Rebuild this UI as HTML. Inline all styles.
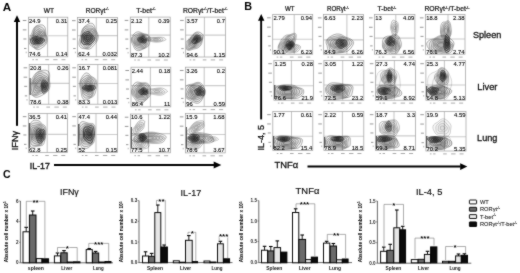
<!DOCTYPE html>
<html><head><meta charset="utf-8"><style>
html,body{margin:0;padding:0;background:#fff;width:520px;height:273px;overflow:hidden}
#w{width:520px;height:273px}
svg{display:block;font-family:"Liberation Sans", sans-serif}
</style></head><body>
<div id="w"><svg width="520" height="273" viewBox="0 0 520 273" font-family='"Liberation Sans", sans-serif'>
<defs><filter id="bl" x="0" y="0" width="520" height="273" filterUnits="userSpaceOnUse" color-interpolation-filters="sRGB"><feConvolveMatrix order="3" kernelMatrix="1 2 1 2 20 2 1 2 1" divisor="32" edgeMode="duplicate" preserveAlpha="true"/></filter></defs>
<g filter="url(#bl)">
<rect width="520" height="273" fill="#fff"/>
<text x="2.70" y="10.80" font-size="10.2" font-weight="bold" text-anchor="start" fill="#000" textLength="8.40" lengthAdjust="spacingAndGlyphs">A</text>
<text x="244.30" y="10.00" font-size="10.2" font-weight="bold" text-anchor="start" fill="#000" textLength="7.80" lengthAdjust="spacingAndGlyphs">B</text>
<text x="3.00" y="178.20" font-size="10.2" font-weight="bold" text-anchor="start" fill="#000" textLength="7.60" lengthAdjust="spacingAndGlyphs">C</text>
<text x="43.70" y="12.60" font-size="7.0" text-anchor="start" fill="#111" textLength="10.30" lengthAdjust="spacingAndGlyphs" stroke="#111" stroke-width="0.22">WT</text>
<text x="85.80" y="12.60" font-size="7.1" fill="#111" textLength="23.00" lengthAdjust="spacingAndGlyphs" stroke="#111" stroke-width="0.22"><tspan>RORγt</tspan><tspan font-size="3.91" dy="-2.70">-/-</tspan></text>
<text x="136.20" y="12.60" font-size="7.1" fill="#111" textLength="19.40" lengthAdjust="spacingAndGlyphs" stroke="#111" stroke-width="0.22"><tspan>T-bet</tspan><tspan font-size="3.91" dy="-2.70">-/-</tspan></text>
<text x="183.00" y="12.60" font-size="7.1" fill="#111" textLength="44.50" lengthAdjust="spacingAndGlyphs" stroke="#111" stroke-width="0.22"><tspan>RORγt</tspan><tspan font-size="3.91" dy="-2.70">-/-</tspan><tspan dy="2.70">/T-bet</tspan><tspan font-size="3.91" dy="-2.70">-/-</tspan></text>
<text x="285.00" y="11.20" font-size="7.0" text-anchor="start" fill="#111" textLength="9.60" lengthAdjust="spacingAndGlyphs" stroke="#111" stroke-width="0.22">WT</text>
<text x="326.90" y="11.20" font-size="7.1" fill="#111" textLength="21.90" lengthAdjust="spacingAndGlyphs" stroke="#111" stroke-width="0.22"><tspan>RORγt</tspan><tspan font-size="3.91" dy="-2.70">-/-</tspan></text>
<text x="377.50" y="11.20" font-size="7.1" fill="#111" textLength="18.80" lengthAdjust="spacingAndGlyphs" stroke="#111" stroke-width="0.22"><tspan>T-bet</tspan><tspan font-size="3.91" dy="-2.70">-/-</tspan></text>
<text x="424.40" y="11.20" font-size="7.1" fill="#111" textLength="45.00" lengthAdjust="spacingAndGlyphs" stroke="#111" stroke-width="0.22"><tspan>RORγt</tspan><tspan font-size="3.91" dy="-2.70">-/-</tspan><tspan dy="2.70">/T-bet</tspan><tspan font-size="3.91" dy="-2.70">-/-</tspan></text>
<text x="472.90" y="37.90" font-size="9.6" text-anchor="start" fill="#111" textLength="28.40" lengthAdjust="spacingAndGlyphs" stroke="#111" stroke-width="0.3">Spleen</text>
<text x="477.30" y="89.60" font-size="9.6" text-anchor="start" fill="#111" textLength="20.10" lengthAdjust="spacingAndGlyphs" stroke="#111" stroke-width="0.3">Liver</text>
<text x="477.10" y="140.70" font-size="9.6" text-anchor="start" fill="#111" textLength="20.30" lengthAdjust="spacingAndGlyphs" stroke="#111" stroke-width="0.3">Lung</text>
<clipPath id="ca11"><rect x="28.40" y="17.20" width="39.40" height="39.60"/></clipPath>
<line x1="47.60" y1="17.20" x2="47.60" y2="56.80" stroke="#b4b4b4" stroke-width="0.8"/>
<line x1="28.40" y1="35.80" x2="67.80" y2="35.80" stroke="#ccc" stroke-width="1.1"/>
<g clip-path="url(#ca11)">
<polygon points="47.1,39.0 47.0,41.4 46.3,43.6 45.1,45.4 43.6,46.7 42.2,47.7 40.8,48.7 39.3,49.4 37.8,49.7 36.4,49.4 35.1,48.7 33.9,47.8 32.7,46.9 31.4,46.1 30.1,44.8 29.2,42.9 29.0,40.6 29.5,38.2 30.4,36.1 31.3,34.2 32.1,32.4 32.7,30.5 33.6,28.6 34.7,27.0 36.1,25.9 37.7,25.3 39.2,25.0 40.7,24.8 42.3,24.9 43.8,25.7 44.9,27.1 45.5,29.1 45.7,31.2 45.9,33.2 46.2,35.0 46.7,36.8" fill="rgba(0,0,0,0.050)" stroke="rgba(25,25,25,0.70)" stroke-width="0.45" stroke-linejoin="round"/>
<polygon points="46.3,38.9 46.1,41.0 45.4,43.0 44.2,44.4 42.8,45.3 41.5,45.9 40.3,46.5 39.2,47.3 37.9,48.0 36.6,48.4 35.3,48.1 34.1,47.3 33.1,46.3 32.2,45.1 31.3,43.7 30.7,42.1 30.5,40.1 30.9,38.1 31.6,36.3 32.4,34.7 33.0,33.2 33.5,31.4 34.1,29.5 35.0,27.7 36.3,26.6 37.7,26.1 39.1,26.3 40.4,26.8 41.6,27.3 42.7,28.0 43.7,28.9 44.5,30.3 45.0,31.9 45.3,33.5 45.6,35.2 46.0,36.9" fill="rgba(0,0,0,0.050)" stroke="rgba(25,25,25,0.70)" stroke-width="0.45" stroke-linejoin="round"/>
<polygon points="45.0,38.7 44.8,40.4 44.2,42.0 43.2,43.2 42.1,44.0 41.0,44.5 40.0,45.0 39.1,45.8 38.0,46.7 36.8,47.3 35.5,47.3 34.5,46.5 33.8,45.3 33.2,43.9 32.8,42.5 32.4,41.1 32.1,39.6 32.2,38.0 32.5,36.4 33.0,35.0 33.5,33.6 34.0,32.1 34.6,30.4 35.4,28.9 36.6,27.9 37.8,27.7 39.0,28.1 40.0,28.8 40.9,29.5 41.9,29.9 42.9,30.4 43.8,31.1 44.5,32.3 44.9,33.8 45.0,35.4 45.1,37.0" fill="rgba(0,0,0,0.050)" stroke="rgba(25,25,25,0.70)" stroke-width="0.45" stroke-linejoin="round"/>
<polygon points="43.6,38.4 43.3,39.7 42.9,41.0 42.3,42.1 41.5,43.0 40.7,43.6 39.8,44.1 39.0,44.7 38.1,45.4 37.0,45.8 36.0,45.8 35.1,45.1 34.6,43.9 34.3,42.6 34.1,41.4 33.8,40.3 33.4,39.2 33.2,37.9 33.2,36.6 33.5,35.2 34.0,34.0 34.6,32.8 35.3,31.7 36.0,30.6 37.0,29.9 38.0,29.6 38.9,29.9 39.7,30.5 40.5,31.0 41.3,31.3 42.2,31.5 43.1,32.0 43.8,32.9 44.2,34.2 44.2,35.6 43.9,37.1" fill="rgba(0,0,0,0.050)" stroke="rgba(25,25,25,0.70)" stroke-width="0.45" stroke-linejoin="round"/>
<polygon points="42.3,38.2 42.1,39.1 41.8,40.1 41.5,41.1 41.0,42.1 40.4,42.8 39.7,43.3 38.9,43.6 38.1,43.9 37.4,44.0 36.6,43.8 35.9,43.3 35.5,42.5 35.2,41.5 35.0,40.5 34.8,39.7 34.4,38.8 34.1,37.8 34.0,36.7 34.2,35.5 34.7,34.5 35.3,33.7 36.0,33.0 36.7,32.4 37.4,31.9 38.1,31.5 38.8,31.5 39.5,31.7 40.2,32.0 40.8,32.3 41.5,32.5 42.3,33.0 42.8,33.7 43.1,34.8 43.0,36.0 42.7,37.2" fill="rgba(0,0,0,0.050)" stroke="rgba(25,25,25,0.70)" stroke-width="0.45" stroke-linejoin="round"/>
<polygon points="41.3,38.0 41.1,38.7 41.0,39.4 40.8,40.3 40.5,41.1 40.0,41.8 39.4,42.1 38.8,42.2 38.2,42.1 37.7,42.0 37.2,41.9 36.7,41.6 36.3,41.1 36.0,40.5 35.8,39.9 35.6,39.2 35.3,38.5 35.1,37.8 35.0,36.9 35.2,36.0 35.6,35.2 36.2,34.7 36.7,34.3 37.2,34.0 37.7,33.6 38.2,33.1 38.8,32.8 39.3,32.8 39.9,33.0 40.4,33.3 40.8,33.7 41.3,34.2 41.6,34.8 41.8,35.6 41.8,36.4 41.6,37.3" fill="rgba(0,0,0,0.050)" stroke="rgba(25,25,25,0.70)" stroke-width="0.45" stroke-linejoin="round"/>
<polygon points="40.5,37.8 40.3,38.3 40.2,38.9 40.1,39.4 39.9,40.0 39.5,40.4 39.1,40.6 38.7,40.6 38.3,40.4 38.0,40.3 37.7,40.2 37.3,40.1 37.0,40.0 36.7,39.7 36.5,39.2 36.4,38.7 36.3,38.2 36.3,37.7 36.3,37.1 36.4,36.5 36.7,36.1 37.0,35.7 37.4,35.4 37.7,35.2 38.0,34.9 38.3,34.5 38.7,34.2 39.1,34.1 39.5,34.3 39.8,34.6 40.0,35.0 40.2,35.4 40.4,35.8 40.6,36.3 40.6,36.8 40.6,37.3" fill="rgba(0,0,0,0.050)" stroke="rgba(25,25,25,0.70)" stroke-width="0.45" stroke-linejoin="round"/>
<polygon points="44.6,40.5 44.2,41.2 43.6,41.8 43.0,42.4 42.3,42.9 41.5,43.4 40.4,43.7 39.3,43.9 38.1,44.0 37.0,44.1 35.8,44.2 34.5,44.2 33.1,44.1 32.0,43.8 31.2,43.1 30.9,42.4 30.8,41.7 30.8,41.1 30.6,40.5 30.4,39.9 30.4,39.2 30.8,38.6 31.6,38.0 32.5,37.6 33.4,37.1 34.5,36.8 35.7,36.5 37.0,36.5 38.2,36.7 39.3,37.1 40.1,37.5 41.0,37.9 41.9,38.2 43.0,38.6 44.0,39.1 44.6,39.8" fill="rgba(0,0,0,0.153)" stroke="rgba(25,25,25,0.95)" stroke-width="0.6" stroke-linejoin="round"/>
<polygon points="42.7,40.5 42.3,41.0 41.7,41.4 41.1,41.8 40.7,42.2 40.2,42.6 39.6,42.9 38.8,43.2 37.9,43.4 37.0,43.4 36.1,43.3 35.1,43.3 34.2,43.1 33.4,42.8 32.8,42.4 32.6,41.9 32.5,41.4 32.4,40.9 32.2,40.5 32.0,40.0 31.8,39.5 32.0,38.9 32.6,38.5 33.4,38.2 34.4,38.0 35.2,37.9 36.1,37.7 37.0,37.7 37.9,37.7 38.7,37.9 39.5,38.2 40.1,38.5 40.9,38.7 41.7,39.0 42.4,39.4 42.8,39.9" fill="rgba(0,0,0,0.153)" stroke="rgba(25,25,25,0.95)" stroke-width="0.6" stroke-linejoin="round"/>
<polygon points="40.7,40.5 40.4,40.8 40.0,41.1 39.7,41.3 39.4,41.6 39.1,41.9 38.8,42.2 38.3,42.4 37.7,42.5 37.0,42.5 36.4,42.4 35.8,42.3 35.3,42.1 34.8,41.9 34.3,41.7 34.1,41.4 33.9,41.1 33.8,40.8 33.7,40.5 33.5,40.2 33.5,39.8 33.6,39.4 34.0,39.1 34.6,39.0 35.3,38.9 35.9,38.9 36.4,38.8 37.0,38.7 37.6,38.7 38.2,38.7 38.8,38.8 39.3,39.0 39.7,39.3 40.1,39.5 40.5,39.8 40.7,40.1" fill="rgba(0,0,0,0.153)" stroke="rgba(25,25,25,0.95)" stroke-width="0.6" stroke-linejoin="round"/>
<polygon points="38.7,40.5 38.7,40.7 38.6,40.8 38.4,40.9 38.3,41.1 38.1,41.2 37.9,41.4 37.7,41.5 37.3,41.5 37.0,41.5 36.7,41.4 36.4,41.3 36.2,41.2 36.0,41.2 35.7,41.1 35.5,41.0 35.3,40.8 35.3,40.7 35.2,40.5 35.2,40.3 35.3,40.2 35.4,40.0 35.6,39.9 35.9,39.8 36.2,39.7 36.5,39.7 36.7,39.7 37.0,39.6 37.3,39.6 37.6,39.5 38.0,39.6 38.2,39.7 38.4,39.9 38.5,40.0 38.6,40.2 38.7,40.3" fill="rgba(0,0,0,0.153)" stroke="rgba(25,25,25,0.95)" stroke-width="0.6" stroke-linejoin="round"/>
</g>
<rect x="28.40" y="17.20" width="39.40" height="39.60" fill="none" stroke="#a4a4a4" stroke-width="0.75"/>
<text x="29.10" y="22.60" font-size="5.85" text-anchor="start" fill="#000" stroke="#000" stroke-width="0.1">24.9</text>
<text x="67.20" y="22.60" font-size="5.85" text-anchor="end" fill="#000" stroke="#000" stroke-width="0.1">0.31</text>
<text x="29.10" y="56.30" font-size="5.85" text-anchor="start" fill="#000" stroke="#000" stroke-width="0.1">74.6</text>
<text x="67.20" y="56.30" font-size="5.85" text-anchor="end" fill="#000" stroke="#000" stroke-width="0.1">0.14</text>
<line x1="22.80" y1="20.49" x2="26.40" y2="20.49" stroke="#8c8c8c" stroke-width="0.9"/>
<line x1="22.80" y1="29.87" x2="26.40" y2="29.87" stroke="#8c8c8c" stroke-width="0.9"/>
<line x1="23.40" y1="38.98" x2="26.40" y2="38.98" stroke="#8c8c8c" stroke-width="0.9"/>
<line x1="24.00" y1="48.48" x2="26.40" y2="48.48" stroke="#8c8c8c" stroke-width="0.9"/>
<line x1="26.20" y1="51.65" x2="26.20" y2="53.24" stroke="#999" stroke-width="0.7"/>
<line x1="32.34" y1="59.70" x2="33.92" y2="59.70" stroke="#a0a0a0" stroke-width="0.9"/>
<line x1="35.49" y1="59.70" x2="37.86" y2="59.70" stroke="#a0a0a0" stroke-width="0.9"/>
<line x1="45.34" y1="59.70" x2="48.89" y2="59.70" stroke="#a0a0a0" stroke-width="0.9"/>
<line x1="53.22" y1="59.70" x2="57.56" y2="59.70" stroke="#a0a0a0" stroke-width="0.9"/>
<line x1="61.50" y1="59.70" x2="65.44" y2="59.70" stroke="#a0a0a0" stroke-width="0.9"/>
<clipPath id="ca12"><rect x="77.60" y="17.40" width="40.00" height="39.40"/></clipPath>
<line x1="96.30" y1="17.40" x2="96.30" y2="56.80" stroke="#b4b4b4" stroke-width="0.8"/>
<line x1="77.60" y1="35.60" x2="117.60" y2="35.60" stroke="#ccc" stroke-width="1.1"/>
<g clip-path="url(#ca12)">
<polygon points="97.8,39.5 96.7,41.7 95.4,43.6 94.1,45.2 92.7,46.8 91.3,48.1 89.8,49.0 88.2,49.3 86.7,49.1 85.3,48.8 83.9,48.6 82.3,48.4 80.7,47.7 79.5,46.3 78.9,44.1 79.1,41.5 79.7,39.1 80.3,37.0 80.8,34.9 81.2,32.8 81.8,30.6 82.8,28.5 84.1,26.9 85.6,25.7 87.2,24.7 88.8,23.8 90.5,23.2 92.2,23.3 93.5,24.3 94.5,26.0 95.1,27.9 95.6,29.7 96.4,31.2 97.3,32.7 98.0,34.7 98.3,37.0" fill="rgba(0,0,0,0.050)" stroke="rgba(25,25,25,0.70)" stroke-width="0.45" stroke-linejoin="round"/>
<polygon points="96.7,39.2 95.7,41.1 94.3,42.6 93.0,43.7 91.9,44.9 90.8,46.2 89.6,47.4 88.2,48.3 86.8,48.6 85.5,48.3 84.2,47.8 83.0,47.1 81.8,46.1 80.9,44.8 80.5,43.0 80.6,40.9 81.0,38.8 81.5,37.0 81.9,35.2 82.1,33.3 82.4,31.2 83.2,29.1 84.4,27.5 85.8,26.5 87.3,26.1 88.8,25.9 90.1,25.9 91.5,26.0 92.7,26.5 93.7,27.5 94.5,28.8 95.1,30.3 95.7,31.7 96.4,33.1 97.1,34.9 97.2,37.0" fill="rgba(0,0,0,0.050)" stroke="rgba(25,25,25,0.70)" stroke-width="0.45" stroke-linejoin="round"/>
<polygon points="95.3,38.8 94.4,40.4 93.4,41.6 92.3,42.6 91.4,43.6 90.5,44.8 89.5,46.1 88.3,47.2 86.9,47.6 85.7,47.3 84.7,46.5 83.9,45.4 83.2,44.3 82.5,43.1 82.0,41.8 81.8,40.2 82.0,38.6 82.2,37.0 82.5,35.4 82.8,33.7 83.1,31.9 83.8,30.1 84.9,28.7 86.2,28.0 87.5,27.9 88.7,28.1 89.8,28.2 90.9,28.2 92.0,28.2 93.1,28.6 94.0,29.4 94.7,30.7 95.1,32.1 95.4,33.6 95.7,35.3 95.7,37.0" fill="rgba(0,0,0,0.050)" stroke="rgba(25,25,25,0.70)" stroke-width="0.45" stroke-linejoin="round"/>
<polygon points="93.8,38.4 93.3,39.7 92.6,40.9 91.8,41.9 91.0,42.8 90.2,43.8 89.3,44.8 88.3,45.7 87.2,46.1 86.2,45.7 85.4,44.8 84.9,43.6 84.4,42.6 83.9,41.7 83.3,40.8 82.9,39.7 82.7,38.4 82.8,37.0 83.1,35.6 83.6,34.2 84.1,32.8 84.7,31.4 85.6,30.4 86.7,29.7 87.7,29.6 88.7,29.8 89.5,29.9 90.4,29.8 91.5,29.6 92.5,29.6 93.4,30.2 94.0,31.4 94.2,32.8 94.2,34.2 94.1,35.6 94.0,37.0" fill="rgba(0,0,0,0.050)" stroke="rgba(25,25,25,0.70)" stroke-width="0.45" stroke-linejoin="round"/>
<polygon points="92.5,38.1 92.3,39.2 92.0,40.3 91.4,41.3 90.7,42.0 89.9,42.7 89.2,43.3 88.3,43.8 87.5,43.9 86.7,43.7 86.1,43.0 85.7,42.2 85.3,41.4 84.9,40.7 84.3,40.1 83.8,39.3 83.5,38.2 83.6,37.0 84.0,35.8 84.5,34.7 85.1,33.8 85.7,32.9 86.4,32.1 87.1,31.5 87.9,31.1 88.6,31.0 89.4,31.0 90.1,30.9 90.9,30.9 91.8,31.0 92.5,31.5 93.0,32.4 93.0,33.6 92.9,34.9 92.7,36.0 92.6,37.0" fill="rgba(0,0,0,0.050)" stroke="rgba(25,25,25,0.70)" stroke-width="0.45" stroke-linejoin="round"/>
<polygon points="91.5,37.8 91.5,38.7 91.2,39.6 90.8,40.4 90.2,41.0 89.6,41.3 89.0,41.5 88.4,41.7 87.8,41.8 87.2,41.7 86.7,41.5 86.3,41.0 86.0,40.5 85.6,39.9 85.3,39.4 84.9,38.7 84.7,37.9 84.8,37.0 85.1,36.1 85.6,35.3 86.1,34.7 86.6,34.2 87.0,33.5 87.5,32.9 88.0,32.4 88.6,32.1 89.2,32.1 89.8,32.2 90.4,32.3 90.9,32.6 91.4,33.0 91.7,33.7 91.8,34.6 91.7,35.4 91.6,36.3 91.5,37.0" fill="rgba(0,0,0,0.050)" stroke="rgba(25,25,25,0.70)" stroke-width="0.45" stroke-linejoin="round"/>
<polygon points="90.6,37.6 90.5,38.2 90.4,38.8 90.1,39.3 89.7,39.7 89.2,39.8 88.8,39.9 88.4,39.9 88.1,40.0 87.7,40.1 87.3,40.0 86.9,39.9 86.7,39.5 86.5,39.1 86.3,38.6 86.1,38.1 86.1,37.6 86.1,37.0 86.3,36.4 86.6,35.9 87.0,35.5 87.3,35.2 87.5,34.7 87.8,34.2 88.2,33.8 88.6,33.5 89.0,33.5 89.4,33.7 89.7,34.0 90.0,34.3 90.3,34.6 90.5,34.9 90.6,35.4 90.7,35.9 90.6,36.5 90.6,37.0" fill="rgba(0,0,0,0.050)" stroke="rgba(25,25,25,0.70)" stroke-width="0.45" stroke-linejoin="round"/>
<polygon points="93.1,41.7 92.4,42.6 91.6,43.4 90.7,44.1 89.7,44.5 88.6,44.6 87.5,44.5 86.4,44.5 85.3,44.5 84.1,44.4 82.9,44.0 81.9,43.2 81.5,42.0 81.4,40.7 81.6,39.5 81.6,38.5 81.6,37.5 81.6,36.3 81.8,35.2 82.4,34.2 83.3,33.5 84.2,32.8 85.2,32.3 86.3,31.8 87.5,31.5 88.7,31.7 89.8,32.3 90.6,33.2 91.2,34.1 91.9,34.8 92.7,35.5 93.6,36.3 94.4,37.3 94.6,38.5 94.4,39.7 93.8,40.8" fill="rgba(0,0,0,0.128)" stroke="rgba(25,25,25,0.95)" stroke-width="0.6" stroke-linejoin="round"/>
<polygon points="91.5,40.8 90.9,41.3 90.4,41.9 89.8,42.5 89.2,43.1 88.4,43.4 87.5,43.4 86.6,43.3 85.8,43.2 85.0,42.9 84.2,42.5 83.5,41.9 83.1,41.0 83.1,40.1 83.2,39.3 83.2,38.5 83.1,37.7 83.0,36.9 83.0,35.9 83.4,35.1 84.1,34.4 85.0,34.1 85.8,33.9 86.7,33.8 87.5,33.7 88.3,33.7 89.1,34.0 89.8,34.5 90.4,35.0 91.0,35.6 91.6,36.1 92.2,36.8 92.8,37.6 93.0,38.5 92.7,39.4 92.2,40.2" fill="rgba(0,0,0,0.128)" stroke="rgba(25,25,25,0.95)" stroke-width="0.6" stroke-linejoin="round"/>
<polygon points="90.1,40.0 89.7,40.3 89.4,40.7 89.1,41.2 88.7,41.7 88.1,42.0 87.5,42.0 86.9,41.9 86.4,41.6 85.9,41.3 85.4,40.9 85.0,40.6 84.7,40.1 84.5,39.6 84.5,39.0 84.5,38.5 84.4,38.0 84.4,37.4 84.5,36.7 84.7,36.2 85.2,35.8 85.8,35.6 86.4,35.6 87.0,35.6 87.5,35.5 88.0,35.5 88.6,35.5 89.1,35.6 89.6,36.0 90.0,36.4 90.3,36.9 90.7,37.4 90.9,37.9 91.0,38.5 90.8,39.1 90.5,39.6" fill="rgba(0,0,0,0.128)" stroke="rgba(25,25,25,0.95)" stroke-width="0.6" stroke-linejoin="round"/>
<polygon points="88.8,39.3 88.7,39.5 88.5,39.7 88.3,39.9 88.1,40.1 87.8,40.3 87.5,40.3 87.2,40.2 87.0,40.0 86.8,39.8 86.6,39.6 86.3,39.5 86.1,39.3 86.0,39.1 85.9,38.8 85.9,38.5 85.9,38.2 85.9,37.9 86.0,37.6 86.2,37.4 86.4,37.2 86.7,37.1 87.0,37.1 87.2,37.1 87.5,37.1 87.8,37.0 88.1,36.9 88.4,37.0 88.6,37.1 88.8,37.4 88.9,37.7 89.0,37.9 89.1,38.2 89.1,38.5 89.1,38.8 89.0,39.0" fill="rgba(0,0,0,0.128)" stroke="rgba(25,25,25,0.95)" stroke-width="0.6" stroke-linejoin="round"/>
</g>
<rect x="77.60" y="17.40" width="40.00" height="39.40" fill="none" stroke="#a4a4a4" stroke-width="0.75"/>
<text x="78.30" y="22.80" font-size="5.85" text-anchor="start" fill="#000" stroke="#000" stroke-width="0.1">37.4</text>
<text x="117.00" y="22.80" font-size="5.85" text-anchor="end" fill="#000" stroke="#000" stroke-width="0.1">0.25</text>
<text x="78.30" y="56.30" font-size="5.85" text-anchor="start" fill="#000" stroke="#000" stroke-width="0.1">62.4</text>
<text x="117.00" y="56.30" font-size="5.85" text-anchor="end" fill="#000" stroke="#000" stroke-width="0.1">0.032</text>
<line x1="72.00" y1="20.67" x2="75.60" y2="20.67" stroke="#8c8c8c" stroke-width="0.9"/>
<line x1="72.00" y1="30.01" x2="75.60" y2="30.01" stroke="#8c8c8c" stroke-width="0.9"/>
<line x1="72.60" y1="39.07" x2="75.60" y2="39.07" stroke="#8c8c8c" stroke-width="0.9"/>
<line x1="73.20" y1="48.53" x2="75.60" y2="48.53" stroke="#8c8c8c" stroke-width="0.9"/>
<line x1="75.40" y1="51.68" x2="75.40" y2="53.25" stroke="#999" stroke-width="0.7"/>
<line x1="81.60" y1="59.70" x2="83.20" y2="59.70" stroke="#a0a0a0" stroke-width="0.9"/>
<line x1="84.80" y1="59.70" x2="87.20" y2="59.70" stroke="#a0a0a0" stroke-width="0.9"/>
<line x1="94.80" y1="59.70" x2="98.40" y2="59.70" stroke="#a0a0a0" stroke-width="0.9"/>
<line x1="102.80" y1="59.70" x2="107.20" y2="59.70" stroke="#a0a0a0" stroke-width="0.9"/>
<line x1="111.20" y1="59.70" x2="115.20" y2="59.70" stroke="#a0a0a0" stroke-width="0.9"/>
<clipPath id="ca13"><rect x="130.30" y="17.10" width="39.90" height="40.00"/></clipPath>
<line x1="148.80" y1="17.10" x2="148.80" y2="57.10" stroke="#b4b4b4" stroke-width="0.8"/>
<line x1="130.30" y1="35.10" x2="170.20" y2="35.10" stroke="#ccc" stroke-width="1.1"/>
<g clip-path="url(#ca13)">
<polygon points="150.1,41.0 149.7,42.5 149.3,44.0 148.7,45.5 147.7,46.7 146.4,47.6 144.9,48.3 143.5,48.9 142.1,49.5 140.5,50.3 138.7,50.7 136.9,50.5 135.3,49.5 134.3,48.0 133.6,46.5 133.0,45.1 132.3,43.8 131.6,42.5 131.1,41.0 131.0,39.4 131.4,37.9 132.2,36.5 133.1,35.1 134.1,33.8 135.4,32.7 137.0,31.9 138.8,31.8 140.5,32.3 142.0,33.0 143.4,33.5 144.8,33.9 146.5,34.3 148.1,34.9 149.5,36.1 150.2,37.7 150.3,39.4" fill="rgba(0,0,0,0.050)" stroke="rgba(25,25,25,0.70)" stroke-width="0.45" stroke-linejoin="round"/>
<polygon points="148.5,41.0 148.0,42.3 147.6,43.4 147.3,44.7 146.8,46.0 145.9,47.1 144.7,47.9 143.4,48.5 142.0,48.8 140.5,49.1 139.0,49.2 137.4,48.9 136.1,48.2 135.2,47.0 134.6,45.7 134.1,44.5 133.5,43.4 132.7,42.3 131.9,41.0 131.6,39.5 132.0,38.1 132.9,36.8 134.0,35.8 135.2,35.0 136.4,34.3 137.7,33.7 139.1,33.3 140.5,33.4 141.9,33.7 143.1,34.1 144.5,34.5 145.9,34.9 147.4,35.5 148.5,36.6 149.1,38.0 149.0,39.6" fill="rgba(0,0,0,0.050)" stroke="rgba(25,25,25,0.70)" stroke-width="0.45" stroke-linejoin="round"/>
<polygon points="147.2,41.0 146.7,42.0 146.4,43.0 146.3,44.2 146.0,45.4 145.4,46.6 144.4,47.4 143.1,47.8 141.8,47.8 140.5,47.7 139.3,47.5 138.1,47.3 137.0,46.8 136.0,46.0 135.3,45.1 134.8,44.1 134.2,43.2 133.5,42.2 133.0,41.0 132.7,39.7 133.0,38.4 133.9,37.4 135.1,36.7 136.3,36.2 137.3,35.7 138.2,35.1 139.3,34.5 140.5,34.2 141.8,34.2 143.0,34.6 144.1,35.1 145.2,35.7 146.2,36.4 147.1,37.4 147.6,38.6 147.6,39.8" fill="rgba(0,0,0,0.050)" stroke="rgba(25,25,25,0.70)" stroke-width="0.45" stroke-linejoin="round"/>
<polygon points="146.2,41.0 145.9,41.9 145.7,42.8 145.5,43.7 145.2,44.8 144.7,45.7 143.8,46.4 142.7,46.7 141.5,46.6 140.5,46.3 139.6,46.0 138.6,45.8 137.7,45.7 136.7,45.3 135.9,44.7 135.3,43.9 134.9,42.9 134.5,42.0 134.3,41.0 134.2,40.0 134.5,38.9 135.2,38.1 136.1,37.5 137.1,37.1 137.9,36.7 138.6,36.2 139.5,35.5 140.5,35.0 141.6,34.9 142.7,35.3 143.6,35.9 144.3,36.7 145.0,37.4 145.6,38.2 146.0,39.1 146.2,40.0" fill="rgba(0,0,0,0.050)" stroke="rgba(25,25,25,0.70)" stroke-width="0.45" stroke-linejoin="round"/>
<polygon points="145.3,41.0 145.3,41.8 145.0,42.6 144.7,43.3 144.3,44.0 143.7,44.7 143.0,45.2 142.2,45.4 141.3,45.3 140.5,45.1 139.8,44.9 139.0,44.8 138.2,44.8 137.3,44.6 136.5,44.2 136.0,43.5 135.8,42.6 135.8,41.8 135.8,41.0 135.9,40.2 136.1,39.5 136.4,38.8 137.0,38.2 137.6,37.8 138.3,37.4 138.9,36.9 139.7,36.5 140.5,36.1 141.4,36.0 142.3,36.4 143.0,37.0 143.4,37.7 143.8,38.4 144.2,39.0 144.7,39.5 145.1,40.2" fill="rgba(0,0,0,0.050)" stroke="rgba(25,25,25,0.70)" stroke-width="0.45" stroke-linejoin="round"/>
<polygon points="144.3,41.0 144.3,41.6 144.1,42.2 143.7,42.7 143.2,43.1 142.7,43.5 142.3,43.9 141.7,44.1 141.1,44.2 140.5,44.2 139.9,44.1 139.3,44.0 138.7,43.9 138.1,43.8 137.5,43.4 137.1,42.9 137.0,42.2 137.1,41.6 137.2,41.0 137.3,40.5 137.4,39.9 137.5,39.4 137.7,38.8 138.2,38.4 138.7,38.0 139.3,37.8 139.9,37.6 140.5,37.4 141.2,37.4 141.8,37.7 142.3,38.1 142.6,38.6 142.9,39.1 143.2,39.5 143.7,39.9 144.1,40.4" fill="rgba(0,0,0,0.050)" stroke="rgba(25,25,25,0.70)" stroke-width="0.45" stroke-linejoin="round"/>
<polygon points="143.1,41.0 143.1,41.4 142.9,41.8 142.6,42.1 142.2,42.3 141.9,42.6 141.6,42.8 141.3,43.0 140.9,43.2 140.5,43.3 140.1,43.2 139.7,43.1 139.3,43.0 138.9,42.8 138.6,42.5 138.3,42.2 138.2,41.8 138.3,41.4 138.4,41.0 138.4,40.7 138.4,40.3 138.4,39.9 138.6,39.5 138.8,39.1 139.2,38.9 139.7,38.8 140.1,38.8 140.5,38.8 140.9,38.8 141.3,38.9 141.7,39.1 142.0,39.4 142.2,39.7 142.4,39.9 142.7,40.2 143.0,40.6" fill="rgba(0,0,0,0.050)" stroke="rgba(25,25,25,0.70)" stroke-width="0.45" stroke-linejoin="round"/>
<polygon points="165.9,39.5 165.8,39.9 165.1,40.3 164.2,40.7 163.1,41.0 162.1,41.3 161.0,41.7 159.6,42.0 157.9,42.2 156.0,42.3 154.2,42.1 152.6,41.8 151.4,41.5 150.2,41.2 148.9,41.0 147.6,40.7 146.5,40.4 146.0,39.9 145.9,39.5 146.1,39.1 146.4,38.6 146.8,38.2 147.8,37.8 149.2,37.5 151.0,37.3 152.8,37.3 154.5,37.3 156.0,37.3 157.6,37.2 159.5,37.1 161.4,37.2 163.0,37.4 164.2,37.8 164.9,38.2 165.3,38.7 165.7,39.1" fill="rgba(0,0,0,0.035)" stroke="rgba(25,25,25,0.49)" stroke-width="0.45" stroke-linejoin="round"/>
<polygon points="162.9,39.5 163.1,39.8 163.0,40.1 162.6,40.5 161.8,40.7 160.9,40.9 159.8,41.2 158.7,41.3 157.4,41.5 156.0,41.5 154.7,41.4 153.6,41.2 152.6,41.0 151.7,40.8 150.7,40.6 149.5,40.4 148.5,40.2 147.9,39.9 147.9,39.5 148.3,39.2 149.0,38.9 149.6,38.6 150.3,38.3 151.2,38.1 152.3,37.9 153.6,37.8 154.8,37.8 156.0,37.8 157.3,37.7 158.7,37.7 160.1,37.7 161.4,37.9 162.2,38.2 162.5,38.6 162.6,38.9 162.7,39.2" fill="rgba(0,0,0,0.035)" stroke="rgba(25,25,25,0.49)" stroke-width="0.45" stroke-linejoin="round"/>
<polygon points="160.5,39.5 160.8,39.7 160.9,39.9 160.7,40.2 160.2,40.4 159.4,40.5 158.5,40.6 157.7,40.7 156.9,40.7 156.0,40.7 155.1,40.7 154.4,40.6 153.7,40.5 153.0,40.4 152.3,40.3 151.6,40.1 150.9,40.0 150.5,39.7 150.5,39.5 150.9,39.3 151.5,39.1 152.1,38.9 152.5,38.8 152.9,38.6 153.5,38.4 154.3,38.3 155.1,38.3 156.0,38.2 156.9,38.3 157.8,38.3 158.7,38.3 159.4,38.5 160.0,38.7 160.2,38.9 160.3,39.1 160.3,39.3" fill="rgba(0,0,0,0.035)" stroke="rgba(25,25,25,0.49)" stroke-width="0.45" stroke-linejoin="round"/>
<polygon points="158.4,39.5 158.5,39.6 158.5,39.7 158.4,39.8 158.1,39.9 157.7,40.0 157.2,40.0 156.8,40.0 156.4,40.1 156.0,40.1 155.6,40.1 155.1,40.1 154.7,40.0 154.4,40.0 154.1,39.9 153.8,39.8 153.5,39.7 153.4,39.6 153.4,39.5 153.6,39.4 153.8,39.3 154.1,39.2 154.3,39.1 154.5,39.0 154.7,38.9 155.1,38.9 155.5,38.8 156.0,38.8 156.4,38.9 156.8,38.9 157.2,39.0 157.6,39.0 157.9,39.1 158.1,39.2 158.2,39.3 158.3,39.4" fill="rgba(0,0,0,0.035)" stroke="rgba(25,25,25,0.49)" stroke-width="0.45" stroke-linejoin="round"/>
<polygon points="146.8,39.5 146.6,40.1 146.4,40.6 146.3,41.2 146.1,41.8 145.7,42.4 145.0,42.9 144.2,43.1 143.3,43.0 142.5,42.8 141.8,42.6 141.1,42.5 140.4,42.4 139.6,42.2 139.0,41.8 138.6,41.3 138.2,40.7 138.0,40.1 137.8,39.5 137.8,38.8 138.0,38.2 138.5,37.7 139.2,37.3 139.9,37.1 140.5,36.8 141.1,36.5 141.7,36.1 142.5,35.8 143.4,35.7 144.2,35.9 144.9,36.3 145.4,36.8 145.9,37.3 146.4,37.8 146.7,38.3 146.9,38.9" fill="rgba(0,0,0,0.153)" stroke="rgba(25,25,25,0.95)" stroke-width="0.6" stroke-linejoin="round"/>
<polygon points="145.9,39.5 145.9,40.0 145.7,40.4 145.5,40.8 145.2,41.2 144.8,41.6 144.3,41.9 143.7,42.1 143.1,42.1 142.5,41.9 142.0,41.8 141.5,41.7 140.9,41.7 140.3,41.6 139.7,41.3 139.3,40.9 139.1,40.5 139.1,40.0 139.2,39.5 139.2,39.1 139.3,38.6 139.6,38.2 140.0,37.9 140.5,37.6 140.9,37.4 141.4,37.2 141.9,36.9 142.5,36.7 143.2,36.6 143.8,36.8 144.3,37.1 144.6,37.6 144.9,38.0 145.2,38.3 145.5,38.7 145.8,39.1" fill="rgba(0,0,0,0.153)" stroke="rgba(25,25,25,0.95)" stroke-width="0.6" stroke-linejoin="round"/>
<polygon points="144.9,39.5 144.9,39.8 144.8,40.1 144.5,40.4 144.2,40.6 143.9,40.8 143.6,41.0 143.3,41.1 142.9,41.2 142.5,41.2 142.1,41.1 141.8,41.0 141.4,41.0 141.0,40.9 140.6,40.8 140.3,40.5 140.3,40.1 140.3,39.8 140.4,39.5 140.5,39.2 140.5,38.9 140.6,38.6 140.8,38.4 141.0,38.1 141.4,38.0 141.7,37.8 142.1,37.7 142.5,37.7 142.9,37.6 143.3,37.8 143.6,38.0 143.9,38.2 144.0,38.5 144.2,38.7 144.5,38.9 144.7,39.2" fill="rgba(0,0,0,0.153)" stroke="rgba(25,25,25,0.95)" stroke-width="0.6" stroke-linejoin="round"/>
<polygon points="143.7,39.5 143.7,39.7 143.6,39.8 143.5,39.9 143.3,40.0 143.2,40.1 143.0,40.2 142.9,40.3 142.7,40.4 142.5,40.4 142.3,40.4 142.1,40.3 141.9,40.3 141.7,40.2 141.6,40.1 141.5,40.0 141.4,39.8 141.4,39.6 141.5,39.5 141.5,39.4 141.5,39.2 141.5,39.1 141.6,38.9 141.7,38.8 141.9,38.7 142.1,38.6 142.3,38.6 142.5,38.6 142.7,38.6 142.9,38.7 143.1,38.8 143.2,38.9 143.3,39.0 143.4,39.1 143.5,39.2 143.7,39.3" fill="rgba(0,0,0,0.153)" stroke="rgba(25,25,25,0.95)" stroke-width="0.6" stroke-linejoin="round"/>
</g>
<rect x="130.30" y="17.10" width="39.90" height="40.00" fill="none" stroke="#a4a4a4" stroke-width="0.75"/>
<text x="131.00" y="22.50" font-size="5.85" text-anchor="start" fill="#000" stroke="#000" stroke-width="0.1">2.12</text>
<text x="169.60" y="22.50" font-size="5.85" text-anchor="end" fill="#000" stroke="#000" stroke-width="0.1">0.39</text>
<text x="131.00" y="56.60" font-size="5.85" text-anchor="start" fill="#000" stroke="#000" stroke-width="0.1">87.3</text>
<text x="169.60" y="56.60" font-size="5.85" text-anchor="end" fill="#000" stroke="#000" stroke-width="0.1">10.2</text>
<line x1="124.70" y1="20.42" x2="128.30" y2="20.42" stroke="#8c8c8c" stroke-width="0.9"/>
<line x1="124.70" y1="29.90" x2="128.30" y2="29.90" stroke="#8c8c8c" stroke-width="0.9"/>
<line x1="125.30" y1="39.10" x2="128.30" y2="39.10" stroke="#8c8c8c" stroke-width="0.9"/>
<line x1="125.90" y1="48.70" x2="128.30" y2="48.70" stroke="#8c8c8c" stroke-width="0.9"/>
<line x1="128.10" y1="51.90" x2="128.10" y2="53.50" stroke="#999" stroke-width="0.7"/>
<line x1="134.29" y1="60.00" x2="135.89" y2="60.00" stroke="#a0a0a0" stroke-width="0.9"/>
<line x1="137.48" y1="60.00" x2="139.88" y2="60.00" stroke="#a0a0a0" stroke-width="0.9"/>
<line x1="147.46" y1="60.00" x2="151.05" y2="60.00" stroke="#a0a0a0" stroke-width="0.9"/>
<line x1="155.44" y1="60.00" x2="159.83" y2="60.00" stroke="#a0a0a0" stroke-width="0.9"/>
<line x1="163.82" y1="60.00" x2="167.81" y2="60.00" stroke="#a0a0a0" stroke-width="0.9"/>
<clipPath id="ca14"><rect x="185.70" y="17.10" width="39.80" height="39.90"/></clipPath>
<line x1="204.40" y1="17.10" x2="204.40" y2="57.00" stroke="#b4b4b4" stroke-width="0.8"/>
<line x1="185.70" y1="35.10" x2="225.50" y2="35.10" stroke="#ccc" stroke-width="1.1"/>
<g clip-path="url(#ca14)">
<polygon points="202.2,33.8 202.9,34.7 203.2,35.9 203.1,37.3 202.8,38.7 202.4,40.1 202.2,41.6 201.8,43.2 201.0,45.0 199.6,46.6 197.9,47.9 196.2,48.6 194.6,48.9 193.2,49.2 191.7,49.7 190.2,50.2 188.8,50.4 187.5,50.1 186.6,49.4 186.0,48.4 185.5,47.3 185.1,46.1 185.0,44.7 185.4,43.1 186.4,41.4 187.8,39.9 189.2,38.6 190.4,37.4 191.6,36.1 192.9,34.6 194.4,33.2 196.1,32.2 197.7,31.9 199.1,32.1 200.3,32.6 201.3,33.2" fill="rgba(0,0,0,0.050)" stroke="rgba(25,25,25,0.70)" stroke-width="0.45" stroke-linejoin="round"/>
<polygon points="200.7,35.3 201.5,35.8 202.2,36.5 202.5,37.6 202.4,38.8 202.0,40.2 201.5,41.6 200.8,43.0 200.0,44.5 198.8,45.8 197.4,46.9 195.9,47.5 194.6,47.8 193.4,48.1 192.1,48.5 190.7,49.1 189.3,49.6 188.0,49.6 187.1,48.9 186.7,47.8 186.6,46.6 186.7,45.3 186.8,44.1 187.1,42.8 187.7,41.4 188.6,40.1 189.7,38.9 190.8,37.8 191.8,36.6 193.0,35.3 194.4,34.0 195.9,33.2 197.4,32.9 198.5,33.3 199.3,34.1 200.0,34.8" fill="rgba(0,0,0,0.050)" stroke="rgba(25,25,25,0.70)" stroke-width="0.45" stroke-linejoin="round"/>
<polygon points="199.7,36.3 200.5,36.6 201.3,37.1 201.8,37.9 201.8,39.0 201.3,40.3 200.5,41.6 199.7,42.7 198.8,43.8 197.9,44.9 196.9,45.9 195.7,46.6 194.6,47.1 193.5,47.4 192.4,47.8 191.2,48.3 189.9,48.6 188.8,48.6 188.0,48.0 187.8,46.9 188.0,45.7 188.3,44.6 188.4,43.5 188.5,42.5 188.7,41.4 189.2,40.2 190.0,39.1 191.0,38.0 192.1,37.1 193.2,36.1 194.4,35.3 195.7,34.6 196.9,34.4 197.8,34.7 198.5,35.3 199.1,35.9" fill="rgba(0,0,0,0.050)" stroke="rgba(25,25,25,0.70)" stroke-width="0.45" stroke-linejoin="round"/>
<polygon points="199.0,37.0 199.7,37.3 200.3,37.7 200.7,38.4 200.7,39.4 200.2,40.5 199.4,41.6 198.6,42.5 197.8,43.3 197.2,44.2 196.4,45.0 195.5,45.9 194.6,46.5 193.6,46.9 192.6,47.1 191.7,47.3 190.7,47.3 189.9,47.2 189.3,46.7 189.1,45.9 189.2,44.9 189.5,44.0 189.6,43.2 189.6,42.4 189.6,41.4 189.8,40.4 190.5,39.3 191.4,38.4 192.4,37.7 193.5,37.1 194.4,36.7 195.4,36.2 196.4,36.0 197.2,36.0 197.9,36.2 198.5,36.6" fill="rgba(0,0,0,0.050)" stroke="rgba(25,25,25,0.70)" stroke-width="0.45" stroke-linejoin="round"/>
<polygon points="198.4,37.6 198.8,38.0 199.1,38.5 199.3,39.1 199.3,39.9 198.9,40.7 198.3,41.5 197.7,42.3 197.1,42.9 196.6,43.6 196.1,44.4 195.4,45.2 194.5,45.8 193.7,46.1 192.9,46.2 192.3,46.0 191.7,45.9 191.1,45.7 190.6,45.4 190.3,44.9 190.2,44.3 190.3,43.6 190.4,42.9 190.4,42.2 190.4,41.5 190.7,40.6 191.2,39.7 192.0,39.0 192.9,38.5 193.7,38.2 194.5,37.9 195.2,37.6 195.9,37.3 196.7,37.0 197.4,37.0 198.0,37.2" fill="rgba(0,0,0,0.050)" stroke="rgba(25,25,25,0.70)" stroke-width="0.45" stroke-linejoin="round"/>
<polygon points="197.6,38.4 197.7,38.9 197.8,39.4 197.8,39.9 197.8,40.4 197.7,41.0 197.4,41.5 197.0,42.1 196.5,42.6 196.1,43.1 195.7,43.7 195.2,44.3 194.5,44.8 193.9,45.0 193.3,45.0 192.9,44.8 192.5,44.5 192.2,44.4 191.8,44.2 191.4,44.0 191.1,43.7 191.1,43.2 191.1,42.6 191.3,42.1 191.5,41.5 191.7,40.8 192.1,40.2 192.7,39.7 193.3,39.3 193.9,39.1 194.5,38.9 195.0,38.6 195.6,38.3 196.2,38.0 196.8,37.9 197.3,38.0" fill="rgba(0,0,0,0.050)" stroke="rgba(25,25,25,0.70)" stroke-width="0.45" stroke-linejoin="round"/>
<polygon points="196.6,39.4 196.6,39.8 196.6,40.2 196.5,40.5 196.6,40.8 196.6,41.1 196.5,41.5 196.3,41.9 196.0,42.3 195.7,42.7 195.3,43.0 194.9,43.3 194.5,43.6 194.1,43.8 193.7,43.7 193.5,43.6 193.2,43.5 193.0,43.4 192.7,43.3 192.4,43.2 192.1,43.0 192.0,42.7 192.1,42.3 192.3,41.9 192.5,41.5 192.8,41.1 193.0,40.7 193.4,40.4 193.7,40.1 194.1,39.8 194.5,39.7 194.8,39.5 195.2,39.3 195.7,39.1 196.1,39.0 196.4,39.1" fill="rgba(0,0,0,0.050)" stroke="rgba(25,25,25,0.70)" stroke-width="0.45" stroke-linejoin="round"/>
<polygon points="200.2,36.4 200.4,37.0 200.5,37.6 200.7,38.1 200.9,38.8 201.0,39.5 200.8,40.3 200.3,41.1 199.5,41.7 198.7,42.1 197.9,42.4 197.2,42.8 196.5,43.2 195.8,43.5 195.0,43.7 194.3,43.7 193.7,43.5 193.1,43.2 192.6,42.8 192.1,42.4 191.8,41.8 191.8,41.0 192.1,40.2 192.6,39.5 193.1,38.9 193.4,38.2 193.8,37.5 194.2,36.7 194.8,36.0 195.6,35.6 196.5,35.3 197.3,35.3 198.0,35.4 198.7,35.4 199.3,35.6 199.9,35.9" fill="rgba(0,0,0,0.153)" stroke="rgba(25,25,25,0.95)" stroke-width="0.6" stroke-linejoin="round"/>
<polygon points="199.4,37.1 199.7,37.4 199.8,37.9 199.9,38.4 199.9,38.9 199.8,39.5 199.6,40.1 199.2,40.6 198.7,41.1 198.1,41.4 197.5,41.6 197.0,41.9 196.5,42.2 195.9,42.6 195.3,42.9 194.7,42.9 194.2,42.7 193.9,42.3 193.6,41.9 193.4,41.5 193.3,41.1 193.2,40.6 193.3,40.0 193.5,39.5 193.8,39.0 194.1,38.5 194.4,38.0 194.7,37.4 195.2,36.8 195.8,36.5 196.5,36.4 197.1,36.4 197.5,36.6 198.0,36.7 198.5,36.8 199.0,36.9" fill="rgba(0,0,0,0.153)" stroke="rgba(25,25,25,0.95)" stroke-width="0.6" stroke-linejoin="round"/>
<polygon points="198.5,37.8 198.8,38.0 198.9,38.4 198.8,38.7 198.7,39.1 198.6,39.5 198.4,39.9 198.2,40.2 197.9,40.5 197.6,40.8 197.2,41.0 196.9,41.2 196.5,41.4 196.1,41.6 195.7,41.8 195.3,41.8 195.0,41.6 194.8,41.3 194.7,41.0 194.6,40.7 194.5,40.5 194.4,40.2 194.3,39.9 194.4,39.5 194.5,39.1 194.8,38.8 195.0,38.4 195.3,38.1 195.7,37.8 196.1,37.6 196.5,37.5 196.9,37.5 197.2,37.6 197.5,37.7 197.8,37.7 198.2,37.7" fill="rgba(0,0,0,0.153)" stroke="rgba(25,25,25,0.95)" stroke-width="0.6" stroke-linejoin="round"/>
<polygon points="197.5,38.6 197.7,38.7 197.7,38.9 197.7,39.1 197.6,39.3 197.5,39.5 197.4,39.7 197.3,39.8 197.2,40.0 197.1,40.2 196.9,40.3 196.7,40.4 196.5,40.5 196.3,40.6 196.1,40.6 195.9,40.6 195.8,40.5 195.7,40.4 195.6,40.2 195.6,40.1 195.5,40.0 195.4,39.8 195.4,39.7 195.4,39.5 195.4,39.3 195.6,39.1 195.8,39.0 195.9,38.8 196.1,38.7 196.3,38.6 196.5,38.5 196.7,38.5 196.8,38.5 197.0,38.5 197.2,38.6 197.4,38.6" fill="rgba(0,0,0,0.153)" stroke="rgba(25,25,25,0.95)" stroke-width="0.6" stroke-linejoin="round"/>
</g>
<rect x="185.70" y="17.10" width="39.80" height="39.90" fill="none" stroke="#a4a4a4" stroke-width="0.75"/>
<text x="186.40" y="22.50" font-size="5.85" text-anchor="start" fill="#000" stroke="#000" stroke-width="0.1">3.57</text>
<text x="224.90" y="22.50" font-size="5.85" text-anchor="end" fill="#000" stroke="#000" stroke-width="0.1">0.7</text>
<text x="186.40" y="56.50" font-size="5.85" text-anchor="start" fill="#000" stroke="#000" stroke-width="0.1">94.6</text>
<text x="224.90" y="56.50" font-size="5.85" text-anchor="end" fill="#000" stroke="#000" stroke-width="0.1">1.15</text>
<line x1="180.10" y1="20.41" x2="183.70" y2="20.41" stroke="#8c8c8c" stroke-width="0.9"/>
<line x1="180.10" y1="29.87" x2="183.70" y2="29.87" stroke="#8c8c8c" stroke-width="0.9"/>
<line x1="180.70" y1="39.05" x2="183.70" y2="39.05" stroke="#8c8c8c" stroke-width="0.9"/>
<line x1="181.30" y1="48.62" x2="183.70" y2="48.62" stroke="#8c8c8c" stroke-width="0.9"/>
<line x1="183.50" y1="51.81" x2="183.50" y2="53.41" stroke="#999" stroke-width="0.7"/>
<line x1="189.68" y1="59.90" x2="191.27" y2="59.90" stroke="#a0a0a0" stroke-width="0.9"/>
<line x1="192.86" y1="59.90" x2="195.25" y2="59.90" stroke="#a0a0a0" stroke-width="0.9"/>
<line x1="202.81" y1="59.90" x2="206.40" y2="59.90" stroke="#a0a0a0" stroke-width="0.9"/>
<line x1="210.77" y1="59.90" x2="215.15" y2="59.90" stroke="#a0a0a0" stroke-width="0.9"/>
<line x1="219.13" y1="59.90" x2="223.11" y2="59.90" stroke="#a0a0a0" stroke-width="0.9"/>
<clipPath id="ca21"><rect x="29.20" y="64.50" width="40.00" height="39.70"/></clipPath>
<line x1="48.70" y1="64.50" x2="48.70" y2="104.20" stroke="#b4b4b4" stroke-width="0.8"/>
<line x1="29.20" y1="83.40" x2="69.20" y2="83.40" stroke="#ccc" stroke-width="1.1"/>
<g clip-path="url(#ca21)">
<polygon points="49.0,89.5 47.4,91.7 45.4,93.4 43.4,94.6 41.4,95.7 39.5,96.6 37.6,97.2 35.7,97.3 34.1,96.7 32.7,95.7 31.4,94.7 30.0,93.8 28.5,92.7 27.3,91.0 26.9,88.7 27.5,86.1 28.8,83.6 30.3,81.4 31.7,79.5 32.8,77.5 34.1,75.4 35.6,73.4 37.5,71.9 39.5,71.0 41.5,70.5 43.4,70.2 45.4,70.2 47.2,70.6 48.7,71.7 49.5,73.6 49.7,76.0 49.5,78.2 49.5,80.3 49.7,82.2 50.0,84.4 49.9,86.9" fill="rgba(0,0,0,0.050)" stroke="rgba(25,25,25,0.70)" stroke-width="0.45" stroke-linejoin="round"/>
<polygon points="48.0,88.9 46.5,90.8 44.6,92.1 42.7,92.9 41.1,93.5 39.5,94.2 37.9,95.0 36.2,95.7 34.5,95.8 33.0,95.2 31.9,94.2 30.8,92.9 29.9,91.6 29.2,90.0 28.9,88.0 29.4,85.8 30.4,83.7 31.7,81.8 32.8,80.1 33.8,78.4 34.7,76.4 36.0,74.3 37.6,72.6 39.5,71.7 41.3,71.6 42.9,72.0 44.4,72.6 45.7,73.2 47.0,74.1 47.9,75.3 48.5,76.9 48.6,78.7 48.7,80.6 48.8,82.4 49.0,84.4 48.8,86.6" fill="rgba(0,0,0,0.050)" stroke="rgba(25,25,25,0.70)" stroke-width="0.45" stroke-linejoin="round"/>
<polygon points="46.5,88.0 45.2,89.6 43.7,90.7 42.2,91.4 40.8,91.9 39.5,92.6 38.1,93.5 36.5,94.4 34.9,94.7 33.5,94.3 32.6,93.2 32.0,91.7 31.6,90.2 31.3,88.7 31.1,87.1 31.2,85.4 31.8,83.7 32.6,82.1 33.5,80.5 34.3,79.0 35.3,77.3 36.4,75.5 37.9,74.1 39.5,73.3 41.0,73.4 42.3,74.1 43.4,74.9 44.4,75.5 45.5,76.0 46.7,76.6 47.5,77.7 48.0,79.1 48.1,80.8 47.9,82.5 47.7,84.3 47.2,86.2" fill="rgba(0,0,0,0.050)" stroke="rgba(25,25,25,0.70)" stroke-width="0.45" stroke-linejoin="round"/>
<polygon points="44.8,87.1 44.0,88.4 43.0,89.5 41.8,90.3 40.6,90.9 39.5,91.5 38.3,92.2 37.0,92.9 35.6,93.1 34.4,92.8 33.7,91.7 33.4,90.3 33.3,88.9 33.2,87.6 33.0,86.4 32.8,85.2 32.8,83.7 33.3,82.3 34.0,80.8 34.9,79.5 35.9,78.3 37.0,77.1 38.2,76.0 39.5,75.5 40.7,75.5 41.8,76.0 42.7,76.6 43.5,77.1 44.5,77.3 45.6,77.7 46.6,78.4 47.1,79.6 47.1,81.1 46.7,82.7 46.1,84.3 45.5,85.7" fill="rgba(0,0,0,0.050)" stroke="rgba(25,25,25,0.70)" stroke-width="0.45" stroke-linejoin="round"/>
<polygon points="43.4,86.3 43.0,87.4 42.3,88.5 41.5,89.4 40.5,90.1 39.5,90.5 38.5,90.8 37.5,91.0 36.5,91.0 35.6,90.7 35.0,89.9 34.8,88.9 34.7,87.8 34.6,86.8 34.4,85.9 34.1,85.0 33.9,83.8 34.1,82.5 34.8,81.3 35.7,80.3 36.7,79.5 37.6,78.8 38.5,78.2 39.5,77.7 40.5,77.4 41.4,77.5 42.1,77.8 42.9,78.2 43.7,78.4 44.5,78.8 45.3,79.4 45.7,80.4 45.7,81.7 45.2,83.0 44.5,84.2 43.9,85.2" fill="rgba(0,0,0,0.050)" stroke="rgba(25,25,25,0.70)" stroke-width="0.45" stroke-linejoin="round"/>
<polygon points="42.4,85.7 42.1,86.5 41.7,87.5 41.1,88.3 40.3,88.9 39.5,89.1 38.8,89.1 38.1,89.0 37.4,88.9 36.8,88.6 36.3,88.3 35.9,87.7 35.8,87.0 35.6,86.2 35.5,85.5 35.3,84.7 35.2,83.8 35.4,82.9 35.9,81.9 36.7,81.2 37.4,80.7 38.2,80.4 38.8,80.0 39.5,79.5 40.2,79.1 41.0,78.9 41.7,78.9 42.3,79.2 42.8,79.6 43.3,80.1 43.7,80.7 44.0,81.4 43.9,82.3 43.6,83.3 43.2,84.1 42.7,84.9" fill="rgba(0,0,0,0.050)" stroke="rgba(25,25,25,0.70)" stroke-width="0.45" stroke-linejoin="round"/>
<polygon points="41.5,85.2 41.3,85.8 41.0,86.4 40.6,86.9 40.0,87.3 39.5,87.4 39.0,87.3 38.6,87.1 38.2,87.0 37.8,86.9 37.4,86.8 37.0,86.5 36.8,86.1 36.7,85.6 36.6,85.1 36.7,84.5 36.7,83.9 36.9,83.3 37.2,82.7 37.7,82.2 38.2,81.9 38.6,81.6 39.1,81.4 39.5,81.0 40.0,80.6 40.5,80.4 41.0,80.4 41.4,80.6 41.7,81.0 41.9,81.5 42.1,82.0 42.2,82.4 42.3,83.0 42.2,83.5 42.0,84.1 41.8,84.6" fill="rgba(0,0,0,0.050)" stroke="rgba(25,25,25,0.70)" stroke-width="0.45" stroke-linejoin="round"/>
<polygon points="48.1,86.5 47.9,87.6 47.7,88.7 47.5,89.7 47.2,90.6 46.7,91.3 46.1,91.8 45.6,92.2 45.1,92.6 44.5,93.0 43.8,93.4 43.2,93.3 42.6,92.7 42.1,91.7 41.9,90.6 41.7,89.5 41.5,88.5 41.3,87.6 41.1,86.5 41.0,85.4 41.2,84.2 41.4,83.2 41.8,82.3 42.2,81.4 42.6,80.5 43.2,79.9 43.9,79.8 44.5,80.0 45.1,80.6 45.6,81.1 46.1,81.5 46.6,81.8 47.3,82.2 47.8,83.0 48.1,84.1 48.2,85.3" fill="rgba(0,0,0,0.145)" stroke="rgba(25,25,25,0.95)" stroke-width="0.6" stroke-linejoin="round"/>
<polygon points="47.1,86.5 46.9,87.3 46.7,88.0 46.6,88.8 46.4,89.5 46.2,90.3 45.8,90.8 45.4,91.1 45.0,91.3 44.5,91.5 44.0,91.5 43.5,91.4 43.1,91.0 42.8,90.3 42.6,89.5 42.5,88.7 42.3,88.0 42.1,87.3 41.9,86.5 41.7,85.6 41.8,84.7 42.1,83.9 42.4,83.3 42.8,82.8 43.2,82.4 43.6,82.0 44.0,81.7 44.5,81.7 44.9,81.9 45.3,82.2 45.7,82.5 46.2,82.8 46.6,83.2 47.0,83.8 47.2,84.6 47.3,85.6" fill="rgba(0,0,0,0.145)" stroke="rgba(25,25,25,0.95)" stroke-width="0.6" stroke-linejoin="round"/>
<polygon points="46.2,86.5 46.1,87.0 45.9,87.5 45.9,88.0 45.8,88.6 45.7,89.1 45.5,89.6 45.1,89.8 44.8,89.8 44.5,89.8 44.2,89.6 43.9,89.5 43.6,89.3 43.4,88.9 43.2,88.5 43.1,88.0 43.0,87.5 42.8,87.0 42.7,86.5 42.6,85.9 42.7,85.3 42.9,84.7 43.1,84.4 43.4,84.1 43.7,83.9 44.0,83.7 44.2,83.4 44.5,83.3 44.8,83.2 45.1,83.4 45.4,83.7 45.6,84.0 45.9,84.3 46.1,84.8 46.3,85.3 46.3,85.9" fill="rgba(0,0,0,0.145)" stroke="rgba(25,25,25,0.95)" stroke-width="0.6" stroke-linejoin="round"/>
<polygon points="45.3,86.5 45.3,86.8 45.3,87.0 45.2,87.3 45.2,87.6 45.1,87.8 45.0,88.1 44.8,88.2 44.7,88.2 44.5,88.1 44.4,88.0 44.2,87.9 44.1,87.8 43.9,87.7 43.8,87.6 43.7,87.3 43.7,87.1 43.6,86.8 43.6,86.5 43.6,86.2 43.6,85.9 43.7,85.7 43.8,85.5 44.0,85.4 44.1,85.3 44.2,85.1 44.4,85.0 44.5,84.8 44.7,84.8 44.8,84.8 45.0,85.0 45.1,85.2 45.2,85.5 45.2,85.7 45.3,85.9 45.4,86.2" fill="rgba(0,0,0,0.145)" stroke="rgba(25,25,25,0.95)" stroke-width="0.6" stroke-linejoin="round"/>
<rect x="29.20" y="78.00" width="1.4" height="17.00" fill="#3a3a3a"/>
</g>
<rect x="29.20" y="64.50" width="40.00" height="39.70" fill="none" stroke="#a4a4a4" stroke-width="0.75"/>
<text x="29.90" y="69.90" font-size="5.85" text-anchor="start" fill="#000" stroke="#000" stroke-width="0.1">20.8</text>
<text x="68.60" y="69.90" font-size="5.85" text-anchor="end" fill="#000" stroke="#000" stroke-width="0.1">0.26</text>
<text x="29.90" y="103.70" font-size="5.85" text-anchor="start" fill="#000" stroke="#000" stroke-width="0.1">78.6</text>
<text x="68.60" y="103.70" font-size="5.85" text-anchor="end" fill="#000" stroke="#000" stroke-width="0.1">0.38</text>
<line x1="23.60" y1="67.80" x2="27.20" y2="67.80" stroke="#8c8c8c" stroke-width="0.9"/>
<line x1="23.60" y1="77.20" x2="27.20" y2="77.20" stroke="#8c8c8c" stroke-width="0.9"/>
<line x1="24.20" y1="86.34" x2="27.20" y2="86.34" stroke="#8c8c8c" stroke-width="0.9"/>
<line x1="24.80" y1="95.86" x2="27.20" y2="95.86" stroke="#8c8c8c" stroke-width="0.9"/>
<line x1="27.00" y1="99.04" x2="27.00" y2="100.63" stroke="#999" stroke-width="0.7"/>
<line x1="33.20" y1="107.10" x2="34.80" y2="107.10" stroke="#a0a0a0" stroke-width="0.9"/>
<line x1="36.40" y1="107.10" x2="38.80" y2="107.10" stroke="#a0a0a0" stroke-width="0.9"/>
<line x1="46.40" y1="107.10" x2="50.00" y2="107.10" stroke="#a0a0a0" stroke-width="0.9"/>
<line x1="54.40" y1="107.10" x2="58.80" y2="107.10" stroke="#a0a0a0" stroke-width="0.9"/>
<line x1="62.80" y1="107.10" x2="66.80" y2="107.10" stroke="#a0a0a0" stroke-width="0.9"/>
<clipPath id="ca22"><rect x="77.90" y="64.50" width="40.00" height="39.70"/></clipPath>
<line x1="97.80" y1="64.50" x2="97.80" y2="104.20" stroke="#b4b4b4" stroke-width="0.8"/>
<line x1="77.90" y1="83.50" x2="117.90" y2="83.50" stroke="#ccc" stroke-width="1.1"/>
<g clip-path="url(#ca22)">
<polygon points="96.8,86.5 96.4,88.8 95.8,90.9 95.3,92.9 94.5,94.8 93.4,96.3 92.0,97.2 90.7,97.8 89.4,98.5 88.0,99.3 86.5,99.9 84.8,100.0 83.3,99.1 82.1,97.2 81.5,94.9 81.1,92.6 80.8,90.5 80.3,88.6 79.8,86.5 79.6,84.2 79.9,82.0 80.5,79.9 81.4,78.1 82.4,76.3 83.5,74.7 84.9,73.4 86.4,72.9 88.0,73.3 89.4,74.3 90.6,75.6 91.8,76.6 93.1,77.3 94.5,78.1 95.9,79.6 96.7,81.6 97.0,84.1" fill="rgba(0,0,0,0.050)" stroke="rgba(25,25,25,0.70)" stroke-width="0.45" stroke-linejoin="round"/>
<polygon points="95.6,86.5 95.0,88.4 94.3,90.0 93.9,91.7 93.4,93.5 92.7,95.2 91.8,96.5 90.6,97.4 89.3,97.8 88.0,98.0 86.7,98.1 85.3,97.9 84.0,97.0 83.1,95.5 82.5,93.6 82.2,91.7 81.8,89.9 81.3,88.3 80.7,86.5 80.3,84.4 80.4,82.3 81.0,80.3 82.0,78.8 83.2,77.7 84.3,76.8 85.5,76.0 86.7,75.4 88.0,75.3 89.2,75.7 90.4,76.5 91.5,77.3 92.6,78.1 93.9,79.0 95.0,80.3 95.8,82.1 96.0,84.3" fill="rgba(0,0,0,0.050)" stroke="rgba(25,25,25,0.70)" stroke-width="0.45" stroke-linejoin="round"/>
<polygon points="94.3,86.5 93.8,88.1 93.3,89.4 92.9,90.9 92.7,92.5 92.2,94.2 91.5,95.7 90.4,96.5 89.2,96.7 88.0,96.4 86.9,96.0 85.9,95.5 84.8,94.9 83.9,93.9 83.3,92.6 82.8,91.1 82.4,89.6 82.0,88.1 81.6,86.5 81.2,84.7 81.3,82.8 81.9,81.1 82.9,80.0 84.0,79.3 85.1,78.8 86.0,78.2 87.0,77.5 88.0,76.9 89.1,76.8 90.2,77.2 91.2,78.0 92.1,78.9 93.0,80.0 93.9,81.3 94.4,82.9 94.6,84.7" fill="rgba(0,0,0,0.050)" stroke="rgba(25,25,25,0.70)" stroke-width="0.45" stroke-linejoin="round"/>
<polygon points="93.2,86.5 93.0,87.8 92.6,89.1 92.3,90.3 92.0,91.7 91.6,93.1 90.9,94.3 90.0,95.0 89.0,95.0 88.0,94.5 87.1,93.9 86.4,93.4 85.5,93.0 84.7,92.5 83.9,91.8 83.3,90.6 82.9,89.3 82.7,87.9 82.6,86.5 82.5,85.0 82.6,83.5 83.1,82.2 83.9,81.2 84.8,80.6 85.6,80.2 86.4,79.7 87.1,79.0 88.0,78.3 89.0,77.9 90.0,78.1 90.9,78.9 91.5,80.1 92.0,81.3 92.5,82.5 92.9,83.8 93.2,85.1" fill="rgba(0,0,0,0.050)" stroke="rgba(25,25,25,0.70)" stroke-width="0.45" stroke-linejoin="round"/>
<polygon points="92.2,86.5 92.3,87.6 92.1,88.8 91.7,89.8 91.3,90.8 90.9,91.7 90.3,92.5 89.6,93.0 88.8,93.1 88.0,92.7 87.3,92.3 86.7,91.9 86.1,91.7 85.3,91.4 84.5,90.9 84.0,90.1 83.7,88.9 83.6,87.7 83.7,86.5 83.9,85.4 84.1,84.3 84.4,83.3 84.8,82.4 85.4,81.7 86.0,81.3 86.6,80.8 87.3,80.3 88.0,79.7 88.8,79.5 89.6,79.7 90.3,80.4 90.8,81.5 91.1,82.6 91.3,83.6 91.7,84.5 92.0,85.4" fill="rgba(0,0,0,0.050)" stroke="rgba(25,25,25,0.70)" stroke-width="0.45" stroke-linejoin="round"/>
<polygon points="91.3,86.5 91.4,87.4 91.3,88.3 90.9,89.1 90.5,89.7 90.0,90.2 89.6,90.6 89.1,91.0 88.5,91.2 88.0,91.2 87.5,91.0 87.0,90.8 86.5,90.5 85.9,90.3 85.3,89.9 84.9,89.2 84.7,88.3 84.8,87.4 84.9,86.5 85.1,85.7 85.3,85.0 85.4,84.2 85.6,83.4 85.9,82.7 86.4,82.2 86.9,81.9 87.4,81.6 88.0,81.5 88.6,81.4 89.2,81.6 89.7,82.1 90.0,82.8 90.2,83.6 90.4,84.4 90.7,85.0 91.0,85.7" fill="rgba(0,0,0,0.050)" stroke="rgba(25,25,25,0.70)" stroke-width="0.45" stroke-linejoin="round"/>
<polygon points="90.3,86.5 90.3,87.1 90.2,87.7 89.9,88.2 89.6,88.5 89.3,88.8 89.0,89.0 88.7,89.3 88.4,89.6 88.0,89.8 87.6,89.8 87.3,89.6 86.9,89.3 86.6,89.1 86.3,88.7 86.0,88.2 85.9,87.7 85.9,87.1 86.0,86.5 86.1,86.0 86.2,85.5 86.3,85.0 86.3,84.4 86.5,83.8 86.8,83.4 87.2,83.2 87.6,83.2 88.0,83.3 88.4,83.4 88.7,83.5 89.1,83.7 89.3,84.1 89.5,84.5 89.7,85.0 89.9,85.4 90.1,85.9" fill="rgba(0,0,0,0.050)" stroke="rgba(25,25,25,0.70)" stroke-width="0.45" stroke-linejoin="round"/>
<polygon points="95.4,88.0 95.3,88.5 95.0,89.0 94.4,89.4 93.7,89.8 92.9,90.1 92.1,90.5 91.3,90.9 90.2,91.2 89.0,91.4 87.8,91.3 86.7,90.9 85.9,90.5 85.2,90.1 84.5,89.8 83.7,89.4 83.0,89.0 82.5,88.5 82.4,88.0 82.5,87.5 82.8,87.0 83.2,86.4 83.7,85.9 84.5,85.5 85.6,85.3 86.8,85.2 88.0,85.3 89.0,85.4 90.0,85.3 91.1,85.3 92.4,85.3 93.5,85.5 94.4,85.9 95.0,86.4 95.2,87.0 95.3,87.5" fill="rgba(0,0,0,0.145)" stroke="rgba(25,25,25,0.95)" stroke-width="0.6" stroke-linejoin="round"/>
<polygon points="93.4,88.0 93.5,88.4 93.5,88.7 93.3,89.1 92.8,89.5 92.2,89.7 91.5,90.0 90.7,90.2 89.9,90.3 89.0,90.4 88.1,90.3 87.3,90.1 86.7,89.8 86.2,89.5 85.7,89.3 85.0,89.1 84.3,88.8 83.8,88.4 83.7,88.0 83.9,87.6 84.3,87.2 84.8,86.9 85.3,86.6 85.9,86.3 86.6,86.1 87.4,85.9 88.2,85.9 89.0,85.9 89.8,85.9 90.7,85.9 91.6,85.9 92.5,86.1 93.1,86.4 93.5,86.8 93.5,87.2 93.4,87.6" fill="rgba(0,0,0,0.145)" stroke="rgba(25,25,25,0.95)" stroke-width="0.6" stroke-linejoin="round"/>
<polygon points="91.9,88.0 92.0,88.2 92.0,88.5 92.0,88.8 91.7,89.1 91.3,89.2 90.7,89.3 90.1,89.4 89.6,89.5 89.0,89.5 88.4,89.5 87.9,89.4 87.5,89.2 87.1,89.1 86.7,88.9 86.2,88.7 85.8,88.5 85.5,88.3 85.4,88.0 85.6,87.7 85.9,87.5 86.4,87.3 86.7,87.1 87.1,86.9 87.4,86.8 87.9,86.6 88.4,86.5 89.0,86.5 89.6,86.5 90.1,86.6 90.7,86.6 91.2,86.8 91.7,87.0 91.9,87.2 91.9,87.5 91.9,87.8" fill="rgba(0,0,0,0.145)" stroke="rgba(25,25,25,0.95)" stroke-width="0.6" stroke-linejoin="round"/>
<polygon points="90.5,88.0 90.5,88.1 90.6,88.3 90.5,88.4 90.4,88.5 90.1,88.6 89.8,88.7 89.5,88.7 89.3,88.7 89.0,88.7 88.7,88.7 88.4,88.7 88.2,88.7 87.9,88.6 87.7,88.5 87.6,88.4 87.4,88.3 87.3,88.1 87.3,88.0 87.3,87.9 87.5,87.8 87.7,87.7 87.9,87.6 88.1,87.5 88.2,87.4 88.4,87.3 88.7,87.2 89.0,87.2 89.3,87.2 89.6,87.3 89.8,87.4 90.0,87.4 90.2,87.5 90.4,87.6 90.5,87.8 90.5,87.9" fill="rgba(0,0,0,0.145)" stroke="rgba(25,25,25,0.95)" stroke-width="0.6" stroke-linejoin="round"/>
</g>
<rect x="77.90" y="64.50" width="40.00" height="39.70" fill="none" stroke="#a4a4a4" stroke-width="0.75"/>
<text x="78.60" y="69.90" font-size="5.85" text-anchor="start" fill="#000" stroke="#000" stroke-width="0.1">16.7</text>
<text x="117.30" y="69.90" font-size="5.85" text-anchor="end" fill="#000" stroke="#000" stroke-width="0.1">0.081</text>
<text x="78.60" y="103.70" font-size="5.85" text-anchor="start" fill="#000" stroke="#000" stroke-width="0.1">83.3</text>
<text x="117.30" y="103.70" font-size="5.85" text-anchor="end" fill="#000" stroke="#000" stroke-width="0.1">0.013</text>
<line x1="72.30" y1="67.80" x2="75.90" y2="67.80" stroke="#8c8c8c" stroke-width="0.9"/>
<line x1="72.30" y1="77.20" x2="75.90" y2="77.20" stroke="#8c8c8c" stroke-width="0.9"/>
<line x1="72.90" y1="86.34" x2="75.90" y2="86.34" stroke="#8c8c8c" stroke-width="0.9"/>
<line x1="73.50" y1="95.86" x2="75.90" y2="95.86" stroke="#8c8c8c" stroke-width="0.9"/>
<line x1="75.70" y1="99.04" x2="75.70" y2="100.63" stroke="#999" stroke-width="0.7"/>
<line x1="81.90" y1="107.10" x2="83.50" y2="107.10" stroke="#a0a0a0" stroke-width="0.9"/>
<line x1="85.10" y1="107.10" x2="87.50" y2="107.10" stroke="#a0a0a0" stroke-width="0.9"/>
<line x1="95.10" y1="107.10" x2="98.70" y2="107.10" stroke="#a0a0a0" stroke-width="0.9"/>
<line x1="103.10" y1="107.10" x2="107.50" y2="107.10" stroke="#a0a0a0" stroke-width="0.9"/>
<line x1="111.50" y1="107.10" x2="115.50" y2="107.10" stroke="#a0a0a0" stroke-width="0.9"/>
<clipPath id="ca23"><rect x="131.00" y="67.20" width="39.80" height="39.70"/></clipPath>
<line x1="150.40" y1="67.20" x2="150.40" y2="106.90" stroke="#b4b4b4" stroke-width="0.8"/>
<line x1="131.00" y1="85.60" x2="170.80" y2="85.60" stroke="#ccc" stroke-width="1.1"/>
<g clip-path="url(#ca23)">
<polygon points="150.3,92.0 150.3,93.8 149.9,95.6 149.0,97.1 147.9,98.4 146.7,99.4 145.5,100.5 144.2,101.8 142.7,103.0 141.0,103.7 139.2,103.5 137.5,102.5 136.3,101.0 135.3,99.5 134.4,98.1 133.4,96.9 132.3,95.5 131.6,93.8 131.3,92.0 131.5,90.2 132.0,88.4 132.6,86.6 133.3,84.9 134.4,83.4 136.0,82.4 137.7,82.0 139.4,82.3 141.0,82.7 142.5,82.8 144.0,82.8 145.8,82.8 147.6,83.4 149.0,84.6 149.8,86.4 150.2,88.3 150.3,90.2" fill="rgba(0,0,0,0.050)" stroke="rgba(25,25,25,0.70)" stroke-width="0.45" stroke-linejoin="round"/>
<polygon points="148.5,92.0 148.5,93.5 148.5,95.0 148.2,96.6 147.5,98.0 146.4,99.1 145.2,100.0 143.9,100.8 142.5,101.5 141.0,101.8 139.5,101.7 138.1,100.9 137.0,99.6 136.2,98.3 135.4,97.2 134.4,96.2 133.3,95.1 132.3,93.7 131.9,92.0 132.1,90.3 132.9,88.7 133.8,87.4 134.7,86.2 135.7,85.1 136.9,84.1 138.2,83.5 139.6,83.4 141.0,83.5 142.3,83.6 143.8,83.6 145.3,83.7 146.9,84.3 148.1,85.4 148.8,87.0 148.9,88.8 148.7,90.5" fill="rgba(0,0,0,0.050)" stroke="rgba(25,25,25,0.70)" stroke-width="0.45" stroke-linejoin="round"/>
<polygon points="147.3,92.0 147.3,93.2 147.5,94.6 147.4,96.1 146.9,97.5 146.0,98.6 144.8,99.2 143.5,99.5 142.2,99.7 141.0,99.8 139.8,99.7 138.6,99.3 137.6,98.6 136.7,97.6 135.9,96.7 135.1,95.8 134.2,94.7 133.4,93.5 133.0,92.0 133.3,90.5 134.1,89.2 135.1,88.2 136.0,87.4 136.8,86.5 137.6,85.6 138.6,84.7 139.7,84.1 141.0,84.0 142.2,84.2 143.5,84.5 144.7,84.9 145.9,85.6 146.9,86.6 147.4,87.9 147.6,89.4 147.4,90.8" fill="rgba(0,0,0,0.050)" stroke="rgba(25,25,25,0.70)" stroke-width="0.45" stroke-linejoin="round"/>
<polygon points="146.5,92.0 146.5,93.1 146.6,94.2 146.5,95.5 146.1,96.7 145.2,97.6 144.1,98.0 143.0,98.0 141.9,97.9 141.0,97.9 140.0,98.0 139.0,98.0 138.0,97.7 137.1,97.1 136.4,96.3 135.8,95.3 135.3,94.3 134.8,93.2 134.6,92.0 134.8,90.8 135.4,89.8 136.2,88.9 137.0,88.3 137.6,87.5 138.2,86.6 138.9,85.7 139.9,85.0 141.0,84.8 142.1,85.1 143.1,85.7 143.9,86.4 144.8,87.1 145.5,87.8 146.1,88.8 146.4,89.8 146.5,90.9" fill="rgba(0,0,0,0.050)" stroke="rgba(25,25,25,0.70)" stroke-width="0.45" stroke-linejoin="round"/>
<polygon points="145.8,92.0 145.7,92.9 145.6,93.8 145.3,94.8 144.9,95.6 144.3,96.3 143.4,96.6 142.5,96.7 141.7,96.6 141.0,96.6 140.2,96.8 139.4,96.9 138.5,96.9 137.7,96.4 137.1,95.6 136.7,94.7 136.5,93.8 136.4,92.9 136.3,92.0 136.4,91.1 136.6,90.2 137.1,89.5 137.6,88.9 138.1,88.2 138.7,87.5 139.3,86.8 140.1,86.3 141.0,86.1 141.9,86.4 142.6,87.1 143.2,87.8 143.8,88.4 144.4,88.9 145.0,89.5 145.5,90.2 145.8,91.1" fill="rgba(0,0,0,0.050)" stroke="rgba(25,25,25,0.70)" stroke-width="0.45" stroke-linejoin="round"/>
<polygon points="144.9,92.0 144.7,92.7 144.4,93.4 144.0,93.9 143.7,94.5 143.3,95.0 142.8,95.4 142.2,95.6 141.6,95.6 141.0,95.7 140.4,95.7 139.7,95.8 139.1,95.7 138.4,95.4 138.0,94.8 137.8,94.0 137.8,93.3 137.8,92.6 137.7,92.0 137.7,91.3 137.7,90.7 137.9,90.0 138.2,89.4 138.7,89.0 139.2,88.5 139.7,88.2 140.3,87.9 141.0,87.8 141.6,88.0 142.2,88.4 142.6,88.9 143.0,89.3 143.5,89.7 144.0,90.1 144.5,90.6 144.8,91.3" fill="rgba(0,0,0,0.050)" stroke="rgba(25,25,25,0.70)" stroke-width="0.45" stroke-linejoin="round"/>
<polygon points="143.6,92.0 143.4,92.5 143.2,92.9 142.9,93.2 142.7,93.5 142.4,93.9 142.2,94.2 141.8,94.5 141.4,94.6 141.0,94.7 140.6,94.6 140.2,94.5 139.7,94.4 139.4,94.2 139.1,93.8 139.0,93.3 138.9,92.8 138.9,92.4 138.9,92.0 138.8,91.6 138.7,91.1 138.8,90.6 139.0,90.2 139.4,89.9 139.8,89.7 140.2,89.6 140.6,89.5 141.0,89.4 141.4,89.4 141.8,89.6 142.1,89.9 142.4,90.1 142.7,90.4 143.1,90.7 143.4,91.0 143.6,91.5" fill="rgba(0,0,0,0.050)" stroke="rgba(25,25,25,0.70)" stroke-width="0.45" stroke-linejoin="round"/>
<polygon points="167.4,91.5 166.9,92.1 166.2,92.6 165.4,93.1 164.7,93.7 163.9,94.3 162.7,94.8 161.0,95.2 159.0,95.3 157.0,95.1 155.3,94.8 153.7,94.5 152.2,94.3 150.6,94.0 149.0,93.7 147.8,93.3 147.0,92.7 146.6,92.1 146.4,91.5 146.3,90.9 146.5,90.2 147.2,89.6 148.6,89.2 150.4,88.9 152.2,88.7 153.8,88.6 155.3,88.4 157.0,88.1 158.9,87.9 160.9,87.9 162.7,88.2 164.1,88.7 165.1,89.2 166.0,89.8 166.7,90.3 167.3,90.9" fill="rgba(0,0,0,0.035)" stroke="rgba(25,25,25,0.49)" stroke-width="0.45" stroke-linejoin="round"/>
<polygon points="164.7,91.5 164.8,92.0 164.5,92.4 163.9,92.8 163.1,93.2 162.2,93.6 161.2,93.9 159.9,94.2 158.4,94.2 157.0,94.1 155.7,93.9 154.6,93.7 153.5,93.5 152.2,93.4 150.8,93.2 149.6,92.9 148.9,92.5 148.8,92.0 149.0,91.5 149.3,91.0 149.7,90.6 150.2,90.2 151.0,89.8 152.1,89.6 153.3,89.4 154.5,89.2 155.7,89.1 157.0,88.9 158.5,88.7 160.0,88.7 161.4,89.0 162.3,89.4 162.9,89.9 163.3,90.3 163.7,90.7 164.3,91.1" fill="rgba(0,0,0,0.035)" stroke="rgba(25,25,25,0.49)" stroke-width="0.45" stroke-linejoin="round"/>
<polygon points="162.3,91.5 162.5,91.8 162.4,92.2 161.9,92.4 161.1,92.7 160.4,92.8 159.6,93.0 158.8,93.1 157.9,93.2 157.0,93.2 156.1,93.1 155.3,93.0 154.5,92.9 153.7,92.8 152.8,92.7 152.0,92.5 151.5,92.2 151.5,91.8 151.8,91.5 152.2,91.2 152.5,91.0 152.8,90.7 153.1,90.4 153.6,90.2 154.3,90.0 155.2,89.8 156.1,89.8 157.0,89.7 158.0,89.7 158.9,89.7 159.8,89.9 160.4,90.1 160.8,90.4 161.1,90.7 161.4,91.0 161.8,91.2" fill="rgba(0,0,0,0.035)" stroke="rgba(25,25,25,0.49)" stroke-width="0.45" stroke-linejoin="round"/>
<polygon points="159.7,91.5 159.8,91.7 159.8,91.8 159.5,92.0 159.0,92.1 158.6,92.1 158.2,92.2 157.8,92.3 157.4,92.3 157.0,92.4 156.5,92.4 156.1,92.3 155.7,92.3 155.3,92.2 154.9,92.1 154.6,92.0 154.4,91.8 154.3,91.7 154.5,91.5 154.7,91.4 154.8,91.2 154.9,91.1 155.0,90.9 155.2,90.8 155.6,90.7 156.0,90.6 156.5,90.6 157.0,90.6 157.4,90.7 157.9,90.7 158.3,90.7 158.7,90.8 158.9,91.0 159.1,91.1 159.3,91.2 159.5,91.4" fill="rgba(0,0,0,0.035)" stroke="rgba(25,25,25,0.49)" stroke-width="0.45" stroke-linejoin="round"/>
<polygon points="147.7,91.5 147.7,92.1 147.7,92.7 147.6,93.4 147.3,94.0 146.7,94.5 145.9,94.7 145.0,94.7 144.2,94.7 143.5,94.7 142.8,94.7 142.0,94.7 141.2,94.5 140.6,94.2 140.0,93.8 139.6,93.3 139.2,92.7 138.8,92.1 138.7,91.5 138.8,90.9 139.2,90.3 139.8,89.9 140.4,89.5 140.9,89.1 141.4,88.7 141.9,88.2 142.7,87.8 143.5,87.7 144.3,87.8 145.1,88.1 145.7,88.5 146.4,88.9 146.9,89.3 147.4,89.8 147.6,90.3 147.7,90.9" fill="rgba(0,0,0,0.153)" stroke="rgba(25,25,25,0.95)" stroke-width="0.6" stroke-linejoin="round"/>
<polygon points="146.9,91.5 146.8,92.0 146.7,92.4 146.6,92.9 146.3,93.3 145.8,93.7 145.2,93.8 144.6,93.9 144.0,93.8 143.5,93.8 143.0,93.9 142.4,93.9 141.7,93.9 141.1,93.7 140.7,93.3 140.5,92.9 140.3,92.4 140.2,91.9 140.2,91.5 140.2,91.0 140.4,90.6 140.7,90.3 141.1,89.9 141.5,89.6 141.9,89.3 142.3,88.9 142.9,88.7 143.5,88.6 144.1,88.7 144.7,89.0 145.1,89.4 145.5,89.7 145.9,89.9 146.3,90.2 146.7,90.6 146.9,91.0" fill="rgba(0,0,0,0.153)" stroke="rgba(25,25,25,0.95)" stroke-width="0.6" stroke-linejoin="round"/>
<polygon points="145.9,91.5 145.8,91.8 145.6,92.1 145.4,92.4 145.2,92.6 144.9,92.8 144.6,93.0 144.2,93.1 143.9,93.1 143.5,93.1 143.1,93.1 142.7,93.2 142.3,93.1 141.9,93.0 141.6,92.7 141.5,92.4 141.5,92.1 141.5,91.8 141.4,91.5 141.4,91.2 141.4,90.9 141.5,90.6 141.8,90.4 142.0,90.2 142.4,90.0 142.7,89.8 143.1,89.7 143.5,89.6 143.9,89.7 144.3,89.9 144.5,90.1 144.8,90.3 145.1,90.5 145.4,90.7 145.7,90.9 145.9,91.2" fill="rgba(0,0,0,0.153)" stroke="rgba(25,25,25,0.95)" stroke-width="0.6" stroke-linejoin="round"/>
<polygon points="144.7,91.5 144.7,91.7 144.5,91.8 144.4,91.9 144.3,92.0 144.2,92.1 144.1,92.2 143.9,92.3 143.7,92.4 143.5,92.4 143.3,92.4 143.1,92.3 142.9,92.3 142.7,92.2 142.6,92.1 142.5,91.9 142.5,91.8 142.5,91.6 142.5,91.5 142.5,91.4 142.4,91.2 142.4,91.0 142.6,90.9 142.7,90.8 142.9,90.7 143.1,90.7 143.3,90.6 143.5,90.6 143.7,90.6 143.9,90.7 144.0,90.8 144.2,90.9 144.3,91.0 144.5,91.1 144.6,91.2 144.7,91.3" fill="rgba(0,0,0,0.153)" stroke="rgba(25,25,25,0.95)" stroke-width="0.6" stroke-linejoin="round"/>
</g>
<rect x="131.00" y="67.20" width="39.80" height="39.70" fill="none" stroke="#a4a4a4" stroke-width="0.75"/>
<text x="131.70" y="72.60" font-size="5.85" text-anchor="start" fill="#000" stroke="#000" stroke-width="0.1">2.44</text>
<text x="170.20" y="72.60" font-size="5.85" text-anchor="end" fill="#000" stroke="#000" stroke-width="0.1">0.18</text>
<text x="131.70" y="106.40" font-size="5.85" text-anchor="start" fill="#000" stroke="#000" stroke-width="0.1">86.4</text>
<text x="170.20" y="106.40" font-size="5.85" text-anchor="end" fill="#000" stroke="#000" stroke-width="0.1">11</text>
<line x1="125.40" y1="70.50" x2="129.00" y2="70.50" stroke="#8c8c8c" stroke-width="0.9"/>
<line x1="125.40" y1="79.90" x2="129.00" y2="79.90" stroke="#8c8c8c" stroke-width="0.9"/>
<line x1="126.00" y1="89.04" x2="129.00" y2="89.04" stroke="#8c8c8c" stroke-width="0.9"/>
<line x1="126.60" y1="98.56" x2="129.00" y2="98.56" stroke="#8c8c8c" stroke-width="0.9"/>
<line x1="128.80" y1="101.74" x2="128.80" y2="103.33" stroke="#999" stroke-width="0.7"/>
<line x1="134.98" y1="109.80" x2="136.57" y2="109.80" stroke="#a0a0a0" stroke-width="0.9"/>
<line x1="138.16" y1="109.80" x2="140.55" y2="109.80" stroke="#a0a0a0" stroke-width="0.9"/>
<line x1="148.11" y1="109.80" x2="151.70" y2="109.80" stroke="#a0a0a0" stroke-width="0.9"/>
<line x1="156.07" y1="109.80" x2="160.45" y2="109.80" stroke="#a0a0a0" stroke-width="0.9"/>
<line x1="164.43" y1="109.80" x2="168.41" y2="109.80" stroke="#a0a0a0" stroke-width="0.9"/>
<clipPath id="ca24"><rect x="185.50" y="67.20" width="40.00" height="39.50"/></clipPath>
<line x1="204.20" y1="67.20" x2="204.20" y2="106.70" stroke="#b4b4b4" stroke-width="0.8"/>
<line x1="185.50" y1="85.60" x2="225.50" y2="85.60" stroke="#ccc" stroke-width="1.1"/>
<g clip-path="url(#ca24)">
<polygon points="205.4,92.5 205.0,94.2 204.3,95.7 203.4,97.1 202.6,98.6 201.7,100.2 200.6,101.8 199.0,103.0 197.0,103.4 195.0,103.0 193.2,102.1 191.7,101.2 190.2,100.4 188.7,99.7 187.1,98.8 185.8,97.5 185.0,96.0 184.6,94.3 184.4,92.5 184.4,90.7 184.6,88.9 185.2,87.1 186.5,85.7 188.2,84.8 190.1,84.4 191.8,84.2 193.4,83.7 195.0,83.0 196.9,82.4 198.9,82.4 200.7,83.0 202.2,84.3 203.2,85.9 204.0,87.5 204.7,89.1 205.3,90.8" fill="rgba(0,0,0,0.050)" stroke="rgba(25,25,25,0.70)" stroke-width="0.45" stroke-linejoin="round"/>
<polygon points="203.9,92.5 204.1,94.0 203.8,95.5 203.0,96.9 202.1,98.2 201.0,99.3 199.8,100.5 198.4,101.3 196.7,101.7 195.0,101.4 193.5,100.7 192.2,99.8 190.9,99.2 189.5,98.7 188.0,98.1 186.5,97.2 185.6,95.8 185.3,94.1 185.5,92.5 186.0,91.0 186.5,89.6 187.1,88.2 188.0,86.9 189.2,85.9 190.6,85.3 192.1,84.9 193.5,84.5 195.0,83.9 196.7,83.4 198.5,83.4 200.1,84.0 201.3,85.3 202.0,86.9 202.4,88.4 202.8,89.8 203.4,91.1" fill="rgba(0,0,0,0.050)" stroke="rgba(25,25,25,0.70)" stroke-width="0.45" stroke-linejoin="round"/>
<polygon points="202.7,92.5 203.1,93.9 203.1,95.3 202.4,96.6 201.3,97.6 200.1,98.3 198.9,98.9 197.7,99.5 196.4,99.8 195.0,99.9 193.7,99.6 192.5,99.1 191.3,98.5 190.1,98.0 188.8,97.5 187.5,96.6 186.7,95.4 186.5,93.9 187.0,92.5 187.6,91.3 188.3,90.2 188.8,89.1 189.3,87.9 190.0,86.8 191.0,85.9 192.3,85.4 193.6,85.1 195.0,84.9 196.4,84.8 197.9,85.0 199.2,85.5 200.2,86.5 200.9,87.8 201.2,89.1 201.5,90.2 202.1,91.3" fill="rgba(0,0,0,0.050)" stroke="rgba(25,25,25,0.70)" stroke-width="0.45" stroke-linejoin="round"/>
<polygon points="201.6,92.5 202.0,93.7 201.9,94.9 201.3,95.9 200.2,96.7 199.1,97.1 198.0,97.5 197.0,97.8 196.1,98.3 195.0,98.6 193.8,98.7 192.7,98.5 191.7,98.0 190.7,97.3 189.8,96.6 189.0,95.8 188.4,94.8 188.2,93.6 188.5,92.5 189.0,91.5 189.6,90.6 189.9,89.7 190.2,88.7 190.6,87.6 191.4,86.6 192.6,86.1 193.8,86.0 195.0,86.1 196.1,86.4 197.2,86.7 198.3,87.1 199.2,87.8 199.9,88.6 200.3,89.6 200.7,90.5 201.1,91.5" fill="rgba(0,0,0,0.050)" stroke="rgba(25,25,25,0.70)" stroke-width="0.45" stroke-linejoin="round"/>
<polygon points="200.4,92.5 200.5,93.4 200.3,94.3 199.8,95.2 199.1,95.7 198.2,96.1 197.3,96.3 196.6,96.7 195.9,97.1 195.0,97.6 194.0,97.8 193.0,97.6 192.2,97.1 191.5,96.4 191.0,95.7 190.5,95.0 190.1,94.2 189.9,93.4 189.9,92.5 190.1,91.7 190.4,90.9 190.7,90.2 191.0,89.3 191.4,88.4 192.1,87.7 193.0,87.3 194.0,87.3 195.0,87.6 195.8,87.9 196.6,88.2 197.4,88.5 198.3,88.8 199.0,89.3 199.6,90.0 200.0,90.8 200.2,91.6" fill="rgba(0,0,0,0.050)" stroke="rgba(25,25,25,0.70)" stroke-width="0.45" stroke-linejoin="round"/>
<polygon points="198.9,92.5 198.8,93.1 198.7,93.8 198.4,94.4 198.0,94.9 197.4,95.2 196.8,95.5 196.3,95.8 195.7,96.1 195.0,96.4 194.2,96.6 193.5,96.4 192.9,96.0 192.4,95.4 192.2,94.8 191.9,94.2 191.6,93.7 191.3,93.1 191.1,92.5 191.1,91.8 191.3,91.2 191.6,90.6 191.9,90.0 192.4,89.5 192.9,89.0 193.6,88.7 194.3,88.7 195.0,88.9 195.6,89.2 196.2,89.4 196.8,89.5 197.5,89.7 198.2,89.9 198.7,90.5 199.0,91.1 199.0,91.8" fill="rgba(0,0,0,0.050)" stroke="rgba(25,25,25,0.70)" stroke-width="0.45" stroke-linejoin="round"/>
<polygon points="197.5,92.5 197.4,92.9 197.2,93.3 197.1,93.7 197.0,94.1 196.7,94.4 196.3,94.7 195.9,94.9 195.5,95.0 195.0,95.1 194.5,95.1 194.0,95.0 193.6,94.8 193.3,94.4 193.2,94.0 193.0,93.6 192.8,93.3 192.5,92.9 192.3,92.5 192.2,92.0 192.3,91.6 192.6,91.2 193.0,90.9 193.3,90.6 193.7,90.4 194.1,90.2 194.6,90.1 195.0,90.1 195.4,90.2 195.8,90.3 196.3,90.4 196.7,90.5 197.2,90.8 197.5,91.1 197.7,91.6 197.7,92.1" fill="rgba(0,0,0,0.050)" stroke="rgba(25,25,25,0.70)" stroke-width="0.45" stroke-linejoin="round"/>
<polygon points="204.6,91.5 204.6,92.2 204.5,93.0 204.5,93.8 204.2,94.7 203.6,95.4 202.7,95.7 201.7,95.8 200.8,95.7 200.0,95.6 199.2,95.6 198.4,95.5 197.5,95.4 196.7,95.0 196.1,94.4 195.6,93.8 195.2,93.1 194.9,92.3 194.6,91.5 194.7,90.7 195.2,89.9 195.8,89.3 196.5,88.9 197.2,88.5 197.7,87.9 198.3,87.3 199.1,86.8 200.0,86.6 200.9,86.7 201.8,87.1 202.5,87.6 203.2,88.1 203.8,88.6 204.3,89.3 204.6,90.0 204.7,90.8" fill="rgba(0,0,0,0.145)" stroke="rgba(25,25,25,0.95)" stroke-width="0.6" stroke-linejoin="round"/>
<polygon points="203.8,91.5 203.7,92.1 203.6,92.7 203.4,93.2 203.1,93.8 202.6,94.3 202.0,94.6 201.3,94.6 200.6,94.5 200.0,94.5 199.4,94.5 198.8,94.6 198.1,94.5 197.4,94.3 196.9,93.9 196.6,93.3 196.4,92.7 196.3,92.1 196.3,91.5 196.3,90.9 196.5,90.4 196.9,89.9 197.3,89.5 197.8,89.1 198.2,88.7 198.7,88.3 199.3,87.9 200.0,87.7 200.7,87.8 201.3,88.2 201.8,88.7 202.2,89.1 202.6,89.5 203.1,89.9 203.5,90.4 203.7,90.9" fill="rgba(0,0,0,0.145)" stroke="rgba(25,25,25,0.95)" stroke-width="0.6" stroke-linejoin="round"/>
<polygon points="202.7,91.5 202.6,91.9 202.4,92.3 202.2,92.6 201.9,92.9 201.6,93.2 201.2,93.4 200.8,93.6 200.4,93.6 200.0,93.6 199.6,93.6 199.1,93.6 198.7,93.6 198.2,93.4 197.9,93.1 197.7,92.7 197.7,92.3 197.7,91.9 197.7,91.5 197.7,91.1 197.7,90.7 197.8,90.4 198.1,90.0 198.4,89.8 198.7,89.5 199.1,89.3 199.5,89.2 200.0,89.1 200.5,89.2 200.9,89.4 201.2,89.7 201.4,90.0 201.7,90.2 202.0,90.4 202.4,90.7 202.6,91.1" fill="rgba(0,0,0,0.145)" stroke="rgba(25,25,25,0.95)" stroke-width="0.6" stroke-linejoin="round"/>
<polygon points="201.4,91.5 201.3,91.7 201.2,91.9 201.0,92.0 200.9,92.2 200.7,92.3 200.6,92.4 200.4,92.6 200.2,92.6 200.0,92.6 199.8,92.6 199.6,92.6 199.3,92.5 199.1,92.4 199.0,92.3 198.9,92.1 198.9,91.9 198.9,91.7 198.9,91.5 198.9,91.3 198.8,91.1 198.8,90.9 199.0,90.7 199.1,90.6 199.4,90.5 199.6,90.4 199.8,90.4 200.0,90.4 200.2,90.4 200.4,90.5 200.6,90.6 200.7,90.7 200.9,90.8 201.1,91.0 201.2,91.1 201.4,91.3" fill="rgba(0,0,0,0.145)" stroke="rgba(25,25,25,0.95)" stroke-width="0.6" stroke-linejoin="round"/>
</g>
<rect x="185.50" y="67.20" width="40.00" height="39.50" fill="none" stroke="#a4a4a4" stroke-width="0.75"/>
<text x="186.20" y="72.60" font-size="5.85" text-anchor="start" fill="#000" stroke="#000" stroke-width="0.1">3.26</text>
<text x="224.90" y="72.60" font-size="5.85" text-anchor="end" fill="#000" stroke="#000" stroke-width="0.1">0.2</text>
<text x="186.20" y="106.20" font-size="5.85" text-anchor="start" fill="#000" stroke="#000" stroke-width="0.1">96</text>
<text x="224.90" y="106.20" font-size="5.85" text-anchor="end" fill="#000" stroke="#000" stroke-width="0.1">0.59</text>
<line x1="179.90" y1="70.48" x2="183.50" y2="70.48" stroke="#8c8c8c" stroke-width="0.9"/>
<line x1="179.90" y1="79.84" x2="183.50" y2="79.84" stroke="#8c8c8c" stroke-width="0.9"/>
<line x1="180.50" y1="88.93" x2="183.50" y2="88.93" stroke="#8c8c8c" stroke-width="0.9"/>
<line x1="181.10" y1="98.41" x2="183.50" y2="98.41" stroke="#8c8c8c" stroke-width="0.9"/>
<line x1="183.30" y1="101.56" x2="183.30" y2="103.15" stroke="#999" stroke-width="0.7"/>
<line x1="189.50" y1="109.60" x2="191.10" y2="109.60" stroke="#a0a0a0" stroke-width="0.9"/>
<line x1="192.70" y1="109.60" x2="195.10" y2="109.60" stroke="#a0a0a0" stroke-width="0.9"/>
<line x1="202.70" y1="109.60" x2="206.30" y2="109.60" stroke="#a0a0a0" stroke-width="0.9"/>
<line x1="210.70" y1="109.60" x2="215.10" y2="109.60" stroke="#a0a0a0" stroke-width="0.9"/>
<line x1="219.10" y1="109.60" x2="223.10" y2="109.60" stroke="#a0a0a0" stroke-width="0.9"/>
<clipPath id="ca31"><rect x="28.40" y="113.40" width="39.20" height="39.20"/></clipPath>
<line x1="47.20" y1="113.40" x2="47.20" y2="152.60" stroke="#b4b4b4" stroke-width="0.8"/>
<line x1="28.40" y1="134.40" x2="67.60" y2="134.40" stroke="#ccc" stroke-width="1.1"/>
<g clip-path="url(#ca31)">
<polygon points="45.9,134.0 45.4,138.1 44.9,140.3 44.4,142.0 43.9,143.6 43.1,144.8 42.1,145.5 40.8,145.8 39.4,145.9 37.0,146.3 34.4,146.9 32.7,147.3 31.2,147.2 30.1,146.1 29.7,144.2 29.6,142.0 29.7,139.8 29.6,137.7 29.3,134.0 29.0,130.0 29.0,127.6 29.3,125.7 30.0,124.2 30.8,123.0 31.6,121.9 32.7,120.8 34.2,120.2 37.0,120.3 39.6,121.1 40.8,122.4 41.6,123.5 42.5,124.3 43.6,124.8 44.7,125.6 45.6,127.1 46.0,129.6" fill="rgba(0,0,0,0.050)" stroke="rgba(25,25,25,0.70)" stroke-width="0.45" stroke-linejoin="round"/>
<polygon points="44.8,134.0 44.2,137.5 43.5,139.2 43.0,140.5 42.6,141.8 42.2,143.2 41.6,144.4 40.6,145.1 39.3,145.4 37.0,145.5 34.7,145.5 33.3,145.4 32.1,145.1 31.2,144.1 30.8,142.6 30.7,140.8 30.8,139.0 30.6,137.1 30.3,134.0 29.8,130.5 29.6,128.1 29.8,126.1 30.4,124.9 31.4,124.1 32.4,123.7 33.5,123.3 34.8,122.9 37.0,122.7 39.2,123.0 40.4,123.6 41.3,124.4 42.1,125.1 43.0,125.7 43.9,126.5 44.7,127.9 45.0,130.0" fill="rgba(0,0,0,0.050)" stroke="rgba(25,25,25,0.70)" stroke-width="0.45" stroke-linejoin="round"/>
<polygon points="43.4,134.0 43.0,136.9 42.4,138.3 42.0,139.4 41.7,140.6 41.5,142.0 41.1,143.3 40.3,144.2 39.1,144.5 37.0,144.2 35.1,143.7 34.0,143.2 33.1,142.7 32.4,142.1 31.9,141.1 31.6,139.9 31.4,138.5 31.3,136.8 31.0,134.0 30.7,130.9 30.5,128.8 30.7,127.1 31.3,126.1 32.3,125.7 33.3,125.6 34.2,125.5 35.2,125.2 37.0,124.7 38.9,124.4 40.1,124.5 41.0,125.0 41.7,125.8 42.3,126.6 42.9,127.6 43.4,128.9 43.6,130.8" fill="rgba(0,0,0,0.050)" stroke="rgba(25,25,25,0.70)" stroke-width="0.45" stroke-linejoin="round"/>
<polygon points="42.1,134.0 42.0,136.5 41.7,137.7 41.4,138.7 41.1,139.8 40.9,140.9 40.5,142.0 39.8,142.7 38.8,142.9 37.0,142.5 35.4,141.8 34.7,141.1 34.0,140.7 33.4,140.4 32.7,139.9 32.2,139.2 31.9,138.0 31.8,136.6 31.8,134.0 31.7,131.4 31.7,129.8 31.9,128.5 32.4,127.7 33.2,127.3 34.0,127.2 34.8,127.1 35.6,126.8 37.0,126.2 38.7,125.7 39.8,125.5 40.6,125.9 41.1,126.8 41.4,127.8 41.7,128.9 41.9,130.1 42.1,131.5" fill="rgba(0,0,0,0.050)" stroke="rgba(25,25,25,0.70)" stroke-width="0.45" stroke-linejoin="round"/>
<polygon points="41.0,134.0 41.1,136.0 41.1,137.2 40.8,138.2 40.5,138.9 40.2,139.6 39.7,140.2 39.2,140.7 38.4,140.8 37.0,140.6 35.8,140.1 35.2,139.5 34.7,139.2 34.1,139.1 33.5,138.9 32.9,138.4 32.6,137.5 32.6,136.2 32.7,134.0 32.9,132.0 33.1,130.9 33.3,130.0 33.6,129.2 34.0,128.7 34.5,128.4 35.1,128.2 35.8,127.9 37.0,127.6 38.4,127.2 39.3,127.1 39.9,127.4 40.3,128.2 40.4,129.2 40.5,130.2 40.6,131.1 40.8,132.1" fill="rgba(0,0,0,0.050)" stroke="rgba(25,25,25,0.70)" stroke-width="0.45" stroke-linejoin="round"/>
<polygon points="40.1,134.0 40.3,135.6 40.3,136.6 40.1,137.3 39.7,137.8 39.3,138.1 38.9,138.3 38.5,138.6 38.0,138.8 37.0,138.8 36.1,138.6 35.6,138.4 35.2,138.1 34.7,138.0 34.3,137.8 33.9,137.4 33.7,136.7 33.7,135.6 33.9,134.0 34.1,132.6 34.3,131.8 34.4,131.2 34.5,130.5 34.7,129.9 35.0,129.5 35.5,129.2 36.0,129.1 37.0,129.0 38.0,129.0 38.6,129.0 39.1,129.3 39.4,129.8 39.5,130.5 39.5,131.2 39.6,131.9 39.8,132.6" fill="rgba(0,0,0,0.050)" stroke="rgba(25,25,25,0.70)" stroke-width="0.45" stroke-linejoin="round"/>
<polygon points="39.1,134.0 39.2,135.1 39.2,135.8 39.1,136.2 38.8,136.5 38.5,136.6 38.2,136.7 37.9,136.8 37.6,137.0 37.0,137.2 36.3,137.3 36.0,137.2 35.7,137.0 35.4,136.8 35.2,136.5 35.0,136.2 34.9,135.7 34.9,135.1 35.0,134.0 35.1,133.1 35.2,132.6 35.3,132.2 35.3,131.7 35.4,131.2 35.6,130.8 35.9,130.6 36.3,130.6 37.0,130.7 37.6,130.8 38.0,130.9 38.3,131.1 38.5,131.3 38.7,131.7 38.8,132.1 38.9,132.5 39.0,133.0" fill="rgba(0,0,0,0.050)" stroke="rgba(25,25,25,0.70)" stroke-width="0.45" stroke-linejoin="round"/>
<polygon points="44.9,135.5 44.9,137.2 44.7,138.4 44.4,139.5 44.0,140.2 43.4,140.8 42.9,141.3 42.3,142.0 41.6,142.7 40.5,143.2 39.3,143.2 38.4,142.7 37.9,141.8 37.5,140.8 37.2,140.0 36.8,139.2 36.4,138.3 36.1,137.2 35.9,135.5 36.0,133.8 36.2,132.5 36.4,131.4 36.7,130.4 37.1,129.5 37.7,128.8 38.5,128.6 39.4,128.8 40.5,129.2 41.5,129.4 42.2,129.4 43.0,129.4 43.8,129.5 44.5,130.1 44.8,131.1 45.0,132.4 45.0,133.8" fill="rgba(0,0,0,0.136)" stroke="rgba(25,25,25,0.95)" stroke-width="0.6" stroke-linejoin="round"/>
<polygon points="43.6,135.5 43.5,136.7 43.5,137.6 43.5,138.5 43.3,139.2 42.9,139.8 42.5,140.2 41.9,140.6 41.4,140.9 40.5,141.1 39.6,141.1 39.0,140.7 38.6,140.1 38.3,139.4 38.1,138.8 37.8,138.2 37.4,137.6 37.0,136.8 36.8,135.5 36.9,134.1 37.1,133.1 37.4,132.4 37.8,131.9 38.2,131.3 38.6,130.9 39.1,130.6 39.7,130.5 40.5,130.6 41.3,130.7 41.9,130.7 42.5,130.7 43.1,130.9 43.5,131.4 43.8,132.2 43.8,133.2 43.7,134.3" fill="rgba(0,0,0,0.136)" stroke="rgba(25,25,25,0.95)" stroke-width="0.6" stroke-linejoin="round"/>
<polygon points="42.5,135.5 42.5,136.3 42.5,136.9 42.5,137.5 42.5,138.1 42.2,138.6 41.9,138.8 41.5,138.9 41.1,138.9 40.5,138.9 40.0,138.9 39.6,138.8 39.2,138.5 39.0,138.2 38.8,137.8 38.6,137.4 38.4,137.0 38.1,136.4 38.0,135.5 38.0,134.5 38.2,133.9 38.5,133.5 38.8,133.2 39.1,132.9 39.3,132.6 39.6,132.3 39.9,132.0 40.5,131.9 41.1,132.0 41.5,132.1 41.8,132.3 42.2,132.5 42.5,132.9 42.6,133.4 42.6,134.0 42.6,134.7" fill="rgba(0,0,0,0.136)" stroke="rgba(25,25,25,0.95)" stroke-width="0.6" stroke-linejoin="round"/>
<polygon points="41.5,135.5 41.5,135.9 41.5,136.2 41.5,136.6 41.5,136.9 41.4,137.1 41.2,137.2 41.0,137.2 40.8,137.1 40.5,137.1 40.2,137.1 40.0,137.1 39.9,137.1 39.7,136.9 39.6,136.7 39.5,136.5 39.4,136.3 39.3,136.0 39.3,135.5 39.3,135.0 39.4,134.7 39.5,134.5 39.7,134.4 39.8,134.3 39.9,134.1 40.0,133.8 40.2,133.7 40.5,133.6 40.8,133.6 41.0,133.8 41.1,133.9 41.3,134.1 41.4,134.3 41.5,134.5 41.5,134.8 41.6,135.1" fill="rgba(0,0,0,0.136)" stroke="rgba(25,25,25,0.95)" stroke-width="0.6" stroke-linejoin="round"/>
<rect x="28.40" y="123.00" width="1.4" height="25.00" fill="#3a3a3a"/>
</g>
<rect x="28.40" y="113.40" width="39.20" height="39.20" fill="none" stroke="#a4a4a4" stroke-width="0.75"/>
<text x="29.10" y="118.80" font-size="5.85" text-anchor="start" fill="#000" stroke="#000" stroke-width="0.1">36.5</text>
<text x="67.00" y="118.80" font-size="5.85" text-anchor="end" fill="#000" stroke="#000" stroke-width="0.1">0.41</text>
<text x="29.10" y="152.10" font-size="5.85" text-anchor="start" fill="#000" stroke="#000" stroke-width="0.1">62.8</text>
<text x="67.00" y="152.10" font-size="5.85" text-anchor="end" fill="#000" stroke="#000" stroke-width="0.1">0.25</text>
<line x1="22.80" y1="116.65" x2="26.40" y2="116.65" stroke="#8c8c8c" stroke-width="0.9"/>
<line x1="22.80" y1="125.94" x2="26.40" y2="125.94" stroke="#8c8c8c" stroke-width="0.9"/>
<line x1="23.40" y1="134.96" x2="26.40" y2="134.96" stroke="#8c8c8c" stroke-width="0.9"/>
<line x1="24.00" y1="144.37" x2="26.40" y2="144.37" stroke="#8c8c8c" stroke-width="0.9"/>
<line x1="26.20" y1="147.50" x2="26.20" y2="149.07" stroke="#999" stroke-width="0.7"/>
<line x1="32.32" y1="155.50" x2="33.89" y2="155.50" stroke="#a0a0a0" stroke-width="0.9"/>
<line x1="35.46" y1="155.50" x2="37.81" y2="155.50" stroke="#a0a0a0" stroke-width="0.9"/>
<line x1="45.26" y1="155.50" x2="48.78" y2="155.50" stroke="#a0a0a0" stroke-width="0.9"/>
<line x1="53.10" y1="155.50" x2="57.41" y2="155.50" stroke="#a0a0a0" stroke-width="0.9"/>
<line x1="61.33" y1="155.50" x2="65.25" y2="155.50" stroke="#a0a0a0" stroke-width="0.9"/>
<clipPath id="ca32"><rect x="77.90" y="113.40" width="39.70" height="39.20"/></clipPath>
<line x1="96.00" y1="113.40" x2="96.00" y2="152.60" stroke="#b4b4b4" stroke-width="0.8"/>
<line x1="77.90" y1="134.50" x2="117.60" y2="134.50" stroke="#ccc" stroke-width="1.1"/>
<g clip-path="url(#ca32)">
<polygon points="94.9,134.5 94.8,137.8 94.5,140.1 94.0,142.0 93.2,143.5 92.2,144.4 91.1,145.3 90.0,146.3 88.7,147.5 86.5,148.5 84.0,148.9 82.4,148.2 81.3,146.6 80.6,144.8 80.2,143.0 79.6,141.4 78.9,139.8 78.2,137.8 77.9,134.5 78.0,131.1 78.3,128.8 78.8,126.8 79.4,125.0 80.1,123.3 81.1,122.0 82.6,121.5 84.3,121.8 86.5,122.5 88.5,123.2 89.8,123.4 91.3,123.4 92.7,123.6 94.0,124.5 94.8,126.2 95.1,128.5 95.0,131.1" fill="rgba(0,0,0,0.050)" stroke="rgba(25,25,25,0.70)" stroke-width="0.45" stroke-linejoin="round"/>
<polygon points="93.4,134.5 93.2,137.2 93.1,139.1 93.0,141.0 92.6,142.6 91.9,143.9 90.9,144.8 89.8,145.4 88.5,146.0 86.5,146.5 84.4,146.6 83.0,146.0 82.1,144.8 81.5,143.2 81.1,141.7 80.6,140.4 79.9,139.2 79.1,137.5 78.5,134.5 78.5,131.3 78.9,129.2 79.6,127.6 80.5,126.5 81.3,125.4 82.2,124.4 83.3,123.8 84.6,123.5 86.5,123.7 88.3,124.1 89.6,124.3 90.8,124.4 92.1,124.7 93.2,125.5 93.9,127.1 94.0,129.2 93.8,131.6" fill="rgba(0,0,0,0.050)" stroke="rgba(25,25,25,0.70)" stroke-width="0.45" stroke-linejoin="round"/>
<polygon points="92.2,134.5 92.1,136.7 92.1,138.4 92.1,140.2 92.0,141.9 91.5,143.2 90.5,144.0 89.4,144.2 88.2,144.2 86.5,144.1 84.9,144.0 83.7,143.7 82.8,143.1 82.2,142.1 81.7,141.0 81.2,139.8 80.6,138.7 79.9,137.1 79.5,134.5 79.5,131.7 79.9,129.9 80.7,128.7 81.6,128.0 82.4,127.3 83.1,126.5 83.8,125.6 84.8,124.9 86.5,124.6 88.2,124.7 89.3,125.1 90.3,125.6 91.2,126.2 92.1,127.1 92.6,128.4 92.7,130.1 92.5,132.1" fill="rgba(0,0,0,0.050)" stroke="rgba(25,25,25,0.70)" stroke-width="0.45" stroke-linejoin="round"/>
<polygon points="91.5,134.5 91.4,136.5 91.3,137.9 91.4,139.4 91.2,140.8 90.7,141.9 89.9,142.5 88.9,142.5 87.8,142.2 86.5,141.9 85.2,141.8 84.3,141.8 83.4,141.7 82.7,141.2 82.1,140.4 81.7,139.3 81.4,138.1 81.1,136.7 80.8,134.5 80.9,132.2 81.2,130.8 81.8,129.8 82.5,129.2 83.2,128.7 83.7,127.9 84.2,127.0 85.1,126.1 86.5,125.7 88.0,125.7 89.0,126.3 89.7,127.1 90.2,128.0 90.8,128.8 91.2,129.8 91.5,131.0 91.6,132.5" fill="rgba(0,0,0,0.050)" stroke="rgba(25,25,25,0.70)" stroke-width="0.45" stroke-linejoin="round"/>
<polygon points="90.8,134.5 90.7,136.2 90.6,137.4 90.4,138.4 90.2,139.4 89.7,140.2 89.1,140.6 88.4,140.7 87.5,140.5 86.5,140.3 85.5,140.2 84.7,140.4 84.0,140.4 83.2,140.2 82.7,139.6 82.4,138.6 82.4,137.4 82.3,136.2 82.3,134.5 82.3,132.8 82.5,131.7 82.8,130.8 83.2,130.1 83.7,129.6 84.1,129.0 84.6,128.3 85.3,127.6 86.5,127.3 87.7,127.4 88.5,128.0 88.9,128.8 89.3,129.6 89.6,130.3 90.0,130.9 90.5,131.7 90.7,132.8" fill="rgba(0,0,0,0.050)" stroke="rgba(25,25,25,0.70)" stroke-width="0.45" stroke-linejoin="round"/>
<polygon points="90.0,134.5 89.9,135.9 89.6,136.7 89.3,137.4 89.1,137.9 88.7,138.4 88.4,138.8 87.9,139.1 87.3,139.1 86.5,139.0 85.7,139.0 85.1,139.1 84.5,139.1 84.0,138.9 83.6,138.4 83.4,137.6 83.5,136.6 83.6,135.7 83.6,134.5 83.6,133.3 83.6,132.4 83.6,131.6 83.9,131.0 84.2,130.5 84.6,130.1 85.1,129.8 85.6,129.4 86.5,129.3 87.4,129.4 87.9,129.8 88.3,130.4 88.5,130.9 88.8,131.4 89.1,131.9 89.5,132.4 89.9,133.1" fill="rgba(0,0,0,0.050)" stroke="rgba(25,25,25,0.70)" stroke-width="0.45" stroke-linejoin="round"/>
<polygon points="88.9,134.5 88.8,135.4 88.6,136.0 88.3,136.3 88.1,136.6 87.9,136.9 87.7,137.3 87.4,137.6 87.1,137.8 86.5,137.8 85.9,137.7 85.6,137.6 85.2,137.5 84.9,137.3 84.6,137.0 84.5,136.5 84.5,135.9 84.6,135.3 84.6,134.5 84.6,133.7 84.5,133.1 84.5,132.5 84.6,132.0 84.9,131.6 85.2,131.4 85.6,131.4 86.0,131.3 86.5,131.3 87.0,131.3 87.4,131.4 87.7,131.7 87.9,132.0 88.1,132.3 88.3,132.7 88.6,133.0 88.8,133.6" fill="rgba(0,0,0,0.050)" stroke="rgba(25,25,25,0.70)" stroke-width="0.45" stroke-linejoin="round"/>
<polygon points="94.5,134.0 94.3,135.9 94.0,137.3 93.5,138.4 93.1,139.5 92.7,140.7 92.2,141.9 91.5,142.9 90.4,143.4 89.0,143.2 87.7,142.4 86.9,141.6 86.2,140.8 85.5,140.3 84.8,139.7 84.1,138.8 83.7,137.5 83.5,136.0 83.5,134.0 83.5,132.0 83.5,130.4 83.8,128.9 84.3,127.7 85.1,127.0 86.1,126.8 87.0,126.8 87.9,126.6 89.0,126.2 90.3,125.6 91.4,125.4 92.4,125.8 93.1,126.7 93.6,127.9 93.9,129.2 94.1,130.6 94.4,132.0" fill="rgba(0,0,0,0.128)" stroke="rgba(25,25,25,0.95)" stroke-width="0.6" stroke-linejoin="round"/>
<polygon points="92.9,134.0 93.0,135.5 93.0,136.6 92.7,137.6 92.3,138.4 91.9,139.2 91.4,139.9 90.8,140.5 90.0,140.8 89.0,140.6 88.1,140.1 87.5,139.5 87.0,139.0 86.4,138.6 85.8,138.3 85.2,137.7 84.7,136.8 84.6,135.6 84.7,134.0 84.9,132.5 85.1,131.4 85.4,130.5 85.7,129.6 86.2,129.0 86.8,128.6 87.4,128.4 88.1,128.2 89.0,127.9 90.0,127.5 90.8,127.4 91.6,127.7 92.1,128.4 92.4,129.5 92.5,130.6 92.6,131.6 92.7,132.6" fill="rgba(0,0,0,0.128)" stroke="rgba(25,25,25,0.95)" stroke-width="0.6" stroke-linejoin="round"/>
<polygon points="91.6,134.0 91.8,135.0 91.8,135.9 91.7,136.6 91.3,137.1 90.9,137.5 90.5,137.7 90.1,138.0 89.6,138.2 89.0,138.2 88.4,138.1 87.9,137.8 87.6,137.5 87.2,137.2 86.8,137.0 86.4,136.6 86.1,135.9 86.0,135.1 86.1,134.0 86.4,133.0 86.6,132.4 86.8,131.8 86.9,131.2 87.1,130.7 87.4,130.2 87.9,129.9 88.4,129.8 89.0,129.7 89.7,129.7 90.2,129.7 90.7,129.9 91.0,130.4 91.2,131.1 91.3,131.8 91.3,132.5 91.4,133.1" fill="rgba(0,0,0,0.128)" stroke="rgba(25,25,25,0.95)" stroke-width="0.6" stroke-linejoin="round"/>
<polygon points="90.4,134.0 90.4,134.5 90.4,135.0 90.4,135.3 90.2,135.6 89.9,135.7 89.7,135.8 89.5,135.8 89.3,135.9 89.0,136.1 88.7,136.1 88.4,136.0 88.2,135.9 88.0,135.7 87.9,135.5 87.7,135.3 87.6,134.9 87.6,134.5 87.6,134.0 87.7,133.5 87.8,133.2 87.9,132.9 88.0,132.6 88.0,132.3 88.2,132.0 88.4,131.8 88.7,131.7 89.0,131.8 89.3,131.9 89.6,132.0 89.8,132.1 89.9,132.3 90.1,132.6 90.2,132.9 90.2,133.2 90.3,133.5" fill="rgba(0,0,0,0.128)" stroke="rgba(25,25,25,0.95)" stroke-width="0.6" stroke-linejoin="round"/>
<rect x="77.90" y="124.00" width="1.4" height="22.00" fill="#3a3a3a"/>
</g>
<rect x="77.90" y="113.40" width="39.70" height="39.20" fill="none" stroke="#a4a4a4" stroke-width="0.75"/>
<text x="78.60" y="118.80" font-size="5.85" text-anchor="start" fill="#000" stroke="#000" stroke-width="0.1">47.4</text>
<text x="117.00" y="118.80" font-size="5.85" text-anchor="end" fill="#000" stroke="#000" stroke-width="0.1">0.44</text>
<text x="78.60" y="152.10" font-size="5.85" text-anchor="start" fill="#000" stroke="#000" stroke-width="0.1">52</text>
<text x="117.00" y="152.10" font-size="5.85" text-anchor="end" fill="#000" stroke="#000" stroke-width="0.1">0.15</text>
<line x1="72.30" y1="116.65" x2="75.90" y2="116.65" stroke="#8c8c8c" stroke-width="0.9"/>
<line x1="72.30" y1="125.94" x2="75.90" y2="125.94" stroke="#8c8c8c" stroke-width="0.9"/>
<line x1="72.90" y1="134.96" x2="75.90" y2="134.96" stroke="#8c8c8c" stroke-width="0.9"/>
<line x1="73.50" y1="144.37" x2="75.90" y2="144.37" stroke="#8c8c8c" stroke-width="0.9"/>
<line x1="75.70" y1="147.50" x2="75.70" y2="149.07" stroke="#999" stroke-width="0.7"/>
<line x1="81.87" y1="155.50" x2="83.46" y2="155.50" stroke="#a0a0a0" stroke-width="0.9"/>
<line x1="85.05" y1="155.50" x2="87.43" y2="155.50" stroke="#a0a0a0" stroke-width="0.9"/>
<line x1="94.97" y1="155.50" x2="98.54" y2="155.50" stroke="#a0a0a0" stroke-width="0.9"/>
<line x1="102.91" y1="155.50" x2="107.28" y2="155.50" stroke="#a0a0a0" stroke-width="0.9"/>
<line x1="111.25" y1="155.50" x2="115.22" y2="155.50" stroke="#a0a0a0" stroke-width="0.9"/>
<clipPath id="ca33"><rect x="130.40" y="114.00" width="40.10" height="38.80"/></clipPath>
<line x1="148.50" y1="114.00" x2="148.50" y2="152.80" stroke="#b4b4b4" stroke-width="0.8"/>
<line x1="130.40" y1="133.60" x2="170.50" y2="133.60" stroke="#ccc" stroke-width="1.1"/>
<g clip-path="url(#ca33)">
<polygon points="144.2,120.7 144.7,121.2 144.7,122.1 144.6,123.1 144.4,124.1 144.3,125.1 144.2,126.3 143.8,127.6 143.0,129.0 141.9,130.3 140.6,131.4 139.4,132.1 138.3,132.7 137.3,133.3 136.2,134.1 135.1,134.7 134.1,134.9 133.3,134.8 132.7,134.4 132.2,133.9 131.8,133.3 131.5,132.5 131.6,131.4 132.2,130.1 133.1,128.7 134.1,127.4 135.0,126.3 135.7,125.2 136.6,123.9 137.6,122.5 138.8,121.3 140.0,120.5 141.1,120.2 142.0,120.2 142.8,120.2 143.6,120.4" fill="rgba(0,0,0,0.040)" stroke="rgba(25,25,25,0.56)" stroke-width="0.45" stroke-linejoin="round"/>
<polygon points="142.6,122.7 143.1,122.9 143.4,123.3 143.5,123.9 143.3,124.8 143.1,125.6 142.8,126.6 142.4,127.5 141.7,128.6 140.9,129.5 140.0,130.3 139.1,130.8 138.3,131.3 137.6,131.8 136.8,132.4 135.8,133.1 134.9,133.5 134.3,133.4 133.9,133.0 133.7,132.4 133.7,131.7 133.7,131.0 133.7,130.2 134.0,129.3 134.5,128.4 135.1,127.5 135.7,126.6 136.3,125.7 137.0,124.7 137.8,123.7 138.7,122.8 139.6,122.2 140.4,122.0 141.1,122.2 141.5,122.4 142.0,122.6" fill="rgba(0,0,0,0.040)" stroke="rgba(25,25,25,0.56)" stroke-width="0.45" stroke-linejoin="round"/>
<polygon points="141.2,124.3 141.6,124.3 142.0,124.5 142.1,124.9 141.9,125.5 141.6,126.2 141.3,126.9 140.9,127.5 140.5,128.2 140.0,128.8 139.5,129.3 138.9,129.8 138.4,130.1 137.9,130.5 137.3,130.9 136.7,131.3 136.1,131.6 135.6,131.5 135.4,131.2 135.4,130.7 135.5,130.1 135.5,129.6 135.5,129.2 135.6,128.7 135.7,128.1 136.0,127.5 136.5,126.8 137.0,126.2 137.5,125.6 138.0,125.0 138.6,124.5 139.2,124.1 139.8,124.0 140.2,124.1 140.5,124.2 140.8,124.3" fill="rgba(0,0,0,0.040)" stroke="rgba(25,25,25,0.56)" stroke-width="0.45" stroke-linejoin="round"/>
<polygon points="139.9,125.8 140.1,125.9 140.3,126.0 140.3,126.2 140.2,126.5 140.0,126.9 139.8,127.2 139.6,127.5 139.4,127.8 139.2,128.1 139.0,128.4 138.7,128.7 138.4,128.9 138.2,129.1 137.9,129.3 137.6,129.4 137.3,129.5 137.1,129.4 137.0,129.3 137.0,129.0 137.0,128.8 137.1,128.5 137.0,128.3 137.0,128.1 137.0,127.8 137.2,127.5 137.4,127.1 137.7,126.8 138.0,126.6 138.3,126.3 138.6,126.1 138.8,125.9 139.1,125.8 139.3,125.8 139.5,125.8 139.7,125.8" fill="rgba(0,0,0,0.040)" stroke="rgba(25,25,25,0.56)" stroke-width="0.45" stroke-linejoin="round"/>
<polygon points="166.0,138.0 165.4,138.9 164.8,139.8 164.4,140.7 163.6,141.7 161.8,142.7 159.0,143.3 155.6,143.5 152.1,143.4 149.0,143.1 146.2,142.9 143.3,142.8 140.3,142.6 137.4,142.2 135.0,141.6 133.3,140.8 132.0,139.9 130.9,139.0 130.0,138.0 129.9,137.0 131.0,136.0 133.2,135.2 136.0,134.7 138.7,134.2 141.0,133.8 143.3,133.2 145.9,132.6 149.0,132.1 152.4,132.1 155.6,132.5 158.3,133.1 160.5,133.8 162.6,134.5 164.5,135.3 165.8,136.1 166.3,137.1" fill="rgba(0,0,0,0.045)" stroke="rgba(25,25,25,0.63)" stroke-width="0.45" stroke-linejoin="round"/>
<polygon points="164.5,138.0 164.2,138.8 163.5,139.6 162.5,140.4 161.2,141.1 159.5,141.8 157.2,142.3 154.4,142.5 151.6,142.4 149.0,142.2 146.7,142.1 144.2,142.0 141.5,142.0 138.6,141.8 136.2,141.3 134.7,140.5 134.0,139.7 133.9,138.8 133.9,138.0 134.1,137.2 134.7,136.4 136.0,135.7 137.8,135.1 139.9,134.7 141.9,134.2 143.9,133.7 146.2,133.2 149.0,132.9 152.0,132.8 154.7,133.2 156.8,133.9 158.3,134.6 159.7,135.3 161.2,135.9 162.8,136.5 164.0,137.2" fill="rgba(0,0,0,0.045)" stroke="rgba(25,25,25,0.63)" stroke-width="0.45" stroke-linejoin="round"/>
<polygon points="162.7,138.0 162.5,138.7 161.5,139.4 160.1,140.0 158.5,140.4 157.0,140.9 155.3,141.3 153.3,141.6 151.1,141.7 149.0,141.6 147.0,141.5 144.9,141.4 142.6,141.4 140.2,141.2 138.2,140.8 137.0,140.1 136.7,139.4 137.1,138.6 137.5,138.0 137.7,137.4 137.8,136.8 138.2,136.1 139.2,135.5 140.8,135.0 142.7,134.6 144.6,134.3 146.7,134.1 149.0,133.9 151.4,133.9 153.5,134.2 155.2,134.7 156.4,135.3 157.5,135.8 158.8,136.3 160.4,136.7 161.9,137.3" fill="rgba(0,0,0,0.045)" stroke="rgba(25,25,25,0.63)" stroke-width="0.45" stroke-linejoin="round"/>
<polygon points="160.0,138.0 159.8,138.6 158.8,139.1 157.4,139.5 156.0,139.8 154.8,140.1 153.6,140.4 152.3,140.8 150.7,141.0 149.0,141.1 147.3,141.0 145.6,140.9 143.9,140.7 142.3,140.5 140.8,140.1 139.9,139.6 139.7,139.0 139.9,138.5 140.2,138.0 140.3,137.5 140.2,137.0 140.3,136.5 140.8,135.9 142.0,135.5 143.7,135.2 145.5,135.1 147.3,135.0 149.0,135.0 150.7,135.0 152.4,135.2 153.8,135.5 155.0,135.8 156.0,136.2 157.1,136.6 158.3,137.0 159.4,137.4" fill="rgba(0,0,0,0.045)" stroke="rgba(25,25,25,0.63)" stroke-width="0.45" stroke-linejoin="round"/>
<polygon points="156.7,138.0 156.6,138.4 155.9,138.8 154.9,139.0 153.9,139.3 153.1,139.5 152.3,139.8 151.5,140.1 150.3,140.3 149.0,140.4 147.7,140.3 146.4,140.1 145.4,139.9 144.4,139.7 143.5,139.4 142.8,139.1 142.4,138.7 142.3,138.4 142.3,138.0 142.4,137.6 142.4,137.3 142.5,136.8 142.9,136.4 143.8,136.1 145.1,135.9 146.5,135.9 147.8,136.0 149.0,136.0 150.2,136.0 151.4,136.0 152.6,136.1 153.7,136.3 154.6,136.6 155.3,136.9 155.9,137.2 156.4,137.6" fill="rgba(0,0,0,0.045)" stroke="rgba(25,25,25,0.63)" stroke-width="0.45" stroke-linejoin="round"/>
<polygon points="153.4,138.0 153.4,138.2 153.2,138.5 152.7,138.7 152.2,138.8 151.7,139.0 151.2,139.1 150.6,139.3 149.9,139.5 149.0,139.5 148.1,139.5 147.4,139.3 146.9,139.1 146.4,139.0 145.9,138.8 145.3,138.7 144.8,138.5 144.5,138.2 144.4,138.0 144.5,137.8 144.7,137.5 144.9,137.3 145.3,137.1 145.9,136.9 146.7,136.8 147.5,136.7 148.3,136.8 149.0,136.8 149.7,136.8 150.5,136.7 151.4,136.8 152.2,136.9 152.7,137.0 153.1,137.3 153.3,137.5 153.4,137.8" fill="rgba(0,0,0,0.045)" stroke="rgba(25,25,25,0.63)" stroke-width="0.45" stroke-linejoin="round"/>
<polygon points="148.6,143.0 149.1,144.2 149.2,145.6 148.7,146.9 147.6,147.9 146.0,148.5 144.3,148.8 142.8,149.0 141.4,149.3 140.0,149.6 138.5,149.8 136.9,149.6 135.5,149.1 134.2,148.4 133.0,147.6 131.9,146.6 131.0,145.6 130.5,144.3 130.6,143.0 131.3,141.8 132.3,140.8 133.1,139.9 133.8,138.9 134.4,137.8 135.3,136.7 136.7,135.9 138.3,135.5 140.0,135.6 141.6,136.0 143.0,136.5 144.5,137.0 145.8,137.7 146.8,138.6 147.5,139.6 147.9,140.8 148.2,141.9" fill="rgba(0,0,0,0.040)" stroke="rgba(25,25,25,0.56)" stroke-width="0.45" stroke-linejoin="round"/>
<polygon points="147.4,143.0 147.4,144.0 147.3,145.1 146.8,146.1 145.9,146.9 144.7,147.4 143.4,147.6 142.2,147.7 141.1,148.0 140.0,148.4 138.7,148.7 137.3,148.8 136.0,148.4 135.0,147.6 134.3,146.7 133.7,145.8 133.2,144.9 132.8,144.0 132.7,143.0 133.0,142.0 133.6,141.2 134.2,140.4 134.7,139.6 135.3,138.6 136.1,137.7 137.2,137.0 138.6,136.8 140.0,137.0 141.2,137.5 142.3,138.1 143.3,138.5 144.4,138.9 145.5,139.4 146.4,140.1 147.0,141.0 147.2,142.0" fill="rgba(0,0,0,0.040)" stroke="rgba(25,25,25,0.56)" stroke-width="0.45" stroke-linejoin="round"/>
<polygon points="145.8,143.0 145.5,143.8 145.2,144.5 144.8,145.2 144.3,145.8 143.5,146.3 142.7,146.6 141.8,146.8 140.9,147.0 140.0,147.3 139.0,147.5 137.9,147.6 136.9,147.2 136.1,146.6 135.7,145.8 135.5,145.0 135.2,144.4 134.9,143.7 134.6,143.0 134.5,142.2 134.6,141.5 135.1,140.8 135.7,140.2 136.3,139.6 137.0,139.0 137.9,138.6 139.0,138.4 140.0,138.5 140.9,138.9 141.7,139.3 142.5,139.7 143.4,139.9 144.3,140.2 145.2,140.7 145.8,141.4 145.9,142.2" fill="rgba(0,0,0,0.040)" stroke="rgba(25,25,25,0.56)" stroke-width="0.45" stroke-linejoin="round"/>
<polygon points="144.0,143.0 143.7,143.5 143.4,144.0 143.1,144.4 142.9,144.9 142.5,145.3 142.0,145.7 141.4,145.9 140.7,146.0 140.0,146.1 139.3,146.1 138.6,146.1 137.9,145.8 137.4,145.4 137.1,144.9 136.9,144.4 136.7,143.9 136.5,143.5 136.1,143.0 135.9,142.4 136.0,141.9 136.3,141.3 136.8,140.9 137.5,140.6 138.1,140.4 138.7,140.1 139.3,140.0 140.0,140.0 140.7,140.1 141.2,140.3 141.8,140.5 142.4,140.7 143.1,141.0 143.7,141.3 144.1,141.8 144.2,142.4" fill="rgba(0,0,0,0.040)" stroke="rgba(25,25,25,0.56)" stroke-width="0.45" stroke-linejoin="round"/>
<polygon points="142.2,143.0 142.0,143.3 141.9,143.5 141.7,143.8 141.7,144.1 141.5,144.4 141.2,144.6 140.8,144.8 140.4,144.8 140.0,144.8 139.6,144.7 139.2,144.6 138.9,144.5 138.6,144.3 138.3,144.1 138.2,143.8 138.0,143.6 137.9,143.3 137.7,143.0 137.6,142.7 137.6,142.3 137.9,142.0 138.2,141.8 138.6,141.7 139.0,141.6 139.3,141.5 139.6,141.4 140.0,141.3 140.4,141.3 140.8,141.3 141.1,141.5 141.5,141.6 141.8,141.8 142.1,142.1 142.3,142.4 142.3,142.7" fill="rgba(0,0,0,0.040)" stroke="rgba(25,25,25,0.56)" stroke-width="0.45" stroke-linejoin="round"/>
<polygon points="146.9,137.5 146.9,138.2 146.5,138.9 145.9,139.4 145.4,139.8 144.8,140.1 144.4,140.6 143.8,141.0 143.2,141.2 142.5,141.3 141.8,141.3 141.1,141.1 140.5,140.9 139.8,140.6 139.2,140.1 138.8,139.5 138.7,138.8 138.8,138.1 138.9,137.5 139.0,136.9 139.0,136.3 139.0,135.6 139.2,134.9 139.7,134.3 140.4,134.0 141.1,133.8 141.8,133.8 142.5,133.7 143.2,133.8 143.9,133.9 144.5,134.3 144.9,134.8 145.3,135.3 145.7,135.7 146.2,136.2 146.7,136.8" fill="rgba(0,0,0,0.170)" stroke="rgba(25,25,25,0.95)" stroke-width="0.6" stroke-linejoin="round"/>
<polygon points="145.7,137.5 145.7,138.0 145.4,138.5 145.0,138.9 144.6,139.1 144.2,139.4 143.9,139.8 143.5,140.1 143.0,140.5 142.5,140.6 141.9,140.5 141.4,140.3 141.0,140.0 140.6,139.7 140.2,139.3 139.9,138.9 139.7,138.5 139.7,138.0 139.7,137.5 139.8,137.0 139.8,136.6 139.8,136.0 140.0,135.5 140.3,135.1 140.9,134.8 141.5,134.8 142.0,134.8 142.5,134.9 143.0,134.9 143.5,134.9 144.0,135.0 144.4,135.3 144.8,135.7 145.1,136.1 145.4,136.5 145.6,137.0" fill="rgba(0,0,0,0.170)" stroke="rgba(25,25,25,0.95)" stroke-width="0.6" stroke-linejoin="round"/>
<polygon points="144.5,137.5 144.5,137.8 144.4,138.1 144.2,138.4 143.9,138.6 143.7,138.8 143.5,139.1 143.2,139.3 142.9,139.5 142.5,139.6 142.1,139.6 141.8,139.3 141.5,139.1 141.3,138.8 141.1,138.6 140.9,138.4 140.6,138.1 140.5,137.8 140.5,137.5 140.5,137.2 140.6,136.8 140.7,136.5 140.9,136.2 141.1,135.9 141.5,135.8 141.8,135.7 142.2,135.8 142.5,135.8 142.8,135.8 143.2,135.8 143.5,135.8 143.9,135.9 144.2,136.2 144.3,136.5 144.4,136.8 144.5,137.2" fill="rgba(0,0,0,0.170)" stroke="rgba(25,25,25,0.95)" stroke-width="0.6" stroke-linejoin="round"/>
<polygon points="143.4,137.5 143.4,137.7 143.4,137.8 143.4,138.0 143.3,138.1 143.1,138.2 143.0,138.3 142.9,138.4 142.7,138.5 142.5,138.5 142.3,138.5 142.2,138.4 142.0,138.3 141.9,138.1 141.8,138.0 141.7,137.9 141.5,137.8 141.4,137.7 141.4,137.5 141.5,137.3 141.5,137.2 141.6,137.0 141.7,136.9 141.9,136.8 142.0,136.7 142.2,136.6 142.3,136.6 142.5,136.6 142.7,136.6 142.8,136.6 143.0,136.6 143.2,136.7 143.4,136.8 143.4,137.0 143.4,137.2 143.4,137.3" fill="rgba(0,0,0,0.170)" stroke="rgba(25,25,25,0.95)" stroke-width="0.6" stroke-linejoin="round"/>
<rect x="130.40" y="127.00" width="1.4" height="21.00" fill="#3a3a3a"/>
</g>
<rect x="130.40" y="114.00" width="40.10" height="38.80" fill="none" stroke="#a4a4a4" stroke-width="0.75"/>
<text x="131.10" y="119.40" font-size="5.85" text-anchor="start" fill="#000" stroke="#000" stroke-width="0.1">10.6</text>
<text x="169.90" y="119.40" font-size="5.85" text-anchor="end" fill="#000" stroke="#000" stroke-width="0.1">1.22</text>
<text x="131.10" y="152.30" font-size="5.85" text-anchor="start" fill="#000" stroke="#000" stroke-width="0.1">77.5</text>
<text x="169.90" y="152.30" font-size="5.85" text-anchor="end" fill="#000" stroke="#000" stroke-width="0.1">10.7</text>
<line x1="124.80" y1="117.22" x2="128.40" y2="117.22" stroke="#8c8c8c" stroke-width="0.9"/>
<line x1="124.80" y1="126.42" x2="128.40" y2="126.42" stroke="#8c8c8c" stroke-width="0.9"/>
<line x1="125.40" y1="135.34" x2="128.40" y2="135.34" stroke="#8c8c8c" stroke-width="0.9"/>
<line x1="126.00" y1="144.65" x2="128.40" y2="144.65" stroke="#8c8c8c" stroke-width="0.9"/>
<line x1="128.20" y1="147.76" x2="128.20" y2="149.31" stroke="#999" stroke-width="0.7"/>
<line x1="134.41" y1="155.70" x2="136.01" y2="155.70" stroke="#a0a0a0" stroke-width="0.9"/>
<line x1="137.62" y1="155.70" x2="140.02" y2="155.70" stroke="#a0a0a0" stroke-width="0.9"/>
<line x1="147.64" y1="155.70" x2="151.25" y2="155.70" stroke="#a0a0a0" stroke-width="0.9"/>
<line x1="155.66" y1="155.70" x2="160.07" y2="155.70" stroke="#a0a0a0" stroke-width="0.9"/>
<line x1="164.08" y1="155.70" x2="168.09" y2="155.70" stroke="#a0a0a0" stroke-width="0.9"/>
<clipPath id="ca34"><rect x="185.40" y="113.60" width="39.80" height="39.30"/></clipPath>
<line x1="204.00" y1="113.60" x2="204.00" y2="152.90" stroke="#b4b4b4" stroke-width="0.8"/>
<line x1="185.40" y1="134.50" x2="225.20" y2="134.50" stroke="#ccc" stroke-width="1.1"/>
<g clip-path="url(#ca34)">
<polygon points="203.8,122.0 203.9,122.8 203.9,123.7 204.1,124.5 204.2,125.4 203.9,126.6 203.1,127.9 201.7,129.1 200.1,130.2 198.5,131.0 197.0,131.7 195.7,132.5 194.2,133.3 192.7,134.0 191.3,134.3 190.1,134.4 189.1,134.2 188.3,133.9 187.5,133.5 186.9,132.9 186.8,131.9 187.3,130.7 188.3,129.5 189.4,128.3 190.4,127.2 191.2,126.1 192.1,124.9 193.3,123.6 194.8,122.5 196.4,121.6 197.9,121.2 199.3,120.9 200.6,120.8 201.7,120.8 202.8,120.9 203.5,121.3" fill="rgba(0,0,0,0.040)" stroke="rgba(25,25,25,0.56)" stroke-width="0.45" stroke-linejoin="round"/>
<polygon points="202.7,122.8 203.0,123.4 203.0,124.1 202.9,124.9 202.7,125.8 202.3,126.8 201.5,127.8 200.5,128.8 199.2,129.6 197.9,130.3 196.8,130.8 195.7,131.5 194.6,132.2 193.2,133.0 191.9,133.5 190.9,133.5 190.1,133.2 189.7,132.7 189.4,132.1 189.2,131.5 189.1,130.8 189.3,130.0 189.8,129.1 190.5,128.2 191.2,127.3 192.0,126.3 192.7,125.3 193.7,124.3 195.0,123.3 196.3,122.6 197.6,122.4 198.6,122.4 199.4,122.5 200.3,122.5 201.2,122.4 202.1,122.5" fill="rgba(0,0,0,0.040)" stroke="rgba(25,25,25,0.56)" stroke-width="0.45" stroke-linejoin="round"/>
<polygon points="201.5,123.7 201.8,124.1 201.7,124.7 201.4,125.5 200.9,126.2 200.5,127.0 199.9,127.7 199.2,128.4 198.4,129.1 197.5,129.7 196.6,130.2 195.8,130.7 194.8,131.3 193.8,131.8 192.8,132.2 192.0,132.2 191.5,131.9 191.3,131.4 191.3,130.8 191.2,130.3 191.0,129.9 190.9,129.4 191.0,128.8 191.4,128.0 192.0,127.3 192.7,126.6 193.5,125.8 194.3,125.1 195.2,124.4 196.2,123.9 197.2,123.7 197.9,123.7 198.6,123.7 199.2,123.7 200.0,123.6 200.8,123.5" fill="rgba(0,0,0,0.040)" stroke="rgba(25,25,25,0.56)" stroke-width="0.45" stroke-linejoin="round"/>
<polygon points="199.9,124.7 200.2,125.0 200.1,125.5 199.7,126.1 199.3,126.7 198.9,127.2 198.5,127.6 198.2,128.1 197.7,128.6 197.1,129.1 196.5,129.5 195.8,129.9 195.2,130.2 194.5,130.5 193.8,130.7 193.3,130.7 192.9,130.5 192.8,130.1 192.8,129.8 192.7,129.4 192.6,129.2 192.4,128.9 192.3,128.4 192.5,127.9 193.0,127.3 193.6,126.8 194.3,126.3 194.9,125.9 195.5,125.5 196.2,125.1 196.8,124.9 197.4,124.8 197.9,124.8 198.4,124.7 198.9,124.7 199.5,124.6" fill="rgba(0,0,0,0.040)" stroke="rgba(25,25,25,0.56)" stroke-width="0.45" stroke-linejoin="round"/>
<polygon points="198.2,126.0 198.3,126.2 198.2,126.4 198.1,126.7 197.8,127.0 197.6,127.3 197.4,127.6 197.3,127.9 197.0,128.2 196.7,128.5 196.3,128.8 195.9,128.9 195.5,129.0 195.2,129.1 194.9,129.2 194.6,129.2 194.3,129.1 194.2,129.0 194.1,128.8 194.0,128.7 193.9,128.5 193.9,128.3 193.8,128.0 194.0,127.7 194.3,127.4 194.7,127.1 195.0,126.9 195.4,126.7 195.7,126.4 196.1,126.2 196.5,126.0 196.8,125.9 197.2,125.8 197.5,125.8 197.7,125.8 198.0,125.9" fill="rgba(0,0,0,0.040)" stroke="rgba(25,25,25,0.56)" stroke-width="0.45" stroke-linejoin="round"/>
<polygon points="213.2,138.5 213.7,139.5 214.0,140.5 213.5,141.6 211.9,142.4 209.5,143.0 206.9,143.2 204.4,143.3 202.2,143.4 200.0,143.6 197.6,143.8 195.2,143.7 192.9,143.3 190.9,142.7 189.2,142.1 187.5,141.3 186.1,140.5 185.1,139.5 185.2,138.5 186.1,137.5 187.7,136.7 189.3,136.1 190.5,135.4 191.5,134.5 192.9,133.7 194.9,132.9 197.3,132.6 200.0,132.6 202.5,132.9 204.8,133.4 206.9,133.8 208.9,134.3 210.7,135.0 211.8,135.8 212.4,136.7 212.7,137.6" fill="rgba(0,0,0,0.045)" stroke="rgba(25,25,25,0.63)" stroke-width="0.45" stroke-linejoin="round"/>
<polygon points="212.0,138.5 211.9,139.3 211.7,140.2 211.1,141.0 209.8,141.7 207.8,142.2 205.7,142.4 203.6,142.4 201.8,142.6 200.0,142.8 197.9,143.1 195.7,143.2 193.5,142.9 191.8,142.4 190.5,141.6 189.7,140.8 189.0,140.1 188.4,139.3 188.2,138.5 188.5,137.7 189.4,137.0 190.5,136.3 191.5,135.7 192.5,135.0 193.8,134.3 195.5,133.6 197.7,133.4 200.0,133.5 202.1,133.9 203.8,134.4 205.4,134.8 207.1,135.2 208.8,135.6 210.3,136.2 211.3,136.9 211.8,137.7" fill="rgba(0,0,0,0.045)" stroke="rgba(25,25,25,0.63)" stroke-width="0.45" stroke-linejoin="round"/>
<polygon points="210.3,138.5 209.7,139.2 209.1,139.8 208.4,140.4 207.5,141.0 206.2,141.4 204.7,141.7 203.1,141.9 201.6,142.0 200.0,142.2 198.3,142.4 196.3,142.4 194.5,142.2 193.1,141.7 192.3,141.0 191.9,140.3 191.6,139.7 191.2,139.1 190.7,138.5 190.4,137.8 190.7,137.2 191.4,136.6 192.5,136.0 193.6,135.5 194.9,135.0 196.4,134.6 198.2,134.4 200.0,134.5 201.7,134.8 203.0,135.2 204.3,135.6 205.7,135.8 207.3,136.1 208.9,136.5 210.0,137.1 210.5,137.8" fill="rgba(0,0,0,0.045)" stroke="rgba(25,25,25,0.63)" stroke-width="0.45" stroke-linejoin="round"/>
<polygon points="208.1,138.5 207.4,139.0 206.7,139.5 206.1,139.9 205.5,140.3 204.9,140.8 203.9,141.1 202.7,141.4 201.3,141.5 200.0,141.6 198.6,141.6 197.2,141.5 195.9,141.3 194.8,140.9 194.1,140.4 193.8,139.9 193.6,139.4 193.2,139.0 192.7,138.5 192.2,138.0 192.2,137.4 192.7,136.9 193.7,136.4 195.0,136.1 196.2,135.9 197.4,135.7 198.7,135.5 200.0,135.5 201.3,135.6 202.5,135.8 203.6,136.1 204.7,136.3 205.9,136.5 207.2,136.9 208.1,137.3 208.4,137.9" fill="rgba(0,0,0,0.045)" stroke="rgba(25,25,25,0.63)" stroke-width="0.45" stroke-linejoin="round"/>
<polygon points="205.7,138.5 205.2,138.9 204.7,139.2 204.3,139.5 204.0,139.8 203.6,140.2 203.0,140.5 202.1,140.8 201.0,140.8 200.0,140.8 199.0,140.7 198.1,140.5 197.2,140.4 196.4,140.2 195.8,139.9 195.4,139.5 195.1,139.2 194.8,138.9 194.5,138.5 194.2,138.1 194.2,137.7 194.6,137.3 195.4,137.0 196.4,136.8 197.4,136.7 198.3,136.6 199.1,136.5 200.0,136.4 201.0,136.3 201.9,136.4 202.8,136.6 203.6,136.8 204.4,137.1 205.1,137.3 205.7,137.7 205.9,138.1" fill="rgba(0,0,0,0.045)" stroke="rgba(25,25,25,0.63)" stroke-width="0.45" stroke-linejoin="round"/>
<polygon points="203.4,138.5 203.3,138.7 203.1,138.9 202.8,139.1 202.6,139.4 202.3,139.6 201.9,139.8 201.3,139.9 200.7,140.0 200.0,139.9 199.4,139.8 198.9,139.7 198.4,139.6 197.8,139.5 197.3,139.4 196.9,139.2 196.7,139.0 196.5,138.7 196.4,138.5 196.4,138.3 196.5,138.0 196.7,137.8 197.2,137.6 197.8,137.5 198.4,137.4 198.9,137.4 199.4,137.3 200.0,137.1 200.6,137.1 201.3,137.1 201.9,137.2 202.3,137.4 202.7,137.6 203.0,137.8 203.3,138.0 203.4,138.3" fill="rgba(0,0,0,0.045)" stroke="rgba(25,25,25,0.63)" stroke-width="0.45" stroke-linejoin="round"/>
<polygon points="218.5,139.0 218.5,139.5 218.1,139.9 217.4,140.3 216.6,140.5 215.9,140.7 215.3,141.0 214.6,141.2 213.9,141.4 213.0,141.5 212.1,141.5 211.3,141.4 210.5,141.2 209.6,141.0 208.9,140.7 208.3,140.3 208.1,139.9 208.2,139.4 208.5,139.0 208.7,138.6 208.7,138.2 208.8,137.8 209.0,137.3 209.5,136.9 210.3,136.7 211.2,136.5 212.1,136.5 213.0,136.5 213.9,136.6 214.7,136.7 215.5,136.9 216.1,137.2 216.5,137.5 217.0,137.8 217.5,138.2 218.1,138.6" fill="rgba(0,0,0,0.030)" stroke="rgba(25,25,25,0.42)" stroke-width="0.45" stroke-linejoin="round"/>
<polygon points="216.3,139.0 216.3,139.3 216.1,139.6 215.7,139.8 215.2,139.9 214.8,140.1 214.4,140.2 214.0,140.4 213.6,140.6 213.0,140.7 212.4,140.7 211.9,140.6 211.4,140.4 211.0,140.2 210.6,140.0 210.3,139.8 210.1,139.5 210.0,139.3 210.1,139.0 210.2,138.8 210.2,138.5 210.3,138.2 210.4,137.9 210.8,137.7 211.3,137.5 211.9,137.5 212.5,137.5 213.0,137.6 213.5,137.6 214.0,137.6 214.5,137.7 215.0,137.8 215.4,138.0 215.7,138.2 216.0,138.5 216.2,138.7" fill="rgba(0,0,0,0.030)" stroke="rgba(25,25,25,0.42)" stroke-width="0.45" stroke-linejoin="round"/>
<polygon points="214.2,139.0 214.2,139.1 214.2,139.2 214.1,139.3 213.9,139.4 213.7,139.4 213.6,139.5 213.4,139.6 213.2,139.7 213.0,139.7 212.8,139.7 212.5,139.6 212.4,139.5 212.3,139.4 212.1,139.4 212.0,139.3 211.9,139.2 211.8,139.1 211.7,139.0 211.8,138.9 211.8,138.8 211.9,138.7 212.0,138.6 212.1,138.5 212.3,138.4 212.6,138.4 212.8,138.4 213.0,138.4 213.2,138.5 213.4,138.4 213.6,138.5 213.9,138.5 214.0,138.6 214.2,138.7 214.2,138.8 214.2,138.9" fill="rgba(0,0,0,0.030)" stroke="rgba(25,25,25,0.42)" stroke-width="0.45" stroke-linejoin="round"/>
<polygon points="203.5,143.0 202.7,144.1 201.8,145.1 201.1,146.0 200.5,146.9 199.6,147.9 198.5,148.6 197.1,149.2 195.6,149.4 194.0,149.5 192.4,149.6 190.7,149.5 189.1,149.1 187.9,148.3 187.1,147.2 186.7,146.0 186.5,145.0 186.1,144.0 185.5,143.0 185.0,141.9 184.9,140.6 185.5,139.5 186.7,138.6 188.1,137.9 189.5,137.4 190.9,136.9 192.4,136.6 194.0,136.5 195.5,136.8 196.9,137.3 198.1,137.8 199.4,138.3 200.9,138.8 202.3,139.5 203.4,140.5 203.8,141.7" fill="rgba(0,0,0,0.040)" stroke="rgba(25,25,25,0.56)" stroke-width="0.45" stroke-linejoin="round"/>
<polygon points="201.5,143.0 200.9,143.9 200.1,144.6 199.6,145.3 199.2,146.1 198.7,147.0 197.9,147.9 196.7,148.4 195.4,148.6 194.0,148.5 192.7,148.2 191.5,147.9 190.4,147.6 189.3,147.0 188.5,146.3 188.0,145.5 187.7,144.7 187.3,143.9 186.9,143.0 186.5,142.0 186.4,141.0 186.9,140.0 188.0,139.3 189.3,138.9 190.6,138.7 191.7,138.5 192.8,138.2 194.0,137.9 195.3,137.8 196.5,138.0 197.7,138.4 198.7,138.9 199.7,139.5 200.7,140.2 201.4,141.1 201.7,142.0" fill="rgba(0,0,0,0.040)" stroke="rgba(25,25,25,0.56)" stroke-width="0.45" stroke-linejoin="round"/>
<polygon points="199.6,143.0 199.3,143.7 198.9,144.3 198.5,144.9 198.1,145.5 197.7,146.2 197.1,146.8 196.2,147.3 195.1,147.4 194.0,147.2 193.1,146.8 192.2,146.5 191.4,146.2 190.6,146.0 189.7,145.6 189.1,145.0 188.7,144.4 188.5,143.7 188.3,143.0 188.2,142.3 188.3,141.5 188.8,140.8 189.5,140.3 190.5,140.0 191.4,139.8 192.3,139.6 193.1,139.4 194.0,139.0 195.0,138.8 196.1,138.9 197.0,139.2 197.8,139.7 198.4,140.4 198.8,141.0 199.3,141.6 199.5,142.3" fill="rgba(0,0,0,0.040)" stroke="rgba(25,25,25,0.56)" stroke-width="0.45" stroke-linejoin="round"/>
<polygon points="197.9,143.0 197.9,143.5 197.7,144.0 197.4,144.4 197.0,144.8 196.6,145.3 196.1,145.6 195.5,145.9 194.7,146.0 194.0,145.8 193.4,145.6 192.8,145.4 192.2,145.2 191.6,145.1 190.9,144.9 190.3,144.5 190.0,144.1 189.9,143.5 190.0,143.0 190.1,142.5 190.3,142.0 190.6,141.6 191.0,141.2 191.6,140.9 192.2,140.7 192.8,140.5 193.4,140.4 194.0,140.1 194.7,140.0 195.5,140.0 196.2,140.3 196.6,140.7 196.9,141.2 197.1,141.7 197.4,142.1 197.7,142.5" fill="rgba(0,0,0,0.040)" stroke="rgba(25,25,25,0.56)" stroke-width="0.45" stroke-linejoin="round"/>
<polygon points="196.3,143.0 196.4,143.3 196.3,143.6 196.1,143.9 195.8,144.1 195.4,144.2 195.1,144.4 194.8,144.5 194.4,144.6 194.0,144.6 193.6,144.5 193.3,144.4 192.9,144.3 192.6,144.2 192.2,144.1 191.8,143.9 191.6,143.6 191.6,143.3 191.8,143.0 191.9,142.7 192.1,142.5 192.2,142.2 192.3,142.0 192.6,141.8 192.9,141.6 193.2,141.5 193.6,141.4 194.0,141.3 194.4,141.3 194.8,141.4 195.2,141.5 195.5,141.7 195.6,142.0 195.7,142.3 195.9,142.5 196.1,142.7" fill="rgba(0,0,0,0.040)" stroke="rgba(25,25,25,0.56)" stroke-width="0.45" stroke-linejoin="round"/>
<polygon points="199.0,138.0 199.0,138.6 198.9,139.2 198.7,139.9 198.2,140.5 197.5,140.9 196.7,141.3 195.9,141.6 195.0,141.9 194.0,142.1 193.0,142.0 192.1,141.7 191.3,141.2 190.8,140.6 190.3,140.2 189.7,139.7 188.9,139.3 188.3,138.7 188.0,138.0 188.2,137.3 188.6,136.6 189.2,136.1 189.8,135.6 190.5,135.1 191.2,134.7 192.1,134.5 193.1,134.4 194.0,134.5 194.9,134.5 195.8,134.6 196.8,134.6 197.9,134.8 198.7,135.3 199.2,135.9 199.3,136.7 199.1,137.4" fill="rgba(0,0,0,0.162)" stroke="rgba(25,25,25,0.95)" stroke-width="0.6" stroke-linejoin="round"/>
<polygon points="197.6,138.0 197.6,138.4 197.7,138.9 197.7,139.5 197.4,140.0 196.9,140.4 196.2,140.6 195.4,140.7 194.7,140.8 194.0,140.8 193.3,140.8 192.6,140.7 192.0,140.4 191.5,140.0 191.1,139.7 190.6,139.4 190.1,139.0 189.6,138.5 189.4,138.0 189.5,137.5 190.0,137.0 190.5,136.6 191.1,136.3 191.6,136.0 192.0,135.7 192.6,135.4 193.3,135.2 194.0,135.1 194.7,135.2 195.4,135.3 196.1,135.4 196.8,135.7 197.4,136.0 197.8,136.5 197.8,137.0 197.7,137.5" fill="rgba(0,0,0,0.162)" stroke="rgba(25,25,25,0.95)" stroke-width="0.6" stroke-linejoin="round"/>
<polygon points="196.5,138.0 196.5,138.3 196.6,138.6 196.5,139.0 196.3,139.4 196.0,139.6 195.5,139.7 194.9,139.8 194.4,139.7 194.0,139.7 193.6,139.8 193.1,139.7 192.6,139.6 192.2,139.5 191.9,139.2 191.6,139.0 191.3,138.7 191.1,138.4 191.0,138.0 191.1,137.6 191.4,137.3 191.8,137.1 192.1,136.9 192.4,136.7 192.7,136.5 193.0,136.2 193.5,136.0 194.0,135.9 194.5,136.0 195.0,136.2 195.4,136.4 195.8,136.6 196.1,136.8 196.4,137.1 196.5,137.4 196.5,137.7" fill="rgba(0,0,0,0.162)" stroke="rgba(25,25,25,0.95)" stroke-width="0.6" stroke-linejoin="round"/>
<polygon points="195.4,138.0 195.4,138.2 195.3,138.3 195.3,138.5 195.1,138.7 194.9,138.8 194.7,138.8 194.4,138.9 194.2,138.8 194.0,138.8 193.8,138.9 193.5,138.9 193.3,138.9 193.0,138.8 192.9,138.7 192.8,138.5 192.7,138.3 192.7,138.2 192.6,138.0 192.6,137.8 192.7,137.7 192.9,137.5 193.0,137.4 193.2,137.3 193.3,137.2 193.5,137.1 193.7,137.0 194.0,136.9 194.3,137.0 194.5,137.1 194.6,137.2 194.8,137.3 195.0,137.4 195.1,137.5 195.3,137.7 195.4,137.8" fill="rgba(0,0,0,0.162)" stroke="rgba(25,25,25,0.95)" stroke-width="0.6" stroke-linejoin="round"/>
<rect x="185.40" y="127.00" width="1.4" height="21.00" fill="#3a3a3a"/>
</g>
<rect x="185.40" y="113.60" width="39.80" height="39.30" fill="none" stroke="#a4a4a4" stroke-width="0.75"/>
<text x="186.10" y="119.00" font-size="5.85" text-anchor="start" fill="#000" stroke="#000" stroke-width="0.1">15.9</text>
<text x="224.60" y="119.00" font-size="5.85" text-anchor="end" fill="#000" stroke="#000" stroke-width="0.1">1.68</text>
<text x="186.10" y="152.40" font-size="5.85" text-anchor="start" fill="#000" stroke="#000" stroke-width="0.1">78.6</text>
<text x="224.60" y="152.40" font-size="5.85" text-anchor="end" fill="#000" stroke="#000" stroke-width="0.1">3.67</text>
<line x1="179.80" y1="116.86" x2="183.40" y2="116.86" stroke="#8c8c8c" stroke-width="0.9"/>
<line x1="179.80" y1="126.18" x2="183.40" y2="126.18" stroke="#8c8c8c" stroke-width="0.9"/>
<line x1="180.40" y1="135.22" x2="183.40" y2="135.22" stroke="#8c8c8c" stroke-width="0.9"/>
<line x1="181.00" y1="144.65" x2="183.40" y2="144.65" stroke="#8c8c8c" stroke-width="0.9"/>
<line x1="183.20" y1="147.79" x2="183.20" y2="149.36" stroke="#999" stroke-width="0.7"/>
<line x1="189.38" y1="155.80" x2="190.97" y2="155.80" stroke="#a0a0a0" stroke-width="0.9"/>
<line x1="192.56" y1="155.80" x2="194.95" y2="155.80" stroke="#a0a0a0" stroke-width="0.9"/>
<line x1="202.51" y1="155.80" x2="206.10" y2="155.80" stroke="#a0a0a0" stroke-width="0.9"/>
<line x1="210.47" y1="155.80" x2="214.85" y2="155.80" stroke="#a0a0a0" stroke-width="0.9"/>
<line x1="218.83" y1="155.80" x2="222.81" y2="155.80" stroke="#a0a0a0" stroke-width="0.9"/>
<clipPath id="cb11"><rect x="272.70" y="14.50" width="40.00" height="39.70"/></clipPath>
<line x1="294.20" y1="14.50" x2="294.20" y2="54.20" stroke="#b4b4b4" stroke-width="0.8"/>
<line x1="272.70" y1="39.20" x2="312.70" y2="39.20" stroke="#ccc" stroke-width="1.1"/>
<g clip-path="url(#cb11)">
<polygon points="294.9,33.3 296.0,34.0 296.3,35.4 296.2,37.1 295.9,38.9 295.5,40.5 295.0,42.3 294.3,44.0 293.2,45.7 291.9,47.3 290.5,48.7 289.2,50.1 287.7,51.6 286.1,53.2 284.4,54.4 282.7,54.8 281.5,54.4 280.7,53.4 280.2,52.2 279.6,51.3 279.0,50.5 278.3,49.5 278.0,48.2 278.2,46.6 278.8,44.8 279.6,43.0 280.5,41.1 281.6,39.3 283.0,37.5 284.6,36.1 286.3,35.2 287.8,34.9 289.1,34.8 290.4,34.5 291.9,33.9 293.5,33.4" fill="rgba(0,0,0,0.045)" stroke="rgba(25,25,25,0.63)" stroke-width="0.45" stroke-linejoin="round"/>
<polygon points="294.1,34.4 295.0,35.1 295.2,36.4 294.9,38.0 294.4,39.7 293.9,41.1 293.5,42.5 293.1,43.9 292.5,45.5 291.6,47.1 290.3,48.5 289.0,49.7 287.7,50.8 286.2,51.8 284.8,52.7 283.4,53.0 282.3,52.7 281.6,51.9 281.2,51.0 280.7,50.2 280.0,49.5 279.2,48.9 278.7,47.8 278.7,46.4 279.3,44.7 280.3,43.0 281.5,41.5 282.6,40.1 283.8,38.7 285.0,37.4 286.4,36.5 287.7,35.8 288.9,35.5 290.1,35.2 291.4,34.8 292.8,34.4" fill="rgba(0,0,0,0.045)" stroke="rgba(25,25,25,0.63)" stroke-width="0.45" stroke-linejoin="round"/>
<polygon points="292.9,36.0 293.6,36.6 293.8,37.6 293.6,39.0 293.1,40.3 292.7,41.5 292.5,42.6 292.3,43.9 291.9,45.3 291.2,46.8 290.1,48.1 288.8,49.0 287.6,49.7 286.4,50.2 285.3,50.7 284.2,51.1 283.2,51.1 282.4,50.7 281.8,50.2 281.3,49.5 280.8,48.9 280.1,48.2 279.7,47.3 279.7,46.0 280.3,44.5 281.3,43.1 282.5,41.8 283.5,40.8 284.4,39.7 285.4,38.6 286.5,37.4 287.6,36.5 288.8,36.0 289.9,35.8 290.9,35.7 292.0,35.7" fill="rgba(0,0,0,0.045)" stroke="rgba(25,25,25,0.63)" stroke-width="0.45" stroke-linejoin="round"/>
<polygon points="291.5,37.7 292.0,38.2 292.4,38.9 292.4,39.7 292.3,40.7 292.0,41.8 291.8,42.8 291.6,43.8 291.2,45.0 290.6,46.3 289.6,47.4 288.5,48.1 287.5,48.5 286.5,48.8 285.7,49.0 284.8,49.4 283.8,49.8 283.0,49.8 282.3,49.5 281.8,49.0 281.5,48.3 281.2,47.5 281.1,46.6 281.2,45.5 281.6,44.3 282.4,43.2 283.3,42.2 284.2,41.3 284.9,40.4 285.6,39.4 286.5,38.3 287.6,37.3 288.6,36.8 289.6,36.7 290.3,36.9 290.9,37.3" fill="rgba(0,0,0,0.045)" stroke="rgba(25,25,25,0.63)" stroke-width="0.45" stroke-linejoin="round"/>
<polygon points="290.3,39.2 290.8,39.5 291.2,39.9 291.5,40.4 291.6,41.1 291.4,42.0 291.1,42.9 290.7,43.8 290.3,44.7 289.7,45.6 289.0,46.5 288.2,47.1 287.4,47.4 286.6,47.6 286.0,47.8 285.2,48.2 284.4,48.6 283.6,48.8 282.9,48.7 282.6,48.2 282.5,47.4 282.5,46.6 282.6,45.8 282.7,45.0 283.0,44.1 283.4,43.2 284.0,42.4 284.6,41.6 285.2,40.9 285.9,40.1 286.6,39.2 287.5,38.4 288.3,38.0 289.1,38.0 289.6,38.4 290.0,38.8" fill="rgba(0,0,0,0.045)" stroke="rgba(25,25,25,0.63)" stroke-width="0.45" stroke-linejoin="round"/>
<polygon points="289.4,40.4 289.8,40.6 290.2,40.7 290.5,41.1 290.7,41.6 290.5,42.3 290.2,43.0 289.8,43.7 289.3,44.3 288.9,45.0 288.4,45.6 287.8,46.1 287.3,46.5 286.7,46.7 286.2,46.9 285.6,47.2 285.0,47.5 284.4,47.6 283.9,47.5 283.7,47.0 283.7,46.4 283.8,45.7 284.0,45.1 284.0,44.5 284.1,43.9 284.3,43.3 284.6,42.6 285.0,42.0 285.6,41.4 286.1,40.8 286.7,40.3 287.3,39.9 287.9,39.6 288.5,39.5 288.9,39.8 289.2,40.1" fill="rgba(0,0,0,0.045)" stroke="rgba(25,25,25,0.63)" stroke-width="0.45" stroke-linejoin="round"/>
<polygon points="288.7,41.3 288.9,41.4 289.2,41.6 289.4,41.8 289.5,42.2 289.4,42.7 289.1,43.2 288.8,43.6 288.4,44.0 288.2,44.4 287.9,44.8 287.6,45.2 287.2,45.6 286.8,45.8 286.4,46.0 286.0,46.1 285.7,46.1 285.3,46.1 285.0,46.0 284.9,45.8 284.8,45.4 284.9,44.9 285.0,44.5 285.1,44.2 285.1,43.8 285.1,43.4 285.3,42.9 285.6,42.4 286.0,42.0 286.4,41.7 286.8,41.5 287.2,41.3 287.6,41.1 287.9,41.0 288.3,41.0 288.5,41.1" fill="rgba(0,0,0,0.045)" stroke="rgba(25,25,25,0.63)" stroke-width="0.45" stroke-linejoin="round"/>
<polygon points="300.4,48.0 299.9,48.9 299.4,49.7 298.8,50.5 298.1,51.2 297.1,51.8 295.8,52.2 294.6,52.4 293.3,52.6 292.0,52.8 290.6,53.0 289.0,53.1 287.5,52.8 286.4,52.2 285.7,51.3 285.4,50.4 285.2,49.6 284.8,48.8 284.4,48.0 284.2,47.1 284.4,46.3 285.0,45.5 285.8,44.8 286.8,44.1 287.8,43.5 289.1,43.0 290.5,42.7 292.0,42.8 293.4,43.2 294.5,43.7 295.5,44.2 296.7,44.5 298.0,44.9 299.3,45.4 300.2,46.1 300.6,47.1" fill="rgba(0,0,0,0.040)" stroke="rgba(25,25,25,0.56)" stroke-width="0.45" stroke-linejoin="round"/>
<polygon points="298.8,48.0 298.2,48.7 297.6,49.3 297.1,49.8 296.7,50.4 296.1,51.0 295.3,51.6 294.3,51.9 293.1,52.0 292.0,52.1 290.8,52.1 289.6,52.0 288.5,51.8 287.6,51.3 287.0,50.6 286.8,49.9 286.6,49.2 286.3,48.6 285.8,48.0 285.4,47.3 285.4,46.5 285.8,45.8 286.7,45.2 287.7,44.8 288.8,44.5 289.8,44.3 290.9,44.0 292.0,44.0 293.1,44.1 294.1,44.4 295.0,44.7 296.0,45.0 297.0,45.4 298.0,45.8 298.8,46.4 299.1,47.2" fill="rgba(0,0,0,0.040)" stroke="rgba(25,25,25,0.56)" stroke-width="0.45" stroke-linejoin="round"/>
<polygon points="297.1,48.0 296.7,48.5 296.2,49.0 295.8,49.4 295.6,49.9 295.2,50.4 294.7,50.9 293.9,51.2 292.9,51.3 292.0,51.2 291.1,51.1 290.3,50.9 289.5,50.7 288.8,50.4 288.3,50.0 287.9,49.5 287.6,49.0 287.4,48.5 287.1,48.0 286.8,47.4 286.8,46.8 287.2,46.3 287.9,45.9 288.8,45.6 289.7,45.5 290.5,45.3 291.2,45.2 292.0,45.0 292.9,44.9 293.7,45.0 294.5,45.3 295.2,45.6 295.9,45.9 296.5,46.4 297.0,46.9 297.2,47.4" fill="rgba(0,0,0,0.040)" stroke="rgba(25,25,25,0.56)" stroke-width="0.45" stroke-linejoin="round"/>
<polygon points="295.4,48.0 295.3,48.4 295.1,48.7 294.8,49.0 294.6,49.4 294.3,49.7 293.9,50.1 293.3,50.3 292.7,50.3 292.0,50.2 291.4,50.0 290.9,49.9 290.4,49.7 289.9,49.6 289.3,49.4 288.9,49.1 288.7,48.8 288.5,48.4 288.4,48.0 288.4,47.6 288.5,47.2 288.8,46.8 289.2,46.6 289.8,46.4 290.4,46.3 290.9,46.2 291.4,46.0 292.0,45.8 292.6,45.7 293.3,45.8 293.9,45.9 294.4,46.2 294.7,46.6 295.0,46.9 295.2,47.3 295.4,47.6" fill="rgba(0,0,0,0.040)" stroke="rgba(25,25,25,0.56)" stroke-width="0.45" stroke-linejoin="round"/>
<polygon points="294.0,48.0 294.0,48.2 293.9,48.4 293.8,48.6 293.6,48.8 293.3,49.0 293.1,49.1 292.7,49.3 292.4,49.3 292.0,49.2 291.7,49.1 291.4,49.0 291.1,49.0 290.8,48.9 290.4,48.8 290.1,48.7 289.9,48.5 289.9,48.2 290.0,48.0 290.1,47.8 290.2,47.6 290.3,47.4 290.5,47.2 290.8,47.1 291.1,47.0 291.4,46.9 291.7,46.8 292.0,46.7 292.4,46.7 292.8,46.7 293.1,46.8 293.3,47.0 293.5,47.2 293.6,47.4 293.7,47.6 293.9,47.8" fill="rgba(0,0,0,0.040)" stroke="rgba(25,25,25,0.56)" stroke-width="0.45" stroke-linejoin="round"/>
<polygon points="293.9,45.0 293.9,45.8 293.7,46.5 293.4,47.2 292.9,47.7 292.4,48.2 291.9,48.7 291.4,49.2 290.7,49.7 290.0,50.0 289.2,49.9 288.5,49.5 288.0,48.8 287.6,48.2 287.2,47.6 286.8,47.1 286.3,46.5 286.0,45.8 285.9,45.0 286.0,44.2 286.2,43.4 286.5,42.7 286.8,42.0 287.2,41.3 287.9,40.9 288.6,40.7 289.3,40.8 290.0,41.0 290.6,41.1 291.3,41.0 292.0,41.1 292.8,41.3 293.4,41.8 293.7,42.6 293.9,43.4 293.9,44.2" fill="rgba(0,0,0,0.145)" stroke="rgba(25,25,25,0.95)" stroke-width="0.6" stroke-linejoin="round"/>
<polygon points="292.7,45.0 292.7,45.5 292.7,46.1 292.6,46.7 292.3,47.2 292.0,47.6 291.5,47.9 291.0,48.2 290.5,48.5 290.0,48.6 289.4,48.6 288.9,48.3 288.6,47.8 288.3,47.3 288.0,46.9 287.6,46.6 287.2,46.1 286.9,45.6 286.7,45.0 286.8,44.4 287.1,43.8 287.4,43.3 287.7,42.9 288.1,42.4 288.5,42.1 289.0,41.9 289.5,41.8 290.0,41.9 290.5,41.9 291.0,41.9 291.6,42.0 292.1,42.2 292.6,42.6 292.8,43.2 292.8,43.8 292.8,44.4" fill="rgba(0,0,0,0.145)" stroke="rgba(25,25,25,0.95)" stroke-width="0.6" stroke-linejoin="round"/>
<polygon points="291.8,45.0 291.8,45.4 291.8,45.7 291.8,46.2 291.7,46.6 291.4,46.9 291.1,47.1 290.7,47.1 290.3,47.2 290.0,47.2 289.7,47.2 289.3,47.1 289.0,46.9 288.8,46.6 288.6,46.3 288.3,46.1 288.1,45.8 287.9,45.4 287.8,45.0 287.8,44.6 288.1,44.2 288.3,43.9 288.6,43.7 288.8,43.4 289.1,43.2 289.3,42.9 289.6,42.8 290.0,42.7 290.4,42.8 290.7,42.9 291.0,43.0 291.4,43.2 291.6,43.4 291.8,43.8 291.8,44.2 291.8,44.6" fill="rgba(0,0,0,0.145)" stroke="rgba(25,25,25,0.95)" stroke-width="0.6" stroke-linejoin="round"/>
<polygon points="290.9,45.0 290.9,45.2 290.9,45.4 290.9,45.6 290.9,45.8 290.7,46.0 290.5,46.0 290.3,46.0 290.2,46.0 290.0,46.0 289.8,46.0 289.7,46.0 289.5,46.0 289.3,45.9 289.2,45.7 289.1,45.6 289.0,45.4 289.0,45.2 288.9,45.0 289.0,44.8 289.1,44.6 289.2,44.5 289.3,44.4 289.4,44.2 289.5,44.1 289.7,43.9 289.8,43.8 290.0,43.8 290.2,43.8 290.3,43.9 290.5,44.0 290.6,44.2 290.8,44.3 290.9,44.4 290.9,44.6 290.9,44.8" fill="rgba(0,0,0,0.145)" stroke="rgba(25,25,25,0.95)" stroke-width="0.6" stroke-linejoin="round"/>
</g>
<rect x="272.70" y="14.50" width="40.00" height="39.70" fill="none" stroke="#a4a4a4" stroke-width="0.75"/>
<text x="273.40" y="19.90" font-size="5.85" text-anchor="start" fill="#000" stroke="#000" stroke-width="0.1">2.79</text>
<text x="312.10" y="19.90" font-size="5.85" text-anchor="end" fill="#000" stroke="#000" stroke-width="0.1">0.94</text>
<text x="273.40" y="53.70" font-size="5.85" text-anchor="start" fill="#000" stroke="#000" stroke-width="0.1">90.1</text>
<text x="312.10" y="53.70" font-size="5.85" text-anchor="end" fill="#000" stroke="#000" stroke-width="0.1">6.23</text>
<line x1="267.10" y1="17.80" x2="270.70" y2="17.80" stroke="#8c8c8c" stroke-width="0.9"/>
<line x1="267.10" y1="27.20" x2="270.70" y2="27.20" stroke="#8c8c8c" stroke-width="0.9"/>
<line x1="267.70" y1="36.34" x2="270.70" y2="36.34" stroke="#8c8c8c" stroke-width="0.9"/>
<line x1="268.30" y1="45.86" x2="270.70" y2="45.86" stroke="#8c8c8c" stroke-width="0.9"/>
<line x1="270.50" y1="49.04" x2="270.50" y2="50.63" stroke="#999" stroke-width="0.7"/>
<line x1="276.70" y1="57.10" x2="278.30" y2="57.10" stroke="#a0a0a0" stroke-width="0.9"/>
<line x1="279.90" y1="57.10" x2="282.30" y2="57.10" stroke="#a0a0a0" stroke-width="0.9"/>
<line x1="289.90" y1="57.10" x2="293.50" y2="57.10" stroke="#a0a0a0" stroke-width="0.9"/>
<line x1="297.90" y1="57.10" x2="302.30" y2="57.10" stroke="#a0a0a0" stroke-width="0.9"/>
<line x1="306.30" y1="57.10" x2="310.30" y2="57.10" stroke="#a0a0a0" stroke-width="0.9"/>
<clipPath id="cb12"><rect x="323.50" y="14.60" width="40.00" height="39.60"/></clipPath>
<line x1="346.90" y1="14.60" x2="346.90" y2="54.20" stroke="#b4b4b4" stroke-width="0.8"/>
<line x1="323.50" y1="39.90" x2="363.50" y2="39.90" stroke="#ccc" stroke-width="1.1"/>
<g clip-path="url(#cb12)">
<polygon points="353.4,44.0 352.6,45.7 351.6,47.2 350.5,48.7 349.2,50.0 347.6,51.2 345.6,52.0 343.4,52.4 341.2,52.7 339.0,53.0 336.7,53.4 334.1,53.5 331.5,53.2 329.4,52.1 328.1,50.4 327.6,48.6 327.3,47.0 327.0,45.5 326.4,44.0 326.0,42.4 326.2,40.7 327.1,39.2 328.5,37.8 330.2,36.6 332.1,35.5 334.1,34.6 336.5,34.0 339.0,34.0 341.3,34.6 343.3,35.7 345.0,36.7 346.7,37.5 348.8,38.2 350.9,39.1 352.7,40.5 353.6,42.2" fill="rgba(0,0,0,0.050)" stroke="rgba(25,25,25,0.70)" stroke-width="0.45" stroke-linejoin="round"/>
<polygon points="351.7,44.0 350.6,45.4 349.4,46.7 348.2,47.8 347.3,48.9 346.3,50.1 344.9,51.2 343.1,52.0 341.1,52.3 339.0,52.4 336.9,52.4 334.8,52.2 332.7,51.7 330.9,50.8 329.8,49.4 329.3,47.9 329.1,46.5 328.7,45.3 328.1,44.0 327.4,42.6 327.2,41.0 327.8,39.4 329.2,38.2 331.1,37.4 333.1,36.8 335.0,36.3 337.0,35.9 339.0,35.8 341.0,36.0 342.8,36.6 344.5,37.3 346.1,38.0 347.9,38.8 349.7,39.6 351.3,40.9 352.0,42.4" fill="rgba(0,0,0,0.050)" stroke="rgba(25,25,25,0.70)" stroke-width="0.45" stroke-linejoin="round"/>
<polygon points="349.5,44.0 348.7,45.2 347.6,46.2 346.7,47.1 346.1,48.2 345.4,49.3 344.3,50.5 342.8,51.3 340.9,51.6 339.0,51.5 337.2,51.1 335.6,50.6 334.0,50.1 332.6,49.4 331.4,48.5 330.6,47.4 330.1,46.3 329.7,45.2 329.2,44.0 328.7,42.7 328.6,41.3 329.2,40.0 330.5,39.0 332.3,38.4 334.2,38.1 335.9,37.9 337.4,37.6 339.0,37.2 340.7,37.0 342.5,37.2 344.1,37.7 345.6,38.5 346.9,39.3 348.1,40.3 349.1,41.4 349.7,42.7" fill="rgba(0,0,0,0.050)" stroke="rgba(25,25,25,0.70)" stroke-width="0.45" stroke-linejoin="round"/>
<polygon points="347.3,44.0 347.1,45.0 346.5,45.9 345.8,46.8 345.1,47.6 344.5,48.6 343.5,49.5 342.2,50.2 340.6,50.5 339.0,50.2 337.6,49.7 336.4,49.1 335.2,48.7 333.9,48.3 332.6,47.8 331.6,47.0 330.9,46.1 330.6,45.0 330.5,44.0 330.4,42.9 330.6,41.8 331.2,40.8 332.2,40.0 333.6,39.5 335.1,39.3 336.5,39.1 337.7,38.8 339.0,38.3 340.5,38.0 342.1,37.9 343.6,38.4 344.8,39.2 345.6,40.1 346.2,41.1 346.8,42.0 347.2,43.0" fill="rgba(0,0,0,0.050)" stroke="rgba(25,25,25,0.70)" stroke-width="0.45" stroke-linejoin="round"/>
<polygon points="345.5,44.0 345.7,44.8 345.5,45.7 344.9,46.4 344.2,47.1 343.4,47.7 342.5,48.3 341.5,48.8 340.2,49.0 339.0,48.8 337.9,48.4 336.9,48.0 336.0,47.6 334.9,47.4 333.8,47.1 332.7,46.6 332.0,45.8 331.9,44.9 332.0,44.0 332.4,43.2 332.8,42.4 333.2,41.7 333.9,41.0 334.8,40.4 335.8,40.1 336.9,39.9 337.9,39.6 339.0,39.3 340.2,39.0 341.6,39.0 342.8,39.4 343.6,40.1 344.1,41.0 344.4,41.8 344.7,42.5 345.2,43.2" fill="rgba(0,0,0,0.050)" stroke="rgba(25,25,25,0.70)" stroke-width="0.45" stroke-linejoin="round"/>
<polygon points="344.0,44.0 344.3,44.7 344.2,45.3 343.8,45.9 343.0,46.4 342.3,46.7 341.5,47.0 340.7,47.3 339.9,47.5 339.0,47.5 338.2,47.4 337.4,47.1 336.6,46.9 335.8,46.7 335.0,46.4 334.2,46.0 333.7,45.4 333.6,44.7 333.9,44.0 334.3,43.4 334.7,42.9 335.0,42.4 335.3,41.8 335.7,41.3 336.4,40.9 337.2,40.6 338.1,40.5 339.0,40.4 339.9,40.3 340.8,40.4 341.7,40.7 342.3,41.2 342.7,41.8 342.9,42.4 343.2,42.9 343.6,43.4" fill="rgba(0,0,0,0.050)" stroke="rgba(25,25,25,0.70)" stroke-width="0.45" stroke-linejoin="round"/>
<polygon points="342.4,44.0 342.6,44.4 342.5,44.9 342.2,45.3 341.7,45.6 341.1,45.7 340.5,45.9 340.0,46.0 339.6,46.2 339.0,46.3 338.4,46.4 337.8,46.3 337.3,46.1 336.8,45.8 336.3,45.6 335.9,45.3 335.6,44.9 335.5,44.4 335.7,44.0 336.0,43.6 336.2,43.3 336.4,42.9 336.5,42.5 336.7,42.1 337.2,41.8 337.7,41.6 338.4,41.5 339.0,41.6 339.6,41.7 340.1,41.8 340.7,42.0 341.1,42.2 341.5,42.5 341.7,42.9 341.9,43.2 342.2,43.6" fill="rgba(0,0,0,0.050)" stroke="rgba(25,25,25,0.70)" stroke-width="0.45" stroke-linejoin="round"/>
<polygon points="346.9,43.5 346.8,44.3 346.6,45.0 346.2,45.7 345.5,46.3 344.8,46.7 344.1,47.1 343.3,47.6 342.5,48.1 341.5,48.4 340.4,48.5 339.5,48.1 338.7,47.5 338.2,46.8 337.7,46.1 337.1,45.6 336.6,45.0 336.1,44.3 335.9,43.5 336.0,42.7 336.3,41.9 336.7,41.2 337.1,40.5 337.7,39.8 338.6,39.3 339.6,39.1 340.6,39.2 341.5,39.4 342.3,39.6 343.2,39.6 344.2,39.7 345.2,39.9 346.1,40.3 346.7,41.1 346.9,41.9 346.9,42.7" fill="rgba(0,0,0,0.145)" stroke="rgba(25,25,25,0.95)" stroke-width="0.6" stroke-linejoin="round"/>
<polygon points="345.3,43.5 345.2,44.0 345.2,44.6 345.0,45.2 344.7,45.7 344.2,46.1 343.6,46.4 342.9,46.7 342.2,46.9 341.5,47.1 340.7,47.1 340.0,46.8 339.5,46.4 339.1,45.9 338.7,45.4 338.3,45.0 337.8,44.6 337.3,44.1 337.0,43.5 337.1,42.9 337.4,42.3 337.9,41.8 338.4,41.4 338.9,41.0 339.5,40.6 340.1,40.4 340.8,40.3 341.5,40.3 342.2,40.4 342.8,40.5 343.6,40.5 344.4,40.7 345.0,41.1 345.4,41.6 345.5,42.3 345.4,42.9" fill="rgba(0,0,0,0.145)" stroke="rgba(25,25,25,0.95)" stroke-width="0.6" stroke-linejoin="round"/>
<polygon points="343.9,43.5 343.9,43.8 343.9,44.2 343.9,44.6 343.8,45.1 343.4,45.4 343.0,45.6 342.5,45.7 342.0,45.7 341.5,45.7 341.0,45.7 340.6,45.6 340.2,45.4 339.8,45.1 339.5,44.8 339.3,44.6 338.9,44.3 338.6,43.9 338.4,43.5 338.5,43.1 338.8,42.7 339.2,42.4 339.6,42.2 339.9,41.9 340.2,41.7 340.6,41.4 341.0,41.3 341.5,41.2 342.0,41.3 342.4,41.4 342.9,41.5 343.4,41.7 343.8,41.9 344.0,42.3 344.1,42.7 344.0,43.1" fill="rgba(0,0,0,0.145)" stroke="rgba(25,25,25,0.95)" stroke-width="0.6" stroke-linejoin="round"/>
<polygon points="342.8,43.5 342.8,43.7 342.8,43.9 342.7,44.1 342.7,44.3 342.5,44.5 342.2,44.5 342.0,44.6 341.7,44.5 341.5,44.5 341.3,44.5 341.0,44.5 340.8,44.5 340.6,44.4 340.4,44.2 340.3,44.1 340.2,43.9 340.1,43.7 340.0,43.5 340.1,43.3 340.2,43.1 340.4,43.0 340.6,42.9 340.7,42.7 340.9,42.6 341.0,42.4 341.2,42.3 341.5,42.3 341.8,42.3 342.0,42.4 342.2,42.5 342.4,42.7 342.5,42.8 342.7,42.9 342.8,43.1 342.8,43.3" fill="rgba(0,0,0,0.145)" stroke="rgba(25,25,25,0.95)" stroke-width="0.6" stroke-linejoin="round"/>
</g>
<rect x="323.50" y="14.60" width="40.00" height="39.60" fill="none" stroke="#a4a4a4" stroke-width="0.75"/>
<text x="324.20" y="20.00" font-size="5.85" text-anchor="start" fill="#000" stroke="#000" stroke-width="0.1">6.63</text>
<text x="362.90" y="20.00" font-size="5.85" text-anchor="end" fill="#000" stroke="#000" stroke-width="0.1">2.23</text>
<text x="324.20" y="53.70" font-size="5.85" text-anchor="start" fill="#000" stroke="#000" stroke-width="0.1">84.9</text>
<text x="362.90" y="53.70" font-size="5.85" text-anchor="end" fill="#000" stroke="#000" stroke-width="0.1">6.26</text>
<line x1="317.90" y1="17.89" x2="321.50" y2="17.89" stroke="#8c8c8c" stroke-width="0.9"/>
<line x1="317.90" y1="27.27" x2="321.50" y2="27.27" stroke="#8c8c8c" stroke-width="0.9"/>
<line x1="318.50" y1="36.38" x2="321.50" y2="36.38" stroke="#8c8c8c" stroke-width="0.9"/>
<line x1="319.10" y1="45.88" x2="321.50" y2="45.88" stroke="#8c8c8c" stroke-width="0.9"/>
<line x1="321.30" y1="49.05" x2="321.30" y2="50.64" stroke="#999" stroke-width="0.7"/>
<line x1="327.50" y1="57.10" x2="329.10" y2="57.10" stroke="#a0a0a0" stroke-width="0.9"/>
<line x1="330.70" y1="57.10" x2="333.10" y2="57.10" stroke="#a0a0a0" stroke-width="0.9"/>
<line x1="340.70" y1="57.10" x2="344.30" y2="57.10" stroke="#a0a0a0" stroke-width="0.9"/>
<line x1="348.70" y1="57.10" x2="353.10" y2="57.10" stroke="#a0a0a0" stroke-width="0.9"/>
<line x1="357.10" y1="57.10" x2="361.10" y2="57.10" stroke="#a0a0a0" stroke-width="0.9"/>
<clipPath id="cb13"><rect x="374.60" y="14.60" width="40.30" height="39.60"/></clipPath>
<line x1="395.80" y1="14.60" x2="395.80" y2="54.20" stroke="#b4b4b4" stroke-width="0.8"/>
<line x1="374.60" y1="38.10" x2="414.90" y2="38.10" stroke="#ccc" stroke-width="1.1"/>
<g clip-path="url(#cb13)">
<polygon points="398.3,28.0 398.2,29.4 398.0,30.7 397.8,32.0 397.3,33.0 396.8,33.8 396.3,34.4 395.7,35.1 395.2,36.0 394.5,36.6 393.8,36.8 393.1,36.3 392.5,35.2 392.1,33.9 391.8,32.7 391.5,31.6 391.1,30.6 390.8,29.4 390.7,28.0 390.7,26.6 390.9,25.2 391.2,24.0 391.5,22.7 391.9,21.5 392.5,20.6 393.1,20.1 393.8,20.2 394.5,20.6 395.1,21.0 395.7,21.3 396.3,21.4 397.0,21.7 397.7,22.4 398.1,23.6 398.3,25.1 398.3,26.6" fill="rgba(0,0,0,0.040)" stroke="rgba(25,25,25,0.56)" stroke-width="0.45" stroke-linejoin="round"/>
<polygon points="397.1,28.0 397.0,28.9 397.0,29.9 396.9,30.9 396.7,31.9 396.4,32.7 395.9,33.3 395.5,33.7 395.0,34.1 394.5,34.3 394.0,34.3 393.5,34.0 393.1,33.2 392.8,32.3 392.6,31.4 392.3,30.7 392.0,29.9 391.7,29.1 391.4,28.0 391.4,26.9 391.6,25.8 392.0,24.9 392.3,24.2 392.7,23.5 393.1,22.9 393.5,22.4 394.0,22.2 394.5,22.3 395.0,22.5 395.4,22.7 395.9,22.9 396.4,23.1 396.9,23.7 397.2,24.7 397.4,25.8 397.3,27.0" fill="rgba(0,0,0,0.040)" stroke="rgba(25,25,25,0.56)" stroke-width="0.45" stroke-linejoin="round"/>
<polygon points="396.2,28.0 396.1,28.6 396.1,29.3 396.1,30.0 396.0,30.7 395.8,31.4 395.5,31.8 395.2,31.9 394.8,31.9 394.5,31.9 394.2,31.9 393.9,31.7 393.6,31.4 393.3,30.9 393.1,30.4 393.0,29.9 392.8,29.3 392.6,28.7 392.4,28.0 392.4,27.2 392.6,26.5 392.8,26.0 393.1,25.6 393.4,25.2 393.6,24.8 393.9,24.4 394.2,24.1 394.5,23.9 394.8,24.0 395.2,24.2 395.5,24.5 395.8,24.8 396.1,25.2 396.3,25.9 396.3,26.6 396.3,27.3" fill="rgba(0,0,0,0.040)" stroke="rgba(25,25,25,0.56)" stroke-width="0.45" stroke-linejoin="round"/>
<polygon points="395.4,28.0 395.4,28.3 395.4,28.7 395.3,29.0 395.3,29.4 395.2,29.7 395.0,29.9 394.8,29.9 394.7,29.9 394.5,29.8 394.3,29.8 394.2,29.8 394.0,29.7 393.9,29.6 393.8,29.3 393.7,29.0 393.6,28.7 393.5,28.4 393.5,28.0 393.5,27.6 393.6,27.3 393.7,27.0 393.8,26.8 394.0,26.6 394.1,26.4 394.2,26.2 394.3,25.9 394.5,25.8 394.7,25.9 394.8,26.0 395.0,26.2 395.1,26.5 395.2,26.7 395.3,27.0 395.4,27.3 395.4,27.7" fill="rgba(0,0,0,0.040)" stroke="rgba(25,25,25,0.56)" stroke-width="0.45" stroke-linejoin="round"/>
<polygon points="401.4,44.5 401.2,46.2 400.5,47.8 399.6,49.1 398.8,50.5 398.0,52.0 397.0,53.6 395.6,54.9 393.8,55.5 392.0,55.3 390.3,54.4 389.0,53.3 387.7,52.4 386.4,51.6 385.0,50.7 383.8,49.5 382.9,48.0 382.5,46.3 382.4,44.5 382.5,42.7 382.6,40.9 383.2,39.1 384.2,37.6 385.8,36.7 387.5,36.2 389.1,36.1 390.5,35.8 392.0,35.3 393.6,34.7 395.5,34.5 397.2,35.0 398.6,36.2 399.6,37.8 400.2,39.5 400.8,41.1 401.3,42.8" fill="rgba(0,0,0,0.050)" stroke="rgba(25,25,25,0.70)" stroke-width="0.45" stroke-linejoin="round"/>
<polygon points="399.9,44.5 400.1,46.0 399.9,47.5 399.3,48.9 398.4,50.2 397.4,51.3 396.3,52.4 395.0,53.3 393.5,53.7 392.0,53.6 390.6,52.9 389.4,52.0 388.3,51.2 387.2,50.6 385.8,50.0 384.5,49.1 383.5,47.8 383.1,46.2 383.3,44.5 383.7,43.0 384.3,41.5 384.9,40.2 385.7,38.9 386.7,37.9 388.0,37.2 389.3,36.8 390.7,36.5 392.0,36.1 393.5,35.7 395.1,35.5 396.7,36.0 397.8,37.2 398.5,38.7 398.9,40.3 399.1,41.8 399.5,43.1" fill="rgba(0,0,0,0.050)" stroke="rgba(25,25,25,0.70)" stroke-width="0.45" stroke-linejoin="round"/>
<polygon points="398.8,44.5 399.2,45.8 399.2,47.3 398.7,48.6 397.8,49.6 396.7,50.4 395.5,50.9 394.4,51.4 393.2,51.8 392.0,51.9 390.8,51.7 389.7,51.1 388.7,50.5 387.7,49.9 386.5,49.3 385.4,48.5 384.5,47.4 384.2,45.9 384.5,44.5 385.2,43.2 385.9,42.1 386.4,41.1 386.9,40.0 387.5,38.9 388.4,37.9 389.5,37.3 390.8,37.1 392.0,36.9 393.3,36.9 394.6,37.0 395.8,37.5 396.8,38.5 397.4,39.7 397.7,41.0 397.9,42.2 398.3,43.3" fill="rgba(0,0,0,0.050)" stroke="rgba(25,25,25,0.70)" stroke-width="0.45" stroke-linejoin="round"/>
<polygon points="397.9,44.5 398.2,45.6 398.2,46.9 397.7,48.0 396.9,48.8 395.8,49.3 394.8,49.5 393.8,49.8 393.0,50.2 392.0,50.6 391.0,50.7 389.9,50.5 389.0,50.0 388.2,49.3 387.3,48.6 386.6,47.8 386.0,46.8 385.8,45.7 386.0,44.5 386.5,43.5 387.0,42.6 387.4,41.7 387.8,40.8 388.2,39.7 388.8,38.7 389.8,38.1 390.9,37.9 392.0,38.1 393.0,38.4 394.0,38.7 394.9,39.1 395.8,39.7 396.4,40.6 396.9,41.5 397.2,42.5 397.5,43.5" fill="rgba(0,0,0,0.050)" stroke="rgba(25,25,25,0.70)" stroke-width="0.45" stroke-linejoin="round"/>
<polygon points="396.8,44.5 396.9,45.4 396.8,46.3 396.4,47.2 395.8,47.8 394.9,48.2 394.1,48.4 393.4,48.6 392.8,49.0 392.0,49.4 391.1,49.7 390.2,49.6 389.4,49.2 388.8,48.5 388.3,47.7 387.9,47.0 387.6,46.2 387.4,45.4 387.3,44.5 387.5,43.7 387.8,42.9 388.2,42.2 388.5,41.4 388.8,40.5 389.4,39.7 390.2,39.2 391.1,39.2 392.0,39.4 392.8,39.8 393.5,40.2 394.2,40.5 394.9,40.8 395.6,41.3 396.2,42.0 396.5,42.8 396.7,43.6" fill="rgba(0,0,0,0.050)" stroke="rgba(25,25,25,0.70)" stroke-width="0.45" stroke-linejoin="round"/>
<polygon points="395.6,44.5 395.5,45.1 395.3,45.8 395.1,46.4 394.7,46.9 394.2,47.3 393.7,47.5 393.1,47.8 392.6,48.0 392.0,48.3 391.3,48.5 390.6,48.4 390.0,48.1 389.6,47.5 389.4,46.8 389.2,46.2 389.0,45.7 388.7,45.1 388.5,44.5 388.4,43.8 388.6,43.2 388.9,42.6 389.2,42.1 389.6,41.5 390.1,41.0 390.7,40.7 391.4,40.6 392.0,40.8 392.6,41.1 393.1,41.4 393.6,41.6 394.2,41.7 394.8,42.0 395.4,42.5 395.7,43.1 395.7,43.8" fill="rgba(0,0,0,0.050)" stroke="rgba(25,25,25,0.70)" stroke-width="0.45" stroke-linejoin="round"/>
<polygon points="394.3,44.5 394.2,44.9 394.0,45.3 393.9,45.7 393.8,46.1 393.5,46.4 393.2,46.7 392.8,46.9 392.4,47.0 392.0,47.1 391.6,47.1 391.1,47.0 390.7,46.8 390.5,46.4 390.3,46.0 390.2,45.6 390.0,45.3 389.8,44.9 389.6,44.5 389.5,44.0 389.6,43.6 389.8,43.2 390.1,42.9 390.5,42.6 390.8,42.4 391.2,42.2 391.6,42.1 392.0,42.1 392.4,42.2 392.8,42.3 393.1,42.5 393.5,42.6 393.9,42.8 394.3,43.1 394.5,43.6 394.5,44.0" fill="rgba(0,0,0,0.050)" stroke="rgba(25,25,25,0.70)" stroke-width="0.45" stroke-linejoin="round"/>
<polygon points="394.7,41.5 394.6,42.2 394.5,43.0 394.4,43.8 394.2,44.6 393.7,45.4 393.0,45.8 392.1,45.9 391.3,45.8 390.5,45.6 389.8,45.5 389.1,45.5 388.3,45.3 387.6,45.0 387.0,44.4 386.6,43.8 386.2,43.1 385.9,42.3 385.7,41.5 385.7,40.7 386.1,39.9 386.6,39.3 387.3,38.8 387.9,38.5 388.5,38.0 389.0,37.4 389.7,36.9 390.5,36.6 391.4,36.7 392.1,37.0 392.8,37.5 393.4,38.1 393.9,38.6 394.4,39.3 394.7,40.0 394.8,40.7" fill="rgba(0,0,0,0.145)" stroke="rgba(25,25,25,0.95)" stroke-width="0.6" stroke-linejoin="round"/>
<polygon points="393.9,41.5 393.8,42.1 393.7,42.7 393.5,43.2 393.2,43.8 392.8,44.3 392.3,44.6 391.7,44.7 391.0,44.6 390.5,44.5 390.0,44.4 389.4,44.5 388.8,44.5 388.2,44.3 387.7,43.9 387.4,43.3 387.2,42.7 387.2,42.1 387.2,41.5 387.2,40.9 387.4,40.4 387.7,39.9 388.1,39.5 388.5,39.1 388.9,38.8 389.4,38.4 389.9,38.0 390.5,37.7 391.2,37.8 391.7,38.1 392.2,38.6 392.5,39.1 392.8,39.5 393.2,39.9 393.6,40.4 393.8,40.9" fill="rgba(0,0,0,0.145)" stroke="rgba(25,25,25,0.95)" stroke-width="0.6" stroke-linejoin="round"/>
<polygon points="393.0,41.5 392.9,41.9 392.7,42.3 392.5,42.6 392.2,42.9 391.9,43.2 391.6,43.4 391.3,43.6 390.9,43.6 390.5,43.6 390.1,43.6 389.8,43.6 389.3,43.5 388.9,43.4 388.6,43.1 388.4,42.7 388.4,42.3 388.4,41.9 388.5,41.5 388.5,41.1 388.5,40.8 388.6,40.4 388.8,40.0 389.0,39.8 389.4,39.5 389.7,39.3 390.1,39.2 390.5,39.1 390.9,39.1 391.3,39.3 391.6,39.6 391.8,40.0 392.0,40.2 392.3,40.5 392.6,40.7 392.8,41.1" fill="rgba(0,0,0,0.145)" stroke="rgba(25,25,25,0.95)" stroke-width="0.6" stroke-linejoin="round"/>
<polygon points="391.8,41.5 391.7,41.7 391.6,41.9 391.4,42.0 391.3,42.2 391.2,42.3 391.0,42.4 390.9,42.5 390.7,42.6 390.5,42.6 390.3,42.6 390.1,42.6 389.9,42.5 389.7,42.4 389.6,42.3 389.5,42.1 389.5,41.9 389.5,41.7 389.5,41.5 389.5,41.3 389.5,41.1 389.5,40.9 389.6,40.7 389.7,40.6 389.9,40.5 390.1,40.4 390.3,40.4 390.5,40.4 390.7,40.4 390.9,40.5 391.0,40.6 391.2,40.7 391.3,40.8 391.4,41.0 391.6,41.1 391.7,41.3" fill="rgba(0,0,0,0.145)" stroke="rgba(25,25,25,0.95)" stroke-width="0.6" stroke-linejoin="round"/>
</g>
<rect x="374.60" y="14.60" width="40.30" height="39.60" fill="none" stroke="#a4a4a4" stroke-width="0.75"/>
<text x="375.30" y="20.00" font-size="5.85" text-anchor="start" fill="#000" stroke="#000" stroke-width="0.1">13</text>
<text x="414.30" y="20.00" font-size="5.85" text-anchor="end" fill="#000" stroke="#000" stroke-width="0.1">4.09</text>
<text x="375.30" y="53.70" font-size="5.85" text-anchor="start" fill="#000" stroke="#000" stroke-width="0.1">76.3</text>
<text x="414.30" y="53.70" font-size="5.85" text-anchor="end" fill="#000" stroke="#000" stroke-width="0.1">6.56</text>
<line x1="369.00" y1="17.89" x2="372.60" y2="17.89" stroke="#8c8c8c" stroke-width="0.9"/>
<line x1="369.00" y1="27.27" x2="372.60" y2="27.27" stroke="#8c8c8c" stroke-width="0.9"/>
<line x1="369.60" y1="36.38" x2="372.60" y2="36.38" stroke="#8c8c8c" stroke-width="0.9"/>
<line x1="370.20" y1="45.88" x2="372.60" y2="45.88" stroke="#8c8c8c" stroke-width="0.9"/>
<line x1="372.40" y1="49.05" x2="372.40" y2="50.64" stroke="#999" stroke-width="0.7"/>
<line x1="378.63" y1="57.10" x2="380.24" y2="57.10" stroke="#a0a0a0" stroke-width="0.9"/>
<line x1="381.85" y1="57.10" x2="384.27" y2="57.10" stroke="#a0a0a0" stroke-width="0.9"/>
<line x1="391.93" y1="57.10" x2="395.56" y2="57.10" stroke="#a0a0a0" stroke-width="0.9"/>
<line x1="399.99" y1="57.10" x2="404.42" y2="57.10" stroke="#a0a0a0" stroke-width="0.9"/>
<line x1="408.45" y1="57.10" x2="412.48" y2="57.10" stroke="#a0a0a0" stroke-width="0.9"/>
<clipPath id="cb14"><rect x="425.50" y="14.60" width="39.50" height="39.60"/></clipPath>
<line x1="448.00" y1="14.60" x2="448.00" y2="54.20" stroke="#b4b4b4" stroke-width="0.8"/>
<line x1="425.50" y1="39.00" x2="465.00" y2="39.00" stroke="#ccc" stroke-width="1.1"/>
<g clip-path="url(#cb14)">
<polygon points="451.5,31.0 451.3,32.8 451.0,34.5 450.4,35.9 449.9,37.2 449.4,38.7 448.8,40.3 448.0,41.7 447.1,42.6 446.0,42.5 445.0,41.7 444.2,40.5 443.5,39.3 442.8,38.3 442.0,37.4 441.3,36.2 440.8,34.6 440.5,32.8 440.5,31.0 440.5,29.2 440.6,27.3 440.9,25.4 441.5,23.8 442.3,22.6 443.3,22.1 444.3,22.0 445.2,21.9 446.0,21.5 446.9,21.0 448.0,20.7 449.0,21.1 449.8,22.2 450.4,23.9 450.8,25.7 451.1,27.5 451.3,29.2" fill="rgba(0,0,0,0.045)" stroke="rgba(25,25,25,0.63)" stroke-width="0.45" stroke-linejoin="round"/>
<polygon points="450.4,31.0 450.5,32.5 450.4,34.1 450.1,35.5 449.6,36.8 449.0,37.9 448.4,38.9 447.7,39.9 446.9,40.4 446.0,40.4 445.2,39.8 444.5,38.8 443.9,37.8 443.3,37.1 442.6,36.4 441.9,35.6 441.3,34.3 441.0,32.7 441.0,31.0 441.3,29.4 441.6,28.0 442.0,26.6 442.5,25.3 443.0,24.2 443.7,23.5 444.5,23.1 445.2,22.9 446.0,22.6 446.8,22.2 447.7,22.0 448.6,22.4 449.3,23.4 449.8,25.0 450.0,26.6 450.0,28.2 450.2,29.6" fill="rgba(0,0,0,0.045)" stroke="rgba(25,25,25,0.63)" stroke-width="0.45" stroke-linejoin="round"/>
<polygon points="449.6,31.0 449.8,32.3 449.9,33.7 449.6,35.0 449.2,36.1 448.6,36.8 447.9,37.4 447.3,37.8 446.7,38.2 446.0,38.3 445.3,38.1 444.7,37.6 444.2,36.9 443.7,36.3 443.1,35.6 442.5,34.9 442.0,33.8 441.8,32.4 441.9,31.0 442.2,29.7 442.6,28.7 443.0,27.7 443.3,26.6 443.6,25.6 444.1,24.6 444.7,24.0 445.3,23.7 446.0,23.6 446.7,23.6 447.4,23.7 448.1,24.2 448.6,25.0 449.0,26.2 449.2,27.5 449.2,28.8 449.3,29.9" fill="rgba(0,0,0,0.045)" stroke="rgba(25,25,25,0.63)" stroke-width="0.45" stroke-linejoin="round"/>
<polygon points="448.9,31.0 449.1,32.0 449.1,33.2 448.9,34.2 448.5,35.0 448.0,35.5 447.4,35.7 446.9,35.9 446.5,36.2 446.0,36.5 445.5,36.6 445.0,36.5 444.5,36.1 444.0,35.5 443.6,34.8 443.3,34.0 443.0,33.1 442.8,32.1 442.9,31.0 443.1,30.0 443.4,29.2 443.7,28.5 443.9,27.6 444.1,26.7 444.4,25.7 444.9,25.1 445.4,24.8 446.0,24.9 446.5,25.3 447.0,25.7 447.5,26.1 447.9,26.6 448.3,27.3 448.5,28.2 448.6,29.2 448.8,30.1" fill="rgba(0,0,0,0.045)" stroke="rgba(25,25,25,0.63)" stroke-width="0.45" stroke-linejoin="round"/>
<polygon points="448.2,31.0 448.2,31.8 448.2,32.5 448.0,33.3 447.8,33.8 447.4,34.2 447.0,34.4 446.7,34.5 446.3,34.7 446.0,35.0 445.6,35.3 445.2,35.3 444.8,35.0 444.5,34.4 444.3,33.7 444.1,33.1 444.0,32.4 443.9,31.7 443.8,31.0 443.9,30.3 444.1,29.7 444.2,29.1 444.4,28.4 444.6,27.8 444.8,27.1 445.2,26.6 445.6,26.4 446.0,26.6 446.4,27.0 446.7,27.4 447.0,27.7 447.3,28.0 447.7,28.3 447.9,28.9 448.1,29.5 448.2,30.3" fill="rgba(0,0,0,0.045)" stroke="rgba(25,25,25,0.63)" stroke-width="0.45" stroke-linejoin="round"/>
<polygon points="447.4,31.0 447.3,31.5 447.3,31.9 447.2,32.3 447.0,32.7 446.9,33.0 446.7,33.2 446.4,33.3 446.2,33.4 446.0,33.6 445.7,33.7 445.5,33.7 445.2,33.5 445.1,33.1 445.0,32.7 444.9,32.2 444.8,31.8 444.7,31.4 444.7,31.0 444.6,30.5 444.7,30.1 444.8,29.7 444.9,29.3 445.1,28.9 445.3,28.6 445.5,28.4 445.7,28.3 446.0,28.4 446.2,28.6 446.4,28.8 446.6,29.0 446.8,29.1 447.1,29.3 447.3,29.6 447.4,30.0 447.5,30.5" fill="rgba(0,0,0,0.045)" stroke="rgba(25,25,25,0.63)" stroke-width="0.45" stroke-linejoin="round"/>
<polygon points="453.8,45.0 453.3,46.4 452.9,47.9 452.5,49.4 451.9,51.1 450.6,52.6 448.5,53.7 445.9,54.0 443.3,53.8 441.0,53.4 438.9,53.0 436.7,52.8 434.5,52.5 432.3,51.9 430.5,50.9 429.2,49.5 428.2,48.1 427.4,46.6 426.8,45.0 426.7,43.3 427.5,41.7 429.1,40.4 431.2,39.5 433.3,38.9 435.0,38.1 436.7,37.1 438.6,36.1 441.0,35.4 443.6,35.3 446.0,35.9 448.0,37.0 449.7,38.1 451.2,39.3 452.6,40.5 453.6,41.9 454.0,43.5" fill="rgba(0,0,0,0.050)" stroke="rgba(25,25,25,0.70)" stroke-width="0.45" stroke-linejoin="round"/>
<polygon points="453.0,45.0 452.8,46.4 452.2,47.7 451.4,49.0 450.5,50.3 449.1,51.5 447.3,52.3 445.2,52.6 443.0,52.5 441.0,52.1 439.2,51.8 437.3,51.8 435.2,51.7 433.0,51.4 431.1,50.5 429.9,49.3 429.4,47.8 429.3,46.4 429.3,45.0 429.5,43.6 430.0,42.3 430.9,41.1 432.4,40.2 434.0,39.4 435.5,38.7 437.1,37.8 438.9,37.0 441.0,36.4 443.3,36.3 445.4,37.0 447.0,38.1 448.2,39.3 449.2,40.4 450.4,41.4 451.6,42.4 452.6,43.6" fill="rgba(0,0,0,0.050)" stroke="rgba(25,25,25,0.70)" stroke-width="0.45" stroke-linejoin="round"/>
<polygon points="452.0,45.0 451.9,46.3 451.0,47.4 449.9,48.4 448.7,49.3 447.4,50.1 446.0,50.8 444.4,51.3 442.7,51.4 441.0,51.3 439.4,51.1 437.7,51.0 435.9,50.9 434.0,50.6 432.3,49.9 431.4,48.7 431.1,47.4 431.4,46.1 431.7,45.0 431.9,43.9 432.0,42.8 432.4,41.7 433.2,40.6 434.4,39.8 435.9,39.1 437.5,38.6 439.2,38.1 441.0,37.8 442.9,37.8 444.6,38.4 446.0,39.2 447.0,40.3 447.8,41.2 448.9,42.0 450.2,42.8 451.3,43.8" fill="rgba(0,0,0,0.050)" stroke="rgba(25,25,25,0.70)" stroke-width="0.45" stroke-linejoin="round"/>
<polygon points="450.4,45.0 450.2,46.1 449.4,47.0 448.2,47.8 447.0,48.3 445.9,48.9 444.9,49.5 443.8,50.2 442.5,50.6 441.0,50.7 439.5,50.6 438.1,50.3 436.7,50.0 435.3,49.6 434.0,48.9 433.3,48.0 433.0,46.9 433.2,45.9 433.5,45.0 433.6,44.1 433.5,43.2 433.6,42.1 434.0,41.1 435.1,40.3 436.5,39.8 438.0,39.6 439.5,39.5 441.0,39.5 442.5,39.5 443.9,39.8 445.1,40.3 446.1,40.9 447.0,41.7 447.9,42.4 448.9,43.1 449.9,44.0" fill="rgba(0,0,0,0.050)" stroke="rgba(25,25,25,0.70)" stroke-width="0.45" stroke-linejoin="round"/>
<polygon points="448.2,45.0 448.1,45.8 447.5,46.6 446.6,47.1 445.6,47.6 444.8,48.0 444.1,48.6 443.3,49.2 442.2,49.7 441.0,49.9 439.7,49.8 438.6,49.4 437.6,48.9 436.7,48.4 435.9,47.9 435.2,47.2 434.8,46.5 434.7,45.7 434.7,45.0 434.8,44.3 434.8,43.5 434.9,42.6 435.3,41.8 436.2,41.1 437.4,40.8 438.7,40.8 439.9,40.8 441.0,40.9 442.1,40.9 443.2,40.9 444.4,41.1 445.4,41.5 446.2,42.1 446.9,42.7 447.5,43.4 448.0,44.2" fill="rgba(0,0,0,0.050)" stroke="rgba(25,25,25,0.70)" stroke-width="0.45" stroke-linejoin="round"/>
<polygon points="446.0,45.0 446.0,45.6 445.7,46.1 445.2,46.6 444.6,47.0 444.0,47.4 443.4,47.8 442.8,48.3 442.0,48.6 441.0,48.8 440.0,48.6 439.2,48.3 438.6,47.8 438.0,47.4 437.5,47.0 436.8,46.6 436.3,46.1 436.0,45.6 435.9,45.0 436.0,44.4 436.2,43.8 436.4,43.2 436.9,42.7 437.5,42.2 438.4,42.0 439.3,41.9 440.2,42.0 441.0,42.0 441.8,42.0 442.7,41.9 443.6,41.9 444.5,42.2 445.2,42.6 445.6,43.2 445.8,43.8 445.9,44.4" fill="rgba(0,0,0,0.050)" stroke="rgba(25,25,25,0.70)" stroke-width="0.45" stroke-linejoin="round"/>
<polygon points="444.1,45.0 444.1,45.4 444.1,45.8 443.9,46.1 443.6,46.5 443.2,46.7 442.7,47.0 442.2,47.2 441.6,47.4 441.0,47.4 440.4,47.3 439.9,47.1 439.4,46.8 439.1,46.5 438.7,46.3 438.2,46.1 437.7,45.8 437.4,45.4 437.3,45.0 437.5,44.6 437.8,44.2 438.1,43.9 438.5,43.6 438.8,43.3 439.3,43.1 439.9,43.0 440.4,42.9 441.0,42.9 441.6,42.9 442.2,42.9 442.8,42.9 443.4,43.1 443.9,43.4 444.1,43.8 444.1,44.3 444.1,44.6" fill="rgba(0,0,0,0.050)" stroke="rgba(25,25,25,0.70)" stroke-width="0.45" stroke-linejoin="round"/>
<polygon points="449.9,44.0 450.0,45.6 450.1,47.3 449.9,49.0 449.5,50.3 449.0,51.1 448.4,51.5 447.9,51.7 447.5,52.1 447.0,52.5 446.5,52.8 446.0,52.5 445.5,51.9 445.1,50.9 444.7,49.9 444.3,48.7 444.0,47.3 443.8,45.7 443.9,44.0 444.1,42.5 444.4,41.2 444.7,40.0 444.9,38.8 445.1,37.3 445.4,35.9 445.9,34.8 446.4,34.4 447.0,34.5 447.5,35.0 448.0,35.6 448.5,36.3 448.9,37.1 449.3,38.3 449.5,39.7 449.6,41.1 449.7,42.6" fill="rgba(0,0,0,0.145)" stroke="rgba(25,25,25,0.95)" stroke-width="0.6" stroke-linejoin="round"/>
<polygon points="449.3,44.0 449.3,45.2 449.2,46.5 449.1,47.6 448.8,48.6 448.4,49.2 448.0,49.4 447.7,49.6 447.3,49.9 447.0,50.4 446.6,50.8 446.2,50.8 445.8,50.4 445.5,49.5 445.2,48.4 445.1,47.4 444.9,46.3 444.8,45.2 444.8,44.0 444.9,42.9 445.0,41.8 445.2,40.9 445.4,39.9 445.6,38.8 445.8,37.7 446.1,36.9 446.6,36.6 447.0,36.9 447.4,37.5 447.7,38.2 448.0,38.7 448.4,39.2 448.7,39.8 449.0,40.6 449.1,41.7 449.2,42.8" fill="rgba(0,0,0,0.145)" stroke="rgba(25,25,25,0.95)" stroke-width="0.6" stroke-linejoin="round"/>
<polygon points="448.6,44.0 448.5,44.8 448.4,45.5 448.3,46.2 448.1,46.9 447.9,47.4 447.7,47.7 447.5,47.9 447.2,48.1 447.0,48.4 446.7,48.7 446.4,48.7 446.2,48.4 446.0,47.7 445.9,46.9 445.8,46.1 445.7,45.4 445.6,44.7 445.6,44.0 445.5,43.2 445.6,42.4 445.7,41.7 445.8,41.1 446.0,40.5 446.2,39.9 446.4,39.4 446.7,39.3 447.0,39.4 447.2,39.8 447.5,40.2 447.7,40.6 447.9,40.8 448.2,41.1 448.4,41.6 448.5,42.3 448.6,43.2" fill="rgba(0,0,0,0.145)" stroke="rgba(25,25,25,0.95)" stroke-width="0.6" stroke-linejoin="round"/>
<polygon points="447.8,44.0 447.7,44.4 447.6,44.7 447.6,45.0 447.5,45.4 447.5,45.7 447.4,46.0 447.3,46.1 447.1,46.2 447.0,46.3 446.9,46.3 446.7,46.3 446.6,46.1 446.5,45.8 446.4,45.4 446.4,45.0 446.4,44.7 446.3,44.4 446.3,44.0 446.2,43.6 446.2,43.2 446.3,42.8 446.4,42.5 446.5,42.3 446.6,42.1 446.7,41.9 446.9,41.8 447.0,41.8 447.1,41.9 447.2,42.0 447.3,42.2 447.5,42.3 447.6,42.5 447.7,42.8 447.8,43.1 447.8,43.6" fill="rgba(0,0,0,0.145)" stroke="rgba(25,25,25,0.95)" stroke-width="0.6" stroke-linejoin="round"/>
</g>
<rect x="425.50" y="14.60" width="39.50" height="39.60" fill="none" stroke="#a4a4a4" stroke-width="0.75"/>
<text x="426.20" y="20.00" font-size="5.85" text-anchor="start" fill="#000" stroke="#000" stroke-width="0.1">18.8</text>
<text x="464.40" y="20.00" font-size="5.85" text-anchor="end" fill="#000" stroke="#000" stroke-width="0.1">2.38</text>
<text x="426.20" y="53.70" font-size="5.85" text-anchor="start" fill="#000" stroke="#000" stroke-width="0.1">76.1</text>
<text x="464.40" y="53.70" font-size="5.85" text-anchor="end" fill="#000" stroke="#000" stroke-width="0.1">2.74</text>
<line x1="419.90" y1="17.89" x2="423.50" y2="17.89" stroke="#8c8c8c" stroke-width="0.9"/>
<line x1="419.90" y1="27.27" x2="423.50" y2="27.27" stroke="#8c8c8c" stroke-width="0.9"/>
<line x1="420.50" y1="36.38" x2="423.50" y2="36.38" stroke="#8c8c8c" stroke-width="0.9"/>
<line x1="421.10" y1="45.88" x2="423.50" y2="45.88" stroke="#8c8c8c" stroke-width="0.9"/>
<line x1="423.30" y1="49.05" x2="423.30" y2="50.64" stroke="#999" stroke-width="0.7"/>
<line x1="429.45" y1="57.10" x2="431.03" y2="57.10" stroke="#a0a0a0" stroke-width="0.9"/>
<line x1="432.61" y1="57.10" x2="434.98" y2="57.10" stroke="#a0a0a0" stroke-width="0.9"/>
<line x1="442.49" y1="57.10" x2="446.04" y2="57.10" stroke="#a0a0a0" stroke-width="0.9"/>
<line x1="450.38" y1="57.10" x2="454.73" y2="57.10" stroke="#a0a0a0" stroke-width="0.9"/>
<line x1="458.68" y1="57.10" x2="462.63" y2="57.10" stroke="#a0a0a0" stroke-width="0.9"/>
<clipPath id="cb21"><rect x="273.90" y="60.40" width="39.60" height="39.80"/></clipPath>
<line x1="291.40" y1="60.40" x2="291.40" y2="100.20" stroke="#b4b4b4" stroke-width="0.8"/>
<line x1="273.90" y1="85.80" x2="313.50" y2="85.80" stroke="#ccc" stroke-width="1.1"/>
<g clip-path="url(#cb21)">
<polygon points="303.8,92.2 303.1,94.3 302.0,95.5 300.9,96.4 299.8,97.2 298.5,97.9 296.7,98.4 294.5,98.7 291.9,98.7 288.0,98.7 284.0,98.8 281.1,99.0 278.4,99.1 276.2,98.7 274.8,97.8 274.5,96.6 274.7,95.3 274.9,94.0 274.8,92.2 274.5,90.3 274.3,89.0 274.7,87.9 275.8,87.0 277.3,86.4 279.0,85.8 281.0,85.3 283.6,84.8 288.0,84.7 292.3,85.0 294.6,85.6 296.1,86.4 297.3,87.1 298.8,87.6 300.6,88.1 302.5,88.8 303.6,90.0" fill="rgba(0,0,0,0.050)" stroke="rgba(25,25,25,0.70)" stroke-width="0.45" stroke-linejoin="round"/>
<polygon points="302.1,92.2 301.2,94.0 299.9,95.0 298.5,95.6 297.5,96.2 296.6,96.9 295.6,97.6 294.0,98.1 291.7,98.4 288.0,98.4 284.3,98.3 281.9,98.2 279.8,98.0 278.1,97.6 276.9,96.9 276.6,95.9 276.7,94.9 276.9,93.8 276.7,92.2 276.1,90.5 275.6,89.3 275.6,88.2 276.5,87.3 278.1,86.8 280.1,86.5 282.2,86.4 284.4,86.3 288.0,86.2 291.6,86.2 293.7,86.5 295.3,87.0 296.6,87.5 297.9,88.0 299.4,88.5 301.0,89.2 302.0,90.2" fill="rgba(0,0,0,0.050)" stroke="rgba(25,25,25,0.70)" stroke-width="0.45" stroke-linejoin="round"/>
<polygon points="299.6,92.2 299.0,93.7 297.9,94.5 296.8,95.1 295.9,95.6 295.3,96.2 294.6,96.9 293.4,97.6 291.4,97.9 288.0,97.9 284.8,97.6 283.0,97.2 281.5,96.8 280.2,96.5 279.1,96.0 278.4,95.3 278.1,94.5 278.0,93.6 277.8,92.2 277.4,90.7 277.1,89.6 277.2,88.7 278.0,87.9 279.5,87.5 281.4,87.5 283.3,87.5 285.2,87.5 288.0,87.4 291.0,87.2 293.1,87.2 294.8,87.4 296.1,87.8 297.1,88.3 298.0,88.9 298.9,89.6 299.5,90.6" fill="rgba(0,0,0,0.050)" stroke="rgba(25,25,25,0.70)" stroke-width="0.45" stroke-linejoin="round"/>
<polygon points="297.0,92.2 296.8,93.4 296.3,94.2 295.6,94.7 295.0,95.2 294.4,95.7 293.7,96.3 292.6,96.8 290.9,97.0 288.0,97.0 285.3,96.6 284.0,96.2 283.0,95.8 282.0,95.5 280.9,95.2 279.9,94.8 279.2,94.3 278.9,93.5 278.8,92.2 278.9,90.9 279.0,90.1 279.3,89.4 280.0,88.8 281.2,88.5 282.6,88.4 284.2,88.4 285.7,88.4 288.0,88.2 290.5,88.0 292.4,87.8 294.0,87.9 295.2,88.3 295.9,88.9 296.2,89.5 296.5,90.2 296.8,91.0" fill="rgba(0,0,0,0.050)" stroke="rgba(25,25,25,0.70)" stroke-width="0.45" stroke-linejoin="round"/>
<polygon points="294.8,92.2 295.0,93.2 295.0,93.8 294.7,94.4 294.1,94.8 293.4,95.1 292.6,95.5 291.6,95.7 290.2,95.9 288.0,95.9 285.9,95.6 284.9,95.3 284.1,95.0 283.3,94.8 282.3,94.6 281.2,94.4 280.5,94.0 280.2,93.3 280.3,92.2 280.7,91.2 281.2,90.6 281.6,90.1 282.1,89.7 282.8,89.3 283.7,89.1 284.8,89.0 286.1,89.0 288.0,88.9 290.1,88.7 291.6,88.6 292.9,88.7 293.8,89.0 294.3,89.5 294.3,90.1 294.3,90.7 294.5,91.3" fill="rgba(0,0,0,0.050)" stroke="rgba(25,25,25,0.70)" stroke-width="0.45" stroke-linejoin="round"/>
<polygon points="293.1,92.2 293.4,93.0 293.6,93.5 293.4,94.0 292.8,94.3 292.1,94.4 291.3,94.6 290.5,94.7 289.5,94.8 288.0,94.8 286.5,94.7 285.6,94.6 284.9,94.4 284.3,94.2 283.5,94.1 282.8,93.9 282.2,93.6 282.0,93.0 282.2,92.2 282.7,91.5 283.2,91.1 283.6,90.8 283.8,90.4 284.2,90.1 284.7,89.8 285.4,89.6 286.4,89.6 288.0,89.5 289.6,89.5 290.7,89.6 291.5,89.7 292.2,89.9 292.5,90.3 292.6,90.7 292.6,91.1 292.8,91.5" fill="rgba(0,0,0,0.050)" stroke="rgba(25,25,25,0.70)" stroke-width="0.45" stroke-linejoin="round"/>
<polygon points="291.5,92.2 291.7,92.7 291.8,93.1 291.7,93.4 291.2,93.6 290.7,93.7 290.1,93.7 289.5,93.7 289.0,93.8 288.0,93.9 287.0,93.9 286.3,93.9 285.8,93.8 285.3,93.7 284.9,93.5 284.6,93.3 284.3,93.1 284.2,92.7 284.3,92.2 284.6,91.7 284.9,91.5 285.1,91.3 285.3,91.0 285.4,90.8 285.7,90.5 286.2,90.4 286.9,90.3 288.0,90.4 289.0,90.5 289.7,90.6 290.2,90.6 290.6,90.8 290.9,90.9 291.1,91.2 291.2,91.4 291.3,91.7" fill="rgba(0,0,0,0.050)" stroke="rgba(25,25,25,0.70)" stroke-width="0.45" stroke-linejoin="round"/>
<polygon points="291.5,88.0 291.3,88.4 291.0,88.8 290.6,89.1 289.9,89.4 289.0,89.7 288.0,89.8 287.1,90.0 286.1,90.2 285.0,90.4 283.7,90.5 282.5,90.4 281.5,90.1 280.8,89.8 280.4,89.4 279.9,89.0 279.4,88.7 278.8,88.4 278.5,88.0 278.5,87.6 278.8,87.2 279.3,86.8 279.9,86.5 280.6,86.1 281.5,85.9 282.6,85.7 283.9,85.7 285.0,85.8 286.0,86.0 287.0,86.1 288.0,86.1 289.2,86.2 290.3,86.4 291.2,86.7 291.6,87.2 291.6,87.6" fill="rgba(0,0,0,0.153)" stroke="rgba(25,25,25,0.95)" stroke-width="0.6" stroke-linejoin="round"/>
<polygon points="289.6,88.0 289.4,88.3 289.2,88.5 289.0,88.8 288.7,89.1 288.2,89.3 287.5,89.5 286.7,89.6 285.9,89.7 285.0,89.8 284.1,89.8 283.2,89.7 282.5,89.5 282.0,89.3 281.6,89.0 281.3,88.8 280.8,88.5 280.3,88.3 279.9,88.0 279.8,87.7 280.0,87.4 280.6,87.1 281.3,86.9 281.9,86.7 282.6,86.5 283.3,86.4 284.2,86.3 285.0,86.3 285.8,86.4 286.6,86.5 287.4,86.6 288.2,86.6 289.1,86.8 289.7,87.0 290.0,87.4 289.9,87.7" fill="rgba(0,0,0,0.153)" stroke="rgba(25,25,25,0.95)" stroke-width="0.6" stroke-linejoin="round"/>
<polygon points="288.0,88.0 287.8,88.2 287.7,88.4 287.7,88.6 287.6,88.8 287.3,89.0 286.8,89.1 286.2,89.1 285.6,89.1 285.0,89.1 284.4,89.1 283.9,89.1 283.4,89.0 283.0,88.9 282.7,88.7 282.4,88.5 282.1,88.4 281.7,88.2 281.5,88.0 281.4,87.8 281.6,87.6 282.1,87.4 282.6,87.3 283.1,87.2 283.5,87.1 284.0,87.0 284.4,86.9 285.0,86.8 285.6,86.8 286.1,86.9 286.6,87.0 287.2,87.1 287.6,87.2 288.0,87.4 288.2,87.6 288.2,87.8" fill="rgba(0,0,0,0.153)" stroke="rgba(25,25,25,0.95)" stroke-width="0.6" stroke-linejoin="round"/>
<polygon points="286.5,88.0 286.5,88.1 286.4,88.2 286.4,88.3 286.3,88.4 286.2,88.5 285.9,88.6 285.6,88.6 285.3,88.6 285.0,88.5 284.7,88.5 284.5,88.5 284.2,88.5 283.9,88.4 283.7,88.4 283.6,88.3 283.5,88.2 283.4,88.1 283.3,88.0 283.3,87.9 283.4,87.8 283.6,87.7 283.8,87.7 284.1,87.6 284.3,87.6 284.5,87.5 284.7,87.4 285.0,87.4 285.3,87.4 285.6,87.4 285.8,87.5 286.0,87.6 286.2,87.6 286.4,87.7 286.5,87.8 286.6,87.9" fill="rgba(0,0,0,0.153)" stroke="rgba(25,25,25,0.95)" stroke-width="0.6" stroke-linejoin="round"/>
<rect x="273.90" y="85.00" width="1.4" height="14.00" fill="#3a3a3a"/>
</g>
<rect x="273.90" y="60.40" width="39.60" height="39.80" fill="none" stroke="#a4a4a4" stroke-width="0.75"/>
<text x="274.60" y="65.80" font-size="5.85" text-anchor="start" fill="#000" stroke="#000" stroke-width="0.1">1.25</text>
<text x="312.90" y="65.80" font-size="5.85" text-anchor="end" fill="#000" stroke="#000" stroke-width="0.1">0.28</text>
<text x="274.60" y="99.70" font-size="5.85" text-anchor="start" fill="#000" stroke="#000" stroke-width="0.1">76.6</text>
<text x="312.90" y="99.70" font-size="5.85" text-anchor="end" fill="#000" stroke="#000" stroke-width="0.1">21.9</text>
<line x1="268.30" y1="63.70" x2="271.90" y2="63.70" stroke="#8c8c8c" stroke-width="0.9"/>
<line x1="268.30" y1="73.14" x2="271.90" y2="73.14" stroke="#8c8c8c" stroke-width="0.9"/>
<line x1="268.90" y1="82.29" x2="271.90" y2="82.29" stroke="#8c8c8c" stroke-width="0.9"/>
<line x1="269.50" y1="91.84" x2="271.90" y2="91.84" stroke="#8c8c8c" stroke-width="0.9"/>
<line x1="271.70" y1="95.03" x2="271.70" y2="96.62" stroke="#999" stroke-width="0.7"/>
<line x1="277.86" y1="103.10" x2="279.44" y2="103.10" stroke="#a0a0a0" stroke-width="0.9"/>
<line x1="281.03" y1="103.10" x2="283.40" y2="103.10" stroke="#a0a0a0" stroke-width="0.9"/>
<line x1="290.93" y1="103.10" x2="294.49" y2="103.10" stroke="#a0a0a0" stroke-width="0.9"/>
<line x1="298.85" y1="103.10" x2="303.20" y2="103.10" stroke="#a0a0a0" stroke-width="0.9"/>
<line x1="307.16" y1="103.10" x2="311.12" y2="103.10" stroke="#a0a0a0" stroke-width="0.9"/>
<clipPath id="cb22"><rect x="323.90" y="60.40" width="39.90" height="39.80"/></clipPath>
<line x1="342.70" y1="60.40" x2="342.70" y2="100.20" stroke="#b4b4b4" stroke-width="0.8"/>
<line x1="323.90" y1="85.00" x2="363.80" y2="85.00" stroke="#ccc" stroke-width="1.1"/>
<g clip-path="url(#cb22)">
<polygon points="352.6,91.0 352.1,93.3 351.7,94.7 351.1,95.8 350.0,96.7 348.5,97.3 346.7,97.7 344.8,98.1 342.7,98.6 339.0,99.2 334.8,99.7 332.0,99.6 330.0,98.9 328.9,97.8 328.4,96.5 327.9,95.4 327.2,94.4 326.3,93.2 325.6,91.0 325.4,88.7 325.9,87.2 326.7,86.1 327.7,85.1 328.8,84.1 330.2,83.3 332.3,82.8 335.0,82.8 339.0,83.2 342.5,83.8 344.5,84.3 346.5,84.4 348.6,84.5 350.7,84.9 352.3,85.7 353.0,87.0 353.0,88.6" fill="rgba(0,0,0,0.050)" stroke="rgba(25,25,25,0.70)" stroke-width="0.45" stroke-linejoin="round"/>
<polygon points="350.4,91.0 349.7,92.8 349.3,94.0 349.0,95.0 348.6,96.0 347.7,96.9 346.3,97.4 344.5,97.8 342.4,98.0 339.0,98.2 335.4,98.3 333.1,98.2 331.4,97.6 330.5,96.7 330.0,95.7 329.6,94.8 328.9,93.9 327.8,92.9 326.8,91.0 326.3,88.8 326.7,87.4 327.7,86.5 329.1,85.8 330.5,85.3 331.9,84.8 333.6,84.4 335.7,84.2 339.0,84.2 342.2,84.5 344.1,84.8 345.8,85.0 347.7,85.2 349.5,85.5 350.9,86.2 351.5,87.4 351.2,88.9" fill="rgba(0,0,0,0.050)" stroke="rgba(25,25,25,0.70)" stroke-width="0.45" stroke-linejoin="round"/>
<polygon points="348.5,91.0 347.9,92.5 347.6,93.5 347.5,94.4 347.5,95.4 346.9,96.3 345.8,96.9 344.0,97.2 342.0,97.1 339.0,97.0 336.2,96.8 334.4,96.7 332.9,96.4 331.8,95.8 331.1,95.1 330.5,94.4 329.9,93.6 329.1,92.7 328.3,91.0 327.9,89.1 328.2,87.9 329.3,87.1 330.7,86.7 332.2,86.4 333.4,86.1 334.6,85.7 336.2,85.2 339.0,85.0 342.0,85.0 343.8,85.2 345.2,85.5 346.6,85.9 347.8,86.4 348.8,87.1 349.3,88.0 349.1,89.3" fill="rgba(0,0,0,0.050)" stroke="rgba(25,25,25,0.70)" stroke-width="0.45" stroke-linejoin="round"/>
<polygon points="347.1,91.0 346.8,92.3 346.5,93.2 346.4,94.0 346.3,94.8 345.8,95.5 344.8,96.0 343.2,96.2 341.4,96.0 339.0,95.7 336.8,95.5 335.4,95.4 334.1,95.3 332.9,95.1 331.9,94.7 331.3,94.1 330.9,93.3 330.5,92.5 330.2,91.0 330.1,89.5 330.4,88.5 331.2,87.9 332.3,87.5 333.5,87.3 334.5,87.0 335.4,86.6 336.6,86.1 339.0,85.7 341.6,85.6 343.2,85.8 344.4,86.3 345.2,86.9 345.9,87.4 346.5,88.0 347.0,88.7 347.2,89.6" fill="rgba(0,0,0,0.050)" stroke="rgba(25,25,25,0.70)" stroke-width="0.45" stroke-linejoin="round"/>
<polygon points="345.8,91.0 345.8,92.2 345.5,92.9 345.2,93.5 344.8,94.0 344.2,94.5 343.4,94.9 342.3,95.0 340.9,94.9 339.0,94.7 337.3,94.5 336.2,94.5 335.0,94.5 333.9,94.4 332.9,94.2 332.4,93.7 332.2,93.0 332.2,92.2 332.3,91.0 332.4,89.9 332.6,89.2 333.0,88.6 333.6,88.2 334.4,87.9 335.2,87.6 336.0,87.3 337.0,87.0 339.0,86.7 341.2,86.6 342.4,86.8 343.2,87.3 343.7,87.8 344.1,88.3 344.5,88.8 345.1,89.2 345.6,89.9" fill="rgba(0,0,0,0.050)" stroke="rgba(25,25,25,0.70)" stroke-width="0.45" stroke-linejoin="round"/>
<polygon points="344.5,91.0 344.5,91.9 344.2,92.5 343.7,92.9 343.1,93.2 342.6,93.4 342.0,93.7 341.3,93.8 340.4,93.9 339.0,93.8 337.7,93.8 336.8,93.7 335.9,93.7 335.1,93.7 334.3,93.4 333.9,93.0 333.9,92.5 334.1,91.8 334.3,91.0 334.5,90.2 334.5,89.7 334.5,89.2 334.8,88.8 335.2,88.5 335.9,88.3 336.6,88.1 337.5,88.0 339.0,87.8 340.6,87.8 341.5,88.0 342.1,88.3 342.4,88.7 342.7,89.1 343.1,89.4 343.6,89.7 344.1,90.1" fill="rgba(0,0,0,0.050)" stroke="rgba(25,25,25,0.70)" stroke-width="0.45" stroke-linejoin="round"/>
<polygon points="342.7,91.0 342.7,91.6 342.5,92.0 342.0,92.2 341.6,92.4 341.2,92.5 340.9,92.7 340.5,92.8 340.0,93.0 339.0,93.0 338.0,93.0 337.4,92.9 336.9,92.8 336.4,92.7 336.0,92.6 335.8,92.3 335.7,91.9 335.8,91.5 336.0,91.0 336.0,90.5 336.0,90.1 336.0,89.8 336.0,89.4 336.3,89.2 336.8,89.1 337.4,89.0 338.0,89.0 339.0,89.0 340.0,89.1 340.6,89.1 341.0,89.2 341.3,89.4 341.6,89.6 341.9,89.9 342.2,90.1 342.5,90.4" fill="rgba(0,0,0,0.050)" stroke="rgba(25,25,25,0.70)" stroke-width="0.45" stroke-linejoin="round"/>
<polygon points="344.9,88.5 344.8,89.1 344.4,89.7 343.7,90.2 343.0,90.6 342.2,91.0 341.5,91.5 340.6,92.0 339.4,92.3 338.0,92.4 336.7,92.1 335.6,91.7 334.8,91.3 333.9,90.9 333.0,90.6 332.1,90.2 331.4,89.7 331.0,89.1 330.9,88.5 331.0,87.9 331.2,87.3 331.6,86.7 332.2,86.1 333.2,85.7 334.5,85.5 335.8,85.4 336.9,85.4 338.0,85.4 339.1,85.3 340.4,85.2 341.8,85.2 342.9,85.6 343.7,86.1 344.2,86.7 344.5,87.3 344.8,87.9" fill="rgba(0,0,0,0.145)" stroke="rgba(25,25,25,0.95)" stroke-width="0.6" stroke-linejoin="round"/>
<polygon points="342.8,88.5 343.0,88.9 342.9,89.4 342.6,89.8 342.1,90.2 341.4,90.5 340.7,90.8 339.9,91.1 339.0,91.3 338.0,91.3 337.1,91.1 336.3,90.9 335.6,90.5 335.0,90.3 334.3,90.1 333.5,89.8 332.8,89.5 332.3,89.0 332.3,88.5 332.6,88.0 333.1,87.6 333.5,87.2 334.0,86.8 334.7,86.5 335.4,86.3 336.3,86.2 337.2,86.1 338.0,86.1 338.9,86.0 339.9,85.9 340.9,86.0 341.8,86.3 342.3,86.7 342.6,87.2 342.6,87.7 342.7,88.1" fill="rgba(0,0,0,0.145)" stroke="rgba(25,25,25,0.95)" stroke-width="0.6" stroke-linejoin="round"/>
<polygon points="341.2,88.5 341.4,88.8 341.4,89.1 341.3,89.5 340.9,89.7 340.4,89.9 339.8,90.0 339.2,90.1 338.6,90.2 338.0,90.2 337.4,90.2 336.8,90.1 336.4,89.9 335.9,89.7 335.4,89.6 334.9,89.4 334.4,89.2 334.1,88.8 334.2,88.5 334.5,88.2 334.9,87.9 335.2,87.7 335.6,87.5 335.9,87.2 336.3,87.0 336.8,86.8 337.4,86.8 338.0,86.7 338.6,86.8 339.2,86.8 339.9,86.9 340.4,87.1 340.8,87.3 341.0,87.6 341.0,88.0 341.0,88.2" fill="rgba(0,0,0,0.145)" stroke="rgba(25,25,25,0.95)" stroke-width="0.6" stroke-linejoin="round"/>
<polygon points="339.7,88.5 339.7,88.7 339.8,88.8 339.7,89.0 339.5,89.1 339.2,89.2 338.9,89.2 338.5,89.3 338.3,89.3 338.0,89.3 337.7,89.3 337.4,89.3 337.1,89.3 336.9,89.2 336.6,89.1 336.4,89.0 336.3,88.8 336.1,88.7 336.2,88.5 336.3,88.3 336.5,88.2 336.7,88.1 336.8,88.0 336.9,87.9 337.1,87.7 337.4,87.6 337.7,87.6 338.0,87.6 338.3,87.6 338.6,87.7 338.9,87.8 339.1,87.8 339.3,87.9 339.5,88.1 339.5,88.2 339.6,88.4" fill="rgba(0,0,0,0.145)" stroke="rgba(25,25,25,0.95)" stroke-width="0.6" stroke-linejoin="round"/>
</g>
<rect x="323.90" y="60.40" width="39.90" height="39.80" fill="none" stroke="#a4a4a4" stroke-width="0.75"/>
<text x="324.60" y="65.80" font-size="5.85" text-anchor="start" fill="#000" stroke="#000" stroke-width="0.1">3.05</text>
<text x="363.20" y="65.80" font-size="5.85" text-anchor="end" fill="#000" stroke="#000" stroke-width="0.1">1.22</text>
<text x="324.60" y="99.70" font-size="5.85" text-anchor="start" fill="#000" stroke="#000" stroke-width="0.1">72.5</text>
<text x="363.20" y="99.70" font-size="5.85" text-anchor="end" fill="#000" stroke="#000" stroke-width="0.1">23.2</text>
<line x1="318.30" y1="63.70" x2="321.90" y2="63.70" stroke="#8c8c8c" stroke-width="0.9"/>
<line x1="318.30" y1="73.14" x2="321.90" y2="73.14" stroke="#8c8c8c" stroke-width="0.9"/>
<line x1="318.90" y1="82.29" x2="321.90" y2="82.29" stroke="#8c8c8c" stroke-width="0.9"/>
<line x1="319.50" y1="91.84" x2="321.90" y2="91.84" stroke="#8c8c8c" stroke-width="0.9"/>
<line x1="321.70" y1="95.03" x2="321.70" y2="96.62" stroke="#999" stroke-width="0.7"/>
<line x1="327.89" y1="103.10" x2="329.49" y2="103.10" stroke="#a0a0a0" stroke-width="0.9"/>
<line x1="331.08" y1="103.10" x2="333.48" y2="103.10" stroke="#a0a0a0" stroke-width="0.9"/>
<line x1="341.06" y1="103.10" x2="344.65" y2="103.10" stroke="#a0a0a0" stroke-width="0.9"/>
<line x1="349.04" y1="103.10" x2="353.43" y2="103.10" stroke="#a0a0a0" stroke-width="0.9"/>
<line x1="357.42" y1="103.10" x2="361.41" y2="103.10" stroke="#a0a0a0" stroke-width="0.9"/>
<clipPath id="cb23"><rect x="375.40" y="60.40" width="40.10" height="39.80"/></clipPath>
<line x1="394.40" y1="60.40" x2="394.40" y2="100.20" stroke="#b4b4b4" stroke-width="0.8"/>
<line x1="375.40" y1="85.00" x2="415.50" y2="85.00" stroke="#ccc" stroke-width="1.1"/>
<g clip-path="url(#cb23)">
<polygon points="400.3,84.0 400.2,86.7 399.5,89.2 398.3,91.4 396.9,93.3 395.5,95.1 394.1,97.1 392.4,99.1 390.4,100.8 388.0,101.3 385.7,100.5 383.7,98.7 382.1,96.6 380.7,94.8 379.2,93.1 377.6,91.4 376.3,89.3 375.5,86.7 375.3,84.0 375.6,81.3 376.0,78.6 376.7,75.9 377.7,73.3 379.4,71.3 381.6,70.2 383.9,70.0 386.0,70.3 388.0,70.3 390.0,70.0 392.2,69.6 394.6,69.8 396.8,71.0 398.4,73.2 399.3,75.9 399.8,78.7 400.1,81.3" fill="rgba(0,0,0,0.025)" stroke="rgba(25,25,25,0.35)" stroke-width="0.45" stroke-linejoin="round"/>
<polygon points="395.1,84.0 395.3,85.6 395.3,87.3 394.9,88.9 394.1,90.3 393.1,91.5 392.0,92.5 390.8,93.4 389.4,94.2 388.0,94.4 386.6,94.0 385.4,92.9 384.4,91.7 383.6,90.5 382.6,89.6 381.5,88.7 380.4,87.5 379.6,85.8 379.5,84.0 379.9,82.2 380.6,80.6 381.3,79.2 382.1,77.9 383.0,76.6 384.1,75.7 385.4,75.2 386.7,75.1 388.0,75.0 389.3,74.9 390.7,74.7 392.2,74.9 393.6,75.7 394.6,77.2 395.0,79.0 395.0,80.8 395.0,82.5" fill="rgba(0,0,0,0.025)" stroke="rgba(25,25,25,0.35)" stroke-width="0.45" stroke-linejoin="round"/>
<polygon points="390.8,84.0 390.9,84.6 391.0,85.4 390.9,86.1 390.6,86.7 390.1,87.2 389.6,87.4 389.1,87.6 388.5,87.8 388.0,87.8 387.5,87.8 387.0,87.5 386.5,87.2 386.1,86.7 385.7,86.4 385.3,85.9 384.9,85.4 384.6,84.7 384.5,84.0 384.8,83.3 385.1,82.7 385.5,82.2 385.8,81.7 386.1,81.2 386.5,80.7 386.9,80.3 387.4,80.1 388.0,80.1 388.5,80.1 389.1,80.3 389.7,80.5 390.2,80.8 390.5,81.4 390.7,82.1 390.7,82.8 390.7,83.4" fill="rgba(0,0,0,0.025)" stroke="rgba(25,25,25,0.35)" stroke-width="0.45" stroke-linejoin="round"/>
<polygon points="396.8,77.0 396.4,78.4 395.9,79.7 395.6,81.0 395.2,82.5 394.5,84.0 393.5,85.2 392.0,85.8 390.5,85.8 389.0,85.3 387.7,84.7 386.5,84.3 385.2,83.9 384.0,83.4 382.8,82.5 382.0,81.3 381.4,79.9 381.0,78.5 380.8,77.0 380.6,75.4 380.9,73.9 381.7,72.5 382.9,71.6 384.2,71.0 385.5,70.5 386.6,69.9 387.7,69.0 389.0,68.3 390.5,67.9 392.0,68.3 393.2,69.2 394.2,70.4 395.1,71.6 395.8,72.8 396.5,74.1 396.8,75.5" fill="rgba(0,0,0,0.045)" stroke="rgba(25,25,25,0.63)" stroke-width="0.45" stroke-linejoin="round"/>
<polygon points="395.8,77.0 395.8,78.3 395.4,79.5 394.9,80.6 394.3,81.8 393.6,82.8 392.7,83.7 391.5,84.2 390.2,84.2 389.0,83.8 387.9,83.3 386.9,83.0 385.8,82.8 384.6,82.6 383.4,82.0 382.6,80.9 382.1,79.7 382.1,78.3 382.2,77.0 382.4,75.8 382.7,74.6 383.2,73.4 383.9,72.5 384.9,71.8 385.9,71.2 386.8,70.6 387.8,70.0 389.0,69.4 390.3,69.1 391.6,69.4 392.6,70.3 393.3,71.5 393.8,72.7 394.3,73.7 394.9,74.7 395.5,75.8" fill="rgba(0,0,0,0.045)" stroke="rgba(25,25,25,0.63)" stroke-width="0.45" stroke-linejoin="round"/>
<polygon points="394.9,77.0 395.0,78.1 394.7,79.2 394.1,80.1 393.3,80.8 392.6,81.5 391.8,82.1 390.9,82.6 390.0,82.8 389.0,82.7 388.1,82.4 387.2,82.2 386.3,82.0 385.3,81.7 384.3,81.2 383.6,80.3 383.3,79.2 383.4,78.0 383.7,77.0 384.0,76.1 384.2,75.1 384.4,74.2 384.7,73.2 385.4,72.4 386.2,71.8 387.1,71.4 388.0,71.0 389.0,70.8 390.0,70.7 391.1,71.0 391.9,71.7 392.5,72.6 392.9,73.5 393.3,74.4 393.8,75.1 394.4,76.0" fill="rgba(0,0,0,0.045)" stroke="rgba(25,25,25,0.63)" stroke-width="0.45" stroke-linejoin="round"/>
<polygon points="393.8,77.0 393.8,77.9 393.5,78.8 393.0,79.4 392.2,79.9 391.6,80.3 391.0,80.7 390.4,81.1 389.8,81.5 389.0,81.7 388.2,81.7 387.5,81.4 386.8,81.1 386.1,80.7 385.4,80.2 384.9,79.5 384.7,78.7 384.7,77.8 385.0,77.0 385.2,76.3 385.3,75.6 385.3,74.7 385.5,73.9 385.9,73.1 386.6,72.6 387.4,72.4 388.2,72.3 389.0,72.4 389.8,72.5 390.5,72.6 391.2,73.0 391.7,73.5 392.2,74.2 392.5,74.8 392.9,75.5 393.4,76.2" fill="rgba(0,0,0,0.045)" stroke="rgba(25,25,25,0.63)" stroke-width="0.45" stroke-linejoin="round"/>
<polygon points="392.4,77.0 392.4,77.6 392.2,78.2 391.8,78.7 391.3,79.0 390.8,79.3 390.4,79.6 390.0,80.0 389.6,80.4 389.0,80.7 388.4,80.7 387.8,80.4 387.4,80.0 387.0,79.6 386.6,79.2 386.3,78.7 386.0,78.2 385.9,77.6 386.0,77.0 386.1,76.5 386.2,75.9 386.2,75.3 386.4,74.7 386.7,74.1 387.2,73.7 387.8,73.6 388.5,73.7 389.0,73.9 389.5,74.0 390.0,74.0 390.6,74.1 391.1,74.4 391.5,74.8 391.8,75.3 392.0,75.8 392.2,76.4" fill="rgba(0,0,0,0.045)" stroke="rgba(25,25,25,0.63)" stroke-width="0.45" stroke-linejoin="round"/>
<polygon points="391.0,77.0 390.9,77.4 390.9,77.7 390.7,78.0 390.5,78.3 390.2,78.5 389.9,78.7 389.7,79.0 389.4,79.2 389.0,79.3 388.6,79.3 388.3,79.2 388.0,78.8 387.8,78.5 387.6,78.2 387.4,78.0 387.2,77.7 387.0,77.4 387.0,77.0 387.0,76.6 387.1,76.3 387.2,75.9 387.4,75.6 387.6,75.3 387.9,75.0 388.3,75.0 388.7,75.0 389.0,75.1 389.3,75.2 389.6,75.2 390.0,75.2 390.4,75.3 390.7,75.5 390.9,75.9 391.0,76.2 391.0,76.6" fill="rgba(0,0,0,0.045)" stroke="rgba(25,25,25,0.63)" stroke-width="0.45" stroke-linejoin="round"/>
<polygon points="391.8,76.5 391.9,77.5 391.9,78.6 391.9,79.8 391.6,80.8 391.2,81.5 390.8,81.7 390.3,81.8 389.9,81.9 389.5,82.0 389.1,82.2 388.6,82.1 388.2,81.8 387.9,81.1 387.6,80.4 387.3,79.6 387.0,78.7 386.9,77.6 386.8,76.5 387.0,75.4 387.2,74.5 387.6,73.8 387.8,73.1 388.0,72.3 388.3,71.4 388.6,70.5 389.0,70.1 389.5,70.0 390.0,70.4 390.4,70.8 390.7,71.4 391.1,71.9 391.4,72.7 391.6,73.6 391.7,74.5 391.8,75.5" fill="rgba(0,0,0,0.153)" stroke="rgba(25,25,25,0.95)" stroke-width="0.6" stroke-linejoin="round"/>
<polygon points="391.4,76.5 391.4,77.3 391.3,78.1 391.2,78.9 391.0,79.6 390.8,80.1 390.4,80.3 390.1,80.4 389.8,80.4 389.5,80.6 389.2,80.8 388.8,80.9 388.5,80.7 388.2,80.2 388.0,79.5 387.9,78.8 387.8,78.0 387.7,77.3 387.6,76.5 387.7,75.7 387.8,75.0 388.0,74.4 388.2,73.8 388.3,73.2 388.5,72.5 388.8,71.9 389.1,71.5 389.5,71.6 389.8,71.9 390.1,72.4 390.4,72.9 390.6,73.3 390.9,73.8 391.1,74.3 391.3,74.9 391.4,75.7" fill="rgba(0,0,0,0.153)" stroke="rgba(25,25,25,0.95)" stroke-width="0.6" stroke-linejoin="round"/>
<polygon points="390.8,76.5 390.8,77.0 390.7,77.5 390.6,78.0 390.5,78.4 390.3,78.8 390.1,79.0 389.9,79.1 389.7,79.2 389.5,79.3 389.3,79.5 389.0,79.5 388.8,79.4 388.6,79.0 388.5,78.5 388.4,78.0 388.4,77.4 388.4,77.0 388.3,76.5 388.3,76.0 388.3,75.5 388.4,75.0 388.5,74.6 388.7,74.2 388.9,73.8 389.0,73.5 389.3,73.3 389.5,73.3 389.7,73.5 389.9,73.9 390.1,74.2 390.2,74.5 390.4,74.7 390.6,75.0 390.8,75.4 390.8,75.9" fill="rgba(0,0,0,0.153)" stroke="rgba(25,25,25,0.95)" stroke-width="0.6" stroke-linejoin="round"/>
<polygon points="390.2,76.5 390.1,76.8 390.0,77.0 390.0,77.2 389.9,77.4 389.9,77.6 389.8,77.8 389.7,77.9 389.6,78.0 389.5,78.0 389.4,78.0 389.3,78.0 389.2,77.9 389.1,77.7 389.0,77.5 389.0,77.2 389.0,77.0 389.0,76.7 388.9,76.5 388.9,76.2 388.9,76.0 388.9,75.7 389.0,75.5 389.1,75.3 389.2,75.2 389.3,75.1 389.4,75.0 389.5,75.0 389.6,75.1 389.7,75.2 389.8,75.3 389.9,75.4 390.0,75.6 390.1,75.7 390.2,75.9 390.2,76.2" fill="rgba(0,0,0,0.153)" stroke="rgba(25,25,25,0.95)" stroke-width="0.6" stroke-linejoin="round"/>
<polygon points="401.5,92.0 401.8,93.9 401.1,95.2 399.7,96.1 397.8,96.6 396.1,97.1 394.5,97.5 393.0,98.1 391.0,98.6 388.0,98.8 384.9,98.8 382.7,98.5 380.8,98.1 378.9,97.7 377.2,97.1 376.0,96.2 375.5,95.0 375.7,93.7 376.5,92.0 377.1,90.5 377.4,89.4 377.4,88.3 377.6,87.1 378.5,86.1 380.2,85.4 382.4,85.1 384.9,85.2 388.0,85.2 391.1,85.3 393.3,85.6 395.1,86.0 396.5,86.7 397.4,87.5 398.3,88.4 399.2,89.3 400.4,90.3" fill="rgba(0,0,0,0.050)" stroke="rgba(25,25,25,0.70)" stroke-width="0.45" stroke-linejoin="round"/>
<polygon points="399.6,92.0 399.7,93.6 399.1,94.7 397.9,95.5 396.3,95.9 394.8,96.3 393.6,96.7 392.3,97.3 390.7,97.9 388.0,98.4 385.1,98.4 383.0,98.1 381.5,97.5 380.3,96.8 379.3,96.1 378.3,95.4 377.6,94.5 377.5,93.4 377.7,92.0 378.0,90.6 378.3,89.6 378.4,88.6 378.7,87.6 379.5,86.7 381.0,86.1 383.1,86.0 385.3,86.2 388.0,86.5 390.5,86.7 392.3,86.7 394.1,86.9 395.7,87.2 396.9,87.8 397.8,88.6 398.5,89.5 399.1,90.5" fill="rgba(0,0,0,0.050)" stroke="rgba(25,25,25,0.70)" stroke-width="0.45" stroke-linejoin="round"/>
<polygon points="397.3,92.0 397.2,93.2 396.9,94.2 396.2,94.9 395.2,95.4 394.1,95.8 393.0,96.2 391.8,96.7 390.4,97.2 388.0,97.6 385.4,97.6 383.7,97.3 382.5,96.6 381.8,95.9 381.1,95.3 380.3,94.7 379.5,94.1 378.8,93.3 378.5,92.0 378.7,90.7 379.0,89.8 379.5,89.0 380.1,88.3 380.9,87.6 382.2,87.1 383.9,87.0 385.8,87.2 388.0,87.4 390.0,87.6 391.6,87.6 393.3,87.5 394.9,87.7 396.3,88.1 397.0,88.8 397.3,89.7 397.3,90.7" fill="rgba(0,0,0,0.050)" stroke="rgba(25,25,25,0.70)" stroke-width="0.45" stroke-linejoin="round"/>
<polygon points="395.2,92.0 395.1,93.0 395.0,93.7 394.9,94.4 394.4,95.0 393.5,95.5 392.5,95.8 391.3,96.1 390.0,96.4 388.0,96.5 385.9,96.5 384.5,96.2 383.6,95.7 383.0,95.1 382.4,94.6 381.7,94.2 380.8,93.7 380.0,93.1 379.5,92.0 379.6,90.9 380.2,90.1 380.9,89.5 381.7,89.0 382.6,88.6 383.5,88.2 384.7,88.0 386.1,88.0 388.0,88.0 389.8,88.1 391.2,88.1 392.6,88.1 394.0,88.3 395.1,88.7 395.7,89.3 395.7,90.1 395.4,91.0" fill="rgba(0,0,0,0.050)" stroke="rgba(25,25,25,0.70)" stroke-width="0.45" stroke-linejoin="round"/>
<polygon points="393.5,92.0 393.5,92.7 393.6,93.4 393.7,94.0 393.4,94.6 392.8,95.0 391.8,95.2 390.7,95.3 389.5,95.3 388.0,95.4 386.5,95.3 385.4,95.2 384.5,94.9 383.9,94.6 383.3,94.2 382.8,93.8 382.1,93.4 381.4,92.9 381.0,92.0 381.1,91.1 381.7,90.5 382.5,90.1 383.3,89.8 384.0,89.5 384.6,89.2 385.4,88.8 386.5,88.6 388.0,88.6 389.5,88.6 390.7,88.7 391.7,88.9 392.7,89.1 393.4,89.4 393.9,89.9 394.0,90.6 393.8,91.2" fill="rgba(0,0,0,0.050)" stroke="rgba(25,25,25,0.70)" stroke-width="0.45" stroke-linejoin="round"/>
<polygon points="392.3,92.0 392.3,92.6 392.4,93.1 392.4,93.5 392.2,94.0 391.7,94.3 390.9,94.4 390.0,94.4 389.1,94.4 388.0,94.3 386.9,94.3 386.1,94.3 385.3,94.3 384.7,94.1 384.2,93.8 383.8,93.5 383.5,93.1 383.1,92.7 383.0,92.0 383.0,91.3 383.4,90.9 384.0,90.6 384.6,90.4 385.1,90.2 385.5,89.9 386.0,89.6 386.8,89.3 388.0,89.2 389.2,89.3 390.1,89.5 390.7,89.7 391.3,90.0 391.8,90.2 392.2,90.5 392.4,90.9 392.4,91.4" fill="rgba(0,0,0,0.050)" stroke="rgba(25,25,25,0.70)" stroke-width="0.45" stroke-linejoin="round"/>
<polygon points="391.2,92.0 391.1,92.4 391.0,92.7 390.9,93.0 390.7,93.3 390.4,93.5 389.9,93.6 389.3,93.6 388.7,93.5 388.0,93.5 387.3,93.5 386.7,93.6 386.1,93.6 385.6,93.5 385.3,93.3 385.1,93.0 385.0,92.7 384.9,92.4 384.9,92.0 384.9,91.6 385.1,91.3 385.3,91.1 385.7,90.9 386.0,90.7 386.3,90.5 386.6,90.3 387.2,90.2 388.0,90.1 388.8,90.2 389.4,90.3 389.7,90.6 390.0,90.7 390.3,90.9 390.7,91.1 390.9,91.3 391.1,91.6" fill="rgba(0,0,0,0.050)" stroke="rgba(25,25,25,0.70)" stroke-width="0.45" stroke-linejoin="round"/>
<polygon points="390.5,91.0 390.0,91.6 389.3,92.1 388.7,92.6 388.2,93.1 387.7,93.6 387.0,94.0 386.1,94.3 385.0,94.5 384.0,94.5 382.9,94.5 381.8,94.5 380.8,94.3 379.9,93.9 379.3,93.3 379.0,92.7 378.9,92.1 378.8,91.5 378.5,91.0 378.1,90.4 378.0,89.7 378.3,89.1 379.1,88.6 380.0,88.2 381.0,88.0 382.0,87.7 383.0,87.6 384.0,87.5 385.0,87.6 385.9,87.9 386.8,88.2 387.6,88.5 388.5,88.8 389.4,89.2 390.2,89.7 390.6,90.3" fill="rgba(0,0,0,0.136)" stroke="rgba(25,25,25,0.95)" stroke-width="0.6" stroke-linejoin="round"/>
<polygon points="388.7,91.0 388.3,91.4 387.8,91.8 387.4,92.2 387.1,92.5 386.8,93.0 386.3,93.4 385.7,93.7 384.8,93.8 384.0,93.8 383.2,93.6 382.5,93.4 381.8,93.3 381.1,93.0 380.6,92.7 380.3,92.3 380.1,91.8 379.9,91.4 379.7,91.0 379.5,90.5 379.4,90.0 379.6,89.5 380.2,89.2 381.0,88.9 381.8,88.8 382.6,88.7 383.3,88.6 384.0,88.5 384.8,88.4 385.6,88.5 386.3,88.7 386.9,89.0 387.5,89.3 388.1,89.6 388.5,90.0 388.8,90.5" fill="rgba(0,0,0,0.136)" stroke="rgba(25,25,25,0.95)" stroke-width="0.6" stroke-linejoin="round"/>
<polygon points="387.0,91.0 386.9,91.3 386.6,91.6 386.4,91.8 386.2,92.1 385.9,92.3 385.6,92.6 385.1,92.8 384.6,92.9 384.0,92.8 383.5,92.7 383.1,92.5 382.6,92.4 382.2,92.3 381.8,92.1 381.4,91.9 381.2,91.6 381.0,91.3 381.0,91.0 381.0,90.7 381.0,90.4 381.2,90.1 381.6,89.8 382.1,89.7 382.6,89.6 383.1,89.5 383.5,89.5 384.0,89.3 384.5,89.2 385.1,89.2 385.6,89.4 386.0,89.6 386.3,89.9 386.6,90.1 386.8,90.4 386.9,90.7" fill="rgba(0,0,0,0.136)" stroke="rgba(25,25,25,0.95)" stroke-width="0.6" stroke-linejoin="round"/>
<polygon points="385.5,91.0 385.5,91.2 385.4,91.3 385.3,91.4 385.2,91.6 385.0,91.7 384.8,91.8 384.6,91.9 384.3,91.9 384.0,91.9 383.8,91.8 383.5,91.7 383.3,91.7 383.1,91.6 382.8,91.6 382.6,91.5 382.5,91.3 382.4,91.2 382.5,91.0 382.5,90.8 382.6,90.7 382.7,90.6 382.9,90.4 383.1,90.3 383.3,90.3 383.5,90.2 383.8,90.2 384.0,90.1 384.3,90.1 384.6,90.1 384.8,90.2 385.0,90.3 385.1,90.4 385.2,90.6 385.3,90.7 385.4,90.9" fill="rgba(0,0,0,0.136)" stroke="rgba(25,25,25,0.95)" stroke-width="0.6" stroke-linejoin="round"/>
</g>
<rect x="375.40" y="60.40" width="40.10" height="39.80" fill="none" stroke="#a4a4a4" stroke-width="0.75"/>
<text x="376.10" y="65.80" font-size="5.85" text-anchor="start" fill="#000" stroke="#000" stroke-width="0.1">27.3</text>
<text x="414.90" y="65.80" font-size="5.85" text-anchor="end" fill="#000" stroke="#000" stroke-width="0.1">4.74</text>
<text x="376.10" y="99.70" font-size="5.85" text-anchor="start" fill="#000" stroke="#000" stroke-width="0.1">59.1</text>
<text x="414.90" y="99.70" font-size="5.85" text-anchor="end" fill="#000" stroke="#000" stroke-width="0.1">8.92</text>
<line x1="369.80" y1="63.70" x2="373.40" y2="63.70" stroke="#8c8c8c" stroke-width="0.9"/>
<line x1="369.80" y1="73.14" x2="373.40" y2="73.14" stroke="#8c8c8c" stroke-width="0.9"/>
<line x1="370.40" y1="82.29" x2="373.40" y2="82.29" stroke="#8c8c8c" stroke-width="0.9"/>
<line x1="371.00" y1="91.84" x2="373.40" y2="91.84" stroke="#8c8c8c" stroke-width="0.9"/>
<line x1="373.20" y1="95.03" x2="373.20" y2="96.62" stroke="#999" stroke-width="0.7"/>
<line x1="379.41" y1="103.10" x2="381.01" y2="103.10" stroke="#a0a0a0" stroke-width="0.9"/>
<line x1="382.62" y1="103.10" x2="385.02" y2="103.10" stroke="#a0a0a0" stroke-width="0.9"/>
<line x1="392.64" y1="103.10" x2="396.25" y2="103.10" stroke="#a0a0a0" stroke-width="0.9"/>
<line x1="400.66" y1="103.10" x2="405.07" y2="103.10" stroke="#a0a0a0" stroke-width="0.9"/>
<line x1="409.08" y1="103.10" x2="413.09" y2="103.10" stroke="#a0a0a0" stroke-width="0.9"/>
<clipPath id="cb24"><rect x="425.90" y="60.40" width="39.60" height="39.80"/></clipPath>
<line x1="444.40" y1="60.40" x2="444.40" y2="100.20" stroke="#b4b4b4" stroke-width="0.8"/>
<line x1="425.90" y1="85.00" x2="465.50" y2="85.00" stroke="#ccc" stroke-width="1.1"/>
<g clip-path="url(#cb24)">
<polygon points="451.7,84.0 451.2,86.6 450.4,88.9 449.7,91.2 449.0,93.8 448.1,96.5 446.6,98.9 444.6,100.3 442.2,100.4 440.0,99.5 438.1,98.3 436.3,97.2 434.5,96.4 432.6,95.5 430.8,94.0 429.5,91.9 428.6,89.4 428.1,86.7 427.7,84.0 427.6,81.2 427.9,78.3 428.9,75.7 430.6,73.8 432.7,72.7 434.6,72.0 436.4,71.1 438.1,69.9 440.0,68.5 442.2,67.7 444.5,68.1 446.5,69.6 448.0,71.7 449.2,74.0 450.2,76.4 451.2,78.8 451.7,81.3" fill="rgba(0,0,0,0.025)" stroke="rgba(25,25,25,0.35)" stroke-width="0.45" stroke-linejoin="round"/>
<polygon points="447.4,84.0 447.5,85.7 447.1,87.4 446.5,88.9 445.8,90.3 445.0,91.7 444.0,93.0 442.8,93.8 441.3,93.9 440.0,93.4 438.8,92.6 437.7,92.0 436.6,91.6 435.3,91.3 434.0,90.5 432.9,89.3 432.4,87.6 432.3,85.8 432.4,84.0 432.7,82.3 433.0,80.7 433.5,79.2 434.3,77.9 435.4,76.9 436.5,76.2 437.6,75.6 438.7,74.8 440.0,74.0 441.4,73.6 442.9,73.8 444.1,74.9 444.9,76.4 445.5,78.1 445.9,79.6 446.5,81.0 447.0,82.4" fill="rgba(0,0,0,0.025)" stroke="rgba(25,25,25,0.35)" stroke-width="0.45" stroke-linejoin="round"/>
<polygon points="443.1,84.0 443.2,84.7 443.1,85.4 442.8,86.1 442.3,86.5 441.9,86.9 441.5,87.3 441.0,87.6 440.5,87.8 440.0,87.7 439.5,87.6 439.1,87.4 438.6,87.2 438.1,87.0 437.5,86.7 437.1,86.2 436.9,85.5 436.9,84.7 437.1,84.0 437.3,83.4 437.4,82.8 437.6,82.2 437.7,81.6 438.1,81.0 438.5,80.6 439.0,80.3 439.5,80.1 440.0,80.0 440.6,79.9 441.1,80.1 441.6,80.5 441.9,81.1 442.1,81.7 442.3,82.3 442.5,82.8 442.8,83.4" fill="rgba(0,0,0,0.025)" stroke="rgba(25,25,25,0.35)" stroke-width="0.45" stroke-linejoin="round"/>
<polygon points="448.5,77.0 448.6,78.4 448.7,80.0 448.6,81.6 448.0,83.1 447.0,84.2 445.6,84.6 444.3,84.7 443.1,84.7 442.0,84.8 440.9,84.9 439.6,84.9 438.5,84.4 437.4,83.6 436.6,82.5 435.9,81.3 435.2,80.0 434.6,78.6 434.5,77.0 434.8,75.5 435.5,74.1 436.4,73.1 437.3,72.2 438.0,71.1 438.6,69.9 439.5,68.7 440.7,67.9 442.0,67.8 443.3,68.2 444.4,68.9 445.5,69.7 446.4,70.6 447.3,71.6 448.0,72.8 448.3,74.2 448.4,75.6" fill="rgba(0,0,0,0.045)" stroke="rgba(25,25,25,0.63)" stroke-width="0.45" stroke-linejoin="round"/>
<polygon points="448.0,77.0 447.9,78.3 447.7,79.5 447.5,80.8 446.9,82.0 446.1,82.9 445.0,83.3 443.9,83.3 442.9,83.3 442.0,83.4 441.0,83.7 439.9,83.9 438.8,83.7 437.8,83.0 437.1,82.0 436.7,80.7 436.4,79.5 436.2,78.2 436.1,77.0 436.2,75.8 436.6,74.6 437.1,73.6 437.8,72.7 438.4,71.8 439.0,70.8 439.8,69.8 440.8,69.1 442.0,69.0 443.1,69.5 444.0,70.3 444.8,71.2 445.5,72.0 446.3,72.7 447.0,73.5 447.6,74.5 447.9,75.7" fill="rgba(0,0,0,0.045)" stroke="rgba(25,25,25,0.63)" stroke-width="0.45" stroke-linejoin="round"/>
<polygon points="447.3,77.0 447.0,78.1 446.6,79.0 446.2,79.9 445.7,80.8 445.1,81.5 444.4,82.1 443.6,82.3 442.8,82.4 442.0,82.5 441.2,82.7 440.2,82.9 439.3,82.7 438.5,82.1 438.0,81.1 437.7,80.0 437.7,78.9 437.6,77.9 437.5,77.0 437.4,76.0 437.4,75.0 437.7,74.0 438.2,73.1 438.8,72.4 439.5,71.7 440.2,71.1 441.1,70.7 442.0,70.6 442.9,71.0 443.6,71.7 444.2,72.4 444.8,73.0 445.5,73.5 446.2,74.0 446.9,74.8 447.3,75.9" fill="rgba(0,0,0,0.045)" stroke="rgba(25,25,25,0.63)" stroke-width="0.45" stroke-linejoin="round"/>
<polygon points="446.2,77.0 445.9,77.8 445.5,78.5 445.0,79.1 444.7,79.7 444.4,80.4 443.9,81.0 443.3,81.4 442.7,81.7 442.0,81.7 441.3,81.7 440.6,81.6 439.9,81.3 439.3,80.8 438.9,80.1 438.8,79.3 438.7,78.5 438.7,77.7 438.5,77.0 438.3,76.2 438.2,75.3 438.4,74.5 438.8,73.7 439.4,73.2 440.1,72.9 440.7,72.7 441.3,72.4 442.0,72.3 442.7,72.5 443.3,72.8 443.8,73.2 444.3,73.7 444.8,74.1 445.4,74.6 445.9,75.3 446.2,76.1" fill="rgba(0,0,0,0.045)" stroke="rgba(25,25,25,0.63)" stroke-width="0.45" stroke-linejoin="round"/>
<polygon points="445.0,77.0 444.7,77.6 444.4,78.1 444.1,78.5 443.9,79.0 443.7,79.5 443.4,80.0 443.0,80.5 442.5,80.7 442.0,80.6 441.5,80.4 441.1,80.2 440.6,79.9 440.2,79.6 439.9,79.2 439.7,78.6 439.5,78.1 439.5,77.5 439.4,77.0 439.2,76.4 439.2,75.7 439.3,75.1 439.6,74.6 440.1,74.3 440.6,74.1 441.1,74.1 441.6,74.0 442.0,73.8 442.5,73.7 443.0,73.8 443.4,74.0 443.8,74.4 444.2,74.8 444.5,75.2 444.8,75.8 445.0,76.4" fill="rgba(0,0,0,0.045)" stroke="rgba(25,25,25,0.63)" stroke-width="0.45" stroke-linejoin="round"/>
<polygon points="443.7,77.0 443.7,77.4 443.6,77.7 443.4,78.0 443.3,78.3 443.1,78.6 442.9,78.9 442.7,79.2 442.3,79.3 442.0,79.3 441.7,79.1 441.4,78.9 441.2,78.7 441.0,78.5 440.7,78.3 440.5,78.1 440.3,77.7 440.3,77.4 440.2,77.0 440.2,76.6 440.3,76.2 440.4,75.9 440.6,75.5 440.9,75.3 441.2,75.3 441.5,75.2 441.7,75.1 442.0,75.0 442.3,74.9 442.6,74.9 443.0,75.0 443.2,75.3 443.4,75.6 443.5,75.9 443.6,76.3 443.7,76.6" fill="rgba(0,0,0,0.045)" stroke="rgba(25,25,25,0.63)" stroke-width="0.45" stroke-linejoin="round"/>
<polygon points="446.2,76.0 446.3,77.1 446.1,78.1 445.8,78.9 445.3,79.5 444.8,79.9 444.4,80.3 444.0,80.8 443.5,81.2 443.0,81.5 442.5,81.5 442.0,81.2 441.5,80.8 441.0,80.3 440.6,79.7 440.2,79.0 440.0,78.0 440.0,77.0 440.2,76.0 440.4,75.1 440.5,74.3 440.6,73.4 440.7,72.5 440.9,71.5 441.4,70.8 441.9,70.5 442.5,70.4 443.0,70.5 443.5,70.6 444.0,70.9 444.5,71.3 444.9,71.9 445.2,72.7 445.4,73.5 445.6,74.2 445.9,75.1" fill="rgba(0,0,0,0.136)" stroke="rgba(25,25,25,0.95)" stroke-width="0.6" stroke-linejoin="round"/>
<polygon points="445.3,76.0 445.4,76.8 445.3,77.5 445.0,78.1 444.7,78.6 444.3,78.9 444.0,79.1 443.7,79.5 443.4,80.0 443.0,80.3 442.6,80.4 442.2,80.2 441.8,79.7 441.5,79.2 441.3,78.6 441.1,78.0 440.9,77.4 440.8,76.7 440.8,76.0 440.9,75.3 441.0,74.7 441.1,74.0 441.2,73.3 441.4,72.5 441.7,72.0 442.2,71.8 442.6,71.9 443.0,72.1 443.4,72.3 443.7,72.4 444.1,72.6 444.4,72.9 444.7,73.3 445.0,73.9 445.1,74.6 445.2,75.3" fill="rgba(0,0,0,0.136)" stroke="rgba(25,25,25,0.95)" stroke-width="0.6" stroke-linejoin="round"/>
<polygon points="444.5,76.0 444.5,76.5 444.4,76.9 444.3,77.4 444.1,77.7 443.9,78.0 443.7,78.2 443.5,78.5 443.3,78.7 443.0,79.0 442.7,79.0 442.4,78.9 442.2,78.5 442.1,78.0 441.9,77.6 441.8,77.3 441.7,76.9 441.5,76.5 441.5,76.0 441.5,75.5 441.6,75.1 441.7,74.6 441.8,74.2 442.0,73.8 442.2,73.4 442.5,73.3 442.7,73.3 443.0,73.5 443.2,73.6 443.5,73.7 443.7,73.7 444.0,73.8 444.2,74.1 444.4,74.5 444.5,75.0 444.5,75.5" fill="rgba(0,0,0,0.136)" stroke="rgba(25,25,25,0.95)" stroke-width="0.6" stroke-linejoin="round"/>
<polygon points="443.7,76.0 443.7,76.2 443.7,76.4 443.6,76.7 443.6,76.9 443.5,77.1 443.4,77.2 443.3,77.3 443.1,77.4 443.0,77.5 442.9,77.5 442.7,77.4 442.6,77.2 442.5,77.0 442.5,76.8 442.4,76.6 442.3,76.4 442.3,76.2 442.2,76.0 442.2,75.7 442.2,75.5 442.3,75.3 442.4,75.1 442.5,75.0 442.6,74.8 442.7,74.7 442.9,74.7 443.0,74.7 443.1,74.8 443.2,74.8 443.4,74.8 443.5,74.9 443.6,75.0 443.7,75.2 443.7,75.5 443.7,75.8" fill="rgba(0,0,0,0.136)" stroke="rgba(25,25,25,0.95)" stroke-width="0.6" stroke-linejoin="round"/>
<polygon points="451.6,92.0 450.7,93.3 449.4,94.3 448.1,95.2 447.1,96.1 446.0,97.1 444.7,98.0 443.0,98.6 441.0,98.9 439.0,99.0 437.0,99.0 434.9,98.8 432.8,98.5 431.0,97.8 429.8,96.7 429.2,95.4 429.1,94.2 429.0,93.1 428.6,92.0 428.1,90.8 427.8,89.5 428.2,88.2 429.4,87.1 431.2,86.4 433.2,85.9 435.1,85.5 437.0,85.2 439.0,85.0 441.0,85.2 442.8,85.7 444.3,86.4 445.8,87.1 447.4,87.7 449.1,88.4 450.7,89.4 451.7,90.6" fill="rgba(0,0,0,0.050)" stroke="rgba(25,25,25,0.70)" stroke-width="0.45" stroke-linejoin="round"/>
<polygon points="449.7,92.0 448.9,93.1 447.8,94.0 446.7,94.7 445.9,95.5 445.1,96.4 444.1,97.4 442.7,98.2 440.9,98.6 439.0,98.5 437.2,98.2 435.6,97.7 434.0,97.3 432.5,96.7 431.3,95.9 430.5,95.0 430.1,94.0 429.9,93.0 429.6,92.0 429.1,90.9 428.9,89.8 429.3,88.6 430.4,87.6 432.2,87.0 434.1,86.8 435.8,86.7 437.4,86.5 439.0,86.3 440.7,86.1 442.5,86.2 444.1,86.6 445.5,87.3 446.8,88.0 448.0,88.8 449.0,89.8 449.7,90.9" fill="rgba(0,0,0,0.050)" stroke="rgba(25,25,25,0.70)" stroke-width="0.45" stroke-linejoin="round"/>
<polygon points="447.6,92.0 447.3,92.9 446.7,93.7 445.9,94.4 445.1,95.1 444.4,95.9 443.5,96.8 442.3,97.5 440.7,97.8 439.0,97.6 437.5,97.2 436.2,96.6 435.1,96.1 433.9,95.7 432.6,95.3 431.5,94.6 430.8,93.8 430.5,92.9 430.3,92.0 430.3,91.1 430.5,90.1 430.9,89.2 431.9,88.4 433.3,87.9 434.9,87.7 436.4,87.6 437.7,87.4 439.0,87.1 440.5,86.8 442.1,86.8 443.7,87.0 445.0,87.7 445.8,88.5 446.5,89.4 447.0,90.2 447.5,91.1" fill="rgba(0,0,0,0.050)" stroke="rgba(25,25,25,0.70)" stroke-width="0.45" stroke-linejoin="round"/>
<polygon points="445.8,92.0 446.0,92.8 445.8,93.5 445.3,94.2 444.5,94.8 443.7,95.4 442.7,96.0 441.6,96.4 440.3,96.6 439.0,96.5 437.8,96.2 436.8,95.7 435.8,95.3 434.8,95.0 433.6,94.7 432.5,94.3 431.7,93.6 431.3,92.8 431.5,92.0 431.9,91.2 432.3,90.5 432.8,89.8 433.5,89.2 434.4,88.7 435.6,88.4 436.7,88.2 437.8,88.0 439.0,87.8 440.3,87.6 441.7,87.5 443.0,87.8 444.0,88.3 444.6,89.1 444.9,89.9 445.2,90.6 445.5,91.3" fill="rgba(0,0,0,0.050)" stroke="rgba(25,25,25,0.70)" stroke-width="0.45" stroke-linejoin="round"/>
<polygon points="444.5,92.0 444.8,92.6 444.8,93.3 444.4,93.9 443.7,94.4 442.8,94.7 441.9,95.0 440.9,95.3 440.0,95.4 439.0,95.5 438.0,95.3 437.2,95.1 436.4,94.8 435.5,94.5 434.6,94.3 433.6,93.9 433.0,93.3 432.7,92.7 433.0,92.0 433.5,91.4 434.0,90.9 434.5,90.4 434.9,89.9 435.4,89.4 436.1,89.0 437.0,88.7 438.0,88.5 439.0,88.5 440.0,88.4 441.1,88.5 442.1,88.7 442.9,89.2 443.4,89.8 443.6,90.4 443.8,90.9 444.1,91.5" fill="rgba(0,0,0,0.050)" stroke="rgba(25,25,25,0.70)" stroke-width="0.45" stroke-linejoin="round"/>
<polygon points="443.3,92.0 443.5,92.5 443.5,93.0 443.2,93.5 442.5,93.8 441.8,94.0 441.0,94.1 440.3,94.2 439.7,94.4 439.0,94.5 438.2,94.6 437.5,94.5 436.8,94.3 436.2,94.0 435.6,93.7 435.1,93.4 434.6,93.0 434.5,92.5 434.6,92.0 435.0,91.6 435.4,91.2 435.7,90.8 435.9,90.4 436.2,90.0 436.7,89.6 437.4,89.3 438.2,89.2 439.0,89.3 439.7,89.4 440.5,89.6 441.1,89.7 441.8,90.0 442.2,90.4 442.5,90.8 442.7,91.2 443.0,91.6" fill="rgba(0,0,0,0.050)" stroke="rgba(25,25,25,0.70)" stroke-width="0.45" stroke-linejoin="round"/>
<polygon points="441.9,92.0 442.0,92.3 441.9,92.6 441.7,92.9 441.3,93.2 440.8,93.3 440.3,93.4 439.9,93.4 439.5,93.6 439.0,93.7 438.5,93.8 437.9,93.8 437.4,93.6 437.1,93.4 436.8,93.1 436.5,92.9 436.3,92.6 436.2,92.3 436.2,92.0 436.3,91.7 436.5,91.4 436.7,91.2 436.9,90.9 437.1,90.6 437.4,90.3 437.9,90.2 438.5,90.1 439.0,90.2 439.5,90.4 439.9,90.5 440.3,90.6 440.8,90.7 441.2,90.9 441.5,91.1 441.7,91.4 441.8,91.7" fill="rgba(0,0,0,0.050)" stroke="rgba(25,25,25,0.70)" stroke-width="0.45" stroke-linejoin="round"/>
<polygon points="438.1,91.0 437.9,91.6 437.8,92.3 437.6,92.9 437.2,93.6 436.6,94.1 435.8,94.5 434.9,94.8 434.0,95.0 433.0,95.2 432.0,95.3 431.0,95.0 430.2,94.5 429.7,93.9 429.2,93.3 428.8,92.8 428.2,92.3 427.6,91.7 427.1,91.0 427.1,90.2 427.5,89.5 428.1,88.9 428.8,88.4 429.5,88.0 430.3,87.5 431.1,87.2 432.1,87.1 433.0,87.2 433.9,87.4 434.7,87.5 435.7,87.6 436.7,87.8 437.7,88.1 438.3,88.8 438.5,89.5 438.4,90.3" fill="rgba(0,0,0,0.145)" stroke="rgba(25,25,25,0.95)" stroke-width="0.6" stroke-linejoin="round"/>
<polygon points="436.7,91.0 436.6,91.5 436.5,91.9 436.5,92.5 436.3,93.0 435.9,93.5 435.2,93.8 434.5,93.9 433.7,94.0 433.0,94.0 432.3,93.9 431.6,93.8 431.0,93.6 430.5,93.2 430.1,92.8 429.7,92.4 429.3,92.0 428.8,91.5 428.5,91.0 428.5,90.4 428.8,89.9 429.4,89.5 430.0,89.2 430.6,88.9 431.1,88.6 431.6,88.3 432.3,88.1 433.0,88.0 433.7,88.0 434.4,88.2 435.1,88.4 435.8,88.6 436.4,88.9 436.8,89.4 437.0,89.9 436.9,90.5" fill="rgba(0,0,0,0.145)" stroke="rgba(25,25,25,0.95)" stroke-width="0.6" stroke-linejoin="round"/>
<polygon points="435.6,91.0 435.5,91.3 435.5,91.6 435.4,92.0 435.3,92.4 435.0,92.7 434.5,92.9 434.0,93.0 433.5,92.9 433.0,92.8 432.6,92.8 432.1,92.8 431.6,92.7 431.2,92.5 430.9,92.3 430.6,92.0 430.4,91.7 430.2,91.4 430.1,91.0 430.1,90.6 430.3,90.3 430.6,90.0 431.1,89.8 431.4,89.6 431.8,89.4 432.1,89.2 432.5,89.0 433.0,88.8 433.5,88.9 434.0,89.0 434.4,89.2 434.8,89.5 435.1,89.7 435.4,90.0 435.6,90.3 435.6,90.7" fill="rgba(0,0,0,0.145)" stroke="rgba(25,25,25,0.95)" stroke-width="0.6" stroke-linejoin="round"/>
<polygon points="434.4,91.0 434.4,91.2 434.3,91.3 434.2,91.5 434.1,91.7 434.0,91.8 433.7,91.9 433.5,91.9 433.2,91.9 433.0,91.9 432.8,91.9 432.6,91.9 432.3,91.9 432.1,91.8 431.9,91.7 431.7,91.5 431.7,91.4 431.6,91.2 431.6,91.0 431.6,90.8 431.7,90.7 431.8,90.5 432.0,90.4 432.2,90.3 432.4,90.2 432.5,90.1 432.7,90.0 433.0,89.9 433.3,89.9 433.5,90.0 433.7,90.1 433.8,90.3 434.0,90.4 434.1,90.5 434.3,90.7 434.4,90.8" fill="rgba(0,0,0,0.145)" stroke="rgba(25,25,25,0.95)" stroke-width="0.6" stroke-linejoin="round"/>
<rect x="425.90" y="86.00" width="1.4" height="11.00" fill="#3a3a3a"/>
</g>
<rect x="425.90" y="60.40" width="39.60" height="39.80" fill="none" stroke="#a4a4a4" stroke-width="0.75"/>
<text x="426.60" y="65.80" font-size="5.85" text-anchor="start" fill="#000" stroke="#000" stroke-width="0.1">25.3</text>
<text x="464.90" y="65.80" font-size="5.85" text-anchor="end" fill="#000" stroke="#000" stroke-width="0.1">4.77</text>
<text x="426.60" y="99.70" font-size="5.85" text-anchor="start" fill="#000" stroke="#000" stroke-width="0.1">64.8</text>
<text x="464.90" y="99.70" font-size="5.85" text-anchor="end" fill="#000" stroke="#000" stroke-width="0.1">5.13</text>
<line x1="420.30" y1="63.70" x2="423.90" y2="63.70" stroke="#8c8c8c" stroke-width="0.9"/>
<line x1="420.30" y1="73.14" x2="423.90" y2="73.14" stroke="#8c8c8c" stroke-width="0.9"/>
<line x1="420.90" y1="82.29" x2="423.90" y2="82.29" stroke="#8c8c8c" stroke-width="0.9"/>
<line x1="421.50" y1="91.84" x2="423.90" y2="91.84" stroke="#8c8c8c" stroke-width="0.9"/>
<line x1="423.70" y1="95.03" x2="423.70" y2="96.62" stroke="#999" stroke-width="0.7"/>
<line x1="429.86" y1="103.10" x2="431.44" y2="103.10" stroke="#a0a0a0" stroke-width="0.9"/>
<line x1="433.03" y1="103.10" x2="435.40" y2="103.10" stroke="#a0a0a0" stroke-width="0.9"/>
<line x1="442.93" y1="103.10" x2="446.49" y2="103.10" stroke="#a0a0a0" stroke-width="0.9"/>
<line x1="450.85" y1="103.10" x2="455.20" y2="103.10" stroke="#a0a0a0" stroke-width="0.9"/>
<line x1="459.16" y1="103.10" x2="463.12" y2="103.10" stroke="#a0a0a0" stroke-width="0.9"/>
<clipPath id="cb31"><rect x="272.80" y="111.40" width="40.00" height="39.20"/></clipPath>
<line x1="291.50" y1="111.40" x2="291.50" y2="150.60" stroke="#b4b4b4" stroke-width="0.8"/>
<line x1="272.80" y1="136.20" x2="312.80" y2="136.20" stroke="#ccc" stroke-width="1.1"/>
<g clip-path="url(#cb31)">
<polygon points="302.0,142.8 301.3,144.7 300.6,145.9 299.9,146.9 298.9,147.7 297.4,148.3 295.4,148.6 293.3,148.8 290.9,149.1 287.0,149.5 282.6,149.9 279.6,150.0 277.1,149.7 275.6,148.8 275.0,147.8 274.8,146.7 274.5,145.7 273.8,144.6 273.0,142.8 272.6,140.8 272.9,139.6 273.7,138.6 274.9,137.8 276.2,137.1 277.7,136.4 279.8,135.8 282.6,135.6 287.0,135.9 290.9,136.4 293.0,137.0 294.8,137.4 296.8,137.6 299.0,137.8 301.0,138.4 302.2,139.3 302.5,140.7" fill="rgba(0,0,0,0.050)" stroke="rgba(25,25,25,0.70)" stroke-width="0.45" stroke-linejoin="round"/>
<polygon points="300.0,142.8 298.9,144.4 298.0,145.3 297.4,146.1 297.0,146.9 296.2,147.7 294.9,148.3 293.0,148.6 290.7,148.7 287.0,148.8 283.2,148.9 280.7,148.9 278.7,148.5 277.4,147.9 276.8,147.0 276.6,146.1 276.3,145.2 275.6,144.3 274.6,142.8 273.8,141.0 273.7,139.8 274.6,138.9 276.0,138.2 277.7,137.8 279.4,137.5 281.2,137.2 283.4,137.0 287.0,136.9 290.5,137.1 292.5,137.5 294.2,137.8 295.9,138.1 297.8,138.3 299.5,138.8 300.6,139.7 300.7,140.9" fill="rgba(0,0,0,0.050)" stroke="rgba(25,25,25,0.70)" stroke-width="0.45" stroke-linejoin="round"/>
<polygon points="297.8,142.8 296.9,144.1 296.2,144.9 295.8,145.6 295.6,146.4 295.2,147.2 294.2,147.8 292.5,148.1 290.3,148.2 287.0,148.0 283.9,147.8 282.0,147.6 280.4,147.4 279.2,147.0 278.3,146.4 277.8,145.7 277.4,145.0 276.8,144.2 276.0,142.8 275.4,141.2 275.4,140.2 276.2,139.4 277.6,138.9 279.3,138.7 280.9,138.6 282.4,138.4 284.1,138.1 287.0,137.8 290.2,137.7 292.1,137.8 293.7,138.1 295.0,138.5 296.3,139.0 297.4,139.5 298.2,140.3 298.3,141.3" fill="rgba(0,0,0,0.050)" stroke="rgba(25,25,25,0.70)" stroke-width="0.45" stroke-linejoin="round"/>
<polygon points="295.8,142.8 295.5,144.0 295.0,144.6 294.7,145.2 294.4,145.9 294.0,146.5 293.1,147.1 291.7,147.3 289.8,147.3 287.0,147.0 284.6,146.7 283.2,146.5 281.9,146.4 280.6,146.2 279.5,145.9 278.7,145.4 278.2,144.8 277.9,144.0 277.7,142.8 277.6,141.5 277.7,140.7 278.3,140.1 279.4,139.7 280.8,139.5 282.1,139.4 283.3,139.2 284.6,138.9 287.0,138.5 289.8,138.3 291.6,138.3 292.9,138.7 293.8,139.2 294.4,139.7 295.0,140.3 295.6,140.9 295.9,141.6" fill="rgba(0,0,0,0.050)" stroke="rgba(25,25,25,0.70)" stroke-width="0.45" stroke-linejoin="round"/>
<polygon points="294.2,142.8 294.3,143.8 294.0,144.4 293.6,144.9 293.1,145.3 292.5,145.7 291.7,146.1 290.6,146.3 289.1,146.3 287.0,146.1 285.1,145.8 284.0,145.7 282.9,145.6 281.8,145.6 280.6,145.4 279.8,145.1 279.5,144.5 279.5,143.8 279.7,142.8 280.0,141.8 280.2,141.2 280.5,140.7 281.1,140.4 281.9,140.1 282.9,139.9 283.9,139.8 285.0,139.5 287.0,139.3 289.3,139.1 290.8,139.2 291.8,139.5 292.3,140.0 292.6,140.5 292.9,140.9 293.4,141.4 293.9,141.9" fill="rgba(0,0,0,0.050)" stroke="rgba(25,25,25,0.70)" stroke-width="0.45" stroke-linejoin="round"/>
<polygon points="292.7,142.8 292.9,143.6 292.7,144.1 292.2,144.4 291.5,144.7 290.9,144.9 290.3,145.1 289.5,145.2 288.5,145.3 287.0,145.3 285.5,145.2 284.7,145.1 283.8,145.0 283.0,145.0 282.1,144.8 281.5,144.5 281.3,144.1 281.4,143.6 281.8,142.8 282.1,142.1 282.3,141.7 282.4,141.3 282.6,141.0 283.0,140.7 283.6,140.5 284.4,140.3 285.4,140.2 287.0,140.2 288.7,140.1 289.7,140.2 290.5,140.4 290.9,140.7 291.1,141.1 291.3,141.4 291.7,141.7 292.2,142.1" fill="rgba(0,0,0,0.050)" stroke="rgba(25,25,25,0.70)" stroke-width="0.45" stroke-linejoin="round"/>
<polygon points="290.9,142.8 291.0,143.3 290.8,143.7 290.4,143.9 289.9,144.0 289.4,144.1 289.0,144.2 288.6,144.3 288.0,144.4 287.0,144.5 285.9,144.5 285.3,144.4 284.8,144.4 284.3,144.2 283.8,144.1 283.5,143.9 283.3,143.6 283.4,143.3 283.6,142.8 283.8,142.4 283.9,142.1 283.9,141.8 283.9,141.5 284.1,141.3 284.6,141.1 285.2,141.1 285.9,141.1 287.0,141.1 288.0,141.2 288.7,141.2 289.2,141.3 289.6,141.4 289.8,141.6 290.0,141.8 290.3,142.1 290.6,142.3" fill="rgba(0,0,0,0.050)" stroke="rgba(25,25,25,0.70)" stroke-width="0.45" stroke-linejoin="round"/>
<polygon points="289.9,139.0 289.8,139.4 289.5,139.8 288.9,140.2 288.2,140.5 287.4,140.8 286.6,141.1 285.8,141.4 284.7,141.7 283.5,141.8 282.3,141.7 281.2,141.4 280.4,141.1 279.7,140.7 279.0,140.5 278.2,140.2 277.5,139.8 277.0,139.4 276.9,139.0 277.0,138.6 277.3,138.1 277.7,137.7 278.2,137.3 279.0,136.9 280.1,136.7 281.3,136.7 282.5,136.7 283.5,136.8 284.5,136.8 285.6,136.7 286.9,136.8 288.0,136.9 288.9,137.2 289.5,137.7 289.7,138.1 289.8,138.6" fill="rgba(0,0,0,0.153)" stroke="rgba(25,25,25,0.95)" stroke-width="0.6" stroke-linejoin="round"/>
<polygon points="287.9,139.0 288.0,139.3 288.0,139.6 287.8,139.9 287.3,140.2 286.7,140.5 286.0,140.6 285.2,140.8 284.4,140.9 283.5,141.0 282.6,141.0 281.8,140.8 281.2,140.5 280.7,140.3 280.2,140.1 279.5,139.9 278.8,139.7 278.3,139.4 278.2,139.0 278.4,138.7 278.8,138.3 279.3,138.1 279.8,137.8 280.4,137.6 281.1,137.4 281.9,137.3 282.7,137.3 283.5,137.3 284.3,137.3 285.2,137.2 286.1,137.3 287.0,137.4 287.6,137.7 288.0,138.0 288.0,138.4 287.9,138.7" fill="rgba(0,0,0,0.153)" stroke="rgba(25,25,25,0.95)" stroke-width="0.6" stroke-linejoin="round"/>
<polygon points="286.4,139.0 286.5,139.2 286.5,139.4 286.5,139.7 286.2,139.9 285.8,140.0 285.2,140.1 284.6,140.2 284.1,140.2 283.5,140.2 282.9,140.2 282.4,140.2 282.0,140.0 281.6,139.9 281.2,139.7 280.7,139.6 280.3,139.4 280.0,139.2 279.9,139.0 280.1,138.8 280.4,138.6 280.9,138.4 281.2,138.3 281.6,138.1 281.9,138.0 282.4,137.8 282.9,137.7 283.5,137.7 284.1,137.8 284.6,137.8 285.2,137.9 285.7,138.0 286.2,138.1 286.4,138.4 286.4,138.6 286.4,138.8" fill="rgba(0,0,0,0.153)" stroke="rgba(25,25,25,0.95)" stroke-width="0.6" stroke-linejoin="round"/>
<polygon points="285.0,139.0 285.0,139.1 285.1,139.2 285.0,139.3 284.9,139.4 284.6,139.5 284.3,139.6 284.0,139.6 283.8,139.6 283.5,139.6 283.2,139.6 282.9,139.6 282.7,139.5 282.4,139.5 282.2,139.4 282.1,139.3 281.9,139.2 281.8,139.1 281.8,139.0 281.8,138.9 282.0,138.8 282.2,138.7 282.4,138.6 282.6,138.6 282.7,138.5 282.9,138.4 283.2,138.3 283.5,138.3 283.8,138.4 284.1,138.4 284.3,138.5 284.5,138.5 284.7,138.6 284.9,138.7 285.0,138.8 285.0,138.9" fill="rgba(0,0,0,0.153)" stroke="rgba(25,25,25,0.95)" stroke-width="0.6" stroke-linejoin="round"/>
<rect x="272.80" y="136.00" width="1.4" height="13.00" fill="#3a3a3a"/>
</g>
<rect x="272.80" y="111.40" width="40.00" height="39.20" fill="none" stroke="#a4a4a4" stroke-width="0.75"/>
<text x="273.50" y="116.80" font-size="5.85" text-anchor="start" fill="#000" stroke="#000" stroke-width="0.1">1.77</text>
<text x="312.20" y="116.80" font-size="5.85" text-anchor="end" fill="#000" stroke="#000" stroke-width="0.1">0.61</text>
<text x="273.50" y="150.10" font-size="5.85" text-anchor="start" fill="#000" stroke="#000" stroke-width="0.1">82.2</text>
<text x="312.20" y="150.10" font-size="5.85" text-anchor="end" fill="#000" stroke="#000" stroke-width="0.1">15.4</text>
<line x1="267.20" y1="114.65" x2="270.80" y2="114.65" stroke="#8c8c8c" stroke-width="0.9"/>
<line x1="267.20" y1="123.94" x2="270.80" y2="123.94" stroke="#8c8c8c" stroke-width="0.9"/>
<line x1="267.80" y1="132.96" x2="270.80" y2="132.96" stroke="#8c8c8c" stroke-width="0.9"/>
<line x1="268.40" y1="142.37" x2="270.80" y2="142.37" stroke="#8c8c8c" stroke-width="0.9"/>
<line x1="270.60" y1="145.50" x2="270.60" y2="147.07" stroke="#999" stroke-width="0.7"/>
<line x1="276.80" y1="153.50" x2="278.40" y2="153.50" stroke="#a0a0a0" stroke-width="0.9"/>
<line x1="280.00" y1="153.50" x2="282.40" y2="153.50" stroke="#a0a0a0" stroke-width="0.9"/>
<line x1="290.00" y1="153.50" x2="293.60" y2="153.50" stroke="#a0a0a0" stroke-width="0.9"/>
<line x1="298.00" y1="153.50" x2="302.40" y2="153.50" stroke="#a0a0a0" stroke-width="0.9"/>
<line x1="306.40" y1="153.50" x2="310.40" y2="153.50" stroke="#a0a0a0" stroke-width="0.9"/>
<clipPath id="cb32"><rect x="323.90" y="111.40" width="39.90" height="39.20"/></clipPath>
<line x1="342.40" y1="111.40" x2="342.40" y2="150.60" stroke="#b4b4b4" stroke-width="0.8"/>
<line x1="323.90" y1="136.20" x2="363.80" y2="136.20" stroke="#ccc" stroke-width="1.1"/>
<g clip-path="url(#cb32)">
<polygon points="350.3,142.5 350.2,144.5 349.9,145.7 349.0,146.7 347.8,147.3 346.4,147.9 345.2,148.4 343.8,149.1 341.8,149.8 338.0,150.3 334.0,150.2 331.8,149.6 330.5,148.7 329.6,147.9 328.6,147.1 327.5,146.5 326.4,145.7 325.6,144.5 325.3,142.5 325.5,140.5 325.9,139.2 326.4,138.1 327.1,137.1 328.2,136.3 329.9,135.8 332.1,135.7 334.6,136.0 338.0,136.3 341.2,136.4 343.4,136.2 345.7,136.1 347.8,136.3 349.3,136.9 350.1,137.9 350.3,139.2 350.3,140.5" fill="rgba(0,0,0,0.050)" stroke="rgba(25,25,25,0.70)" stroke-width="0.45" stroke-linejoin="round"/>
<polygon points="347.9,142.5 347.9,144.1 348.0,145.2 347.8,146.2 347.2,147.0 346.1,147.6 344.7,148.1 343.2,148.5 341.3,148.8 338.0,149.1 334.7,149.0 332.8,148.5 331.6,147.8 330.8,147.1 330.0,146.4 328.9,145.9 327.7,145.3 326.5,144.4 326.0,142.5 326.3,140.6 327.1,139.5 328.1,138.8 329.1,138.1 330.1,137.5 331.4,137.0 333.0,136.7 335.0,136.7 338.0,136.8 340.9,136.9 342.9,136.8 344.9,136.8 346.8,136.9 348.1,137.5 348.7,138.5 348.6,139.6 348.2,140.8" fill="rgba(0,0,0,0.050)" stroke="rgba(25,25,25,0.70)" stroke-width="0.45" stroke-linejoin="round"/>
<polygon points="346.3,142.5 346.4,143.9 346.7,144.9 346.8,145.8 346.4,146.7 345.5,147.2 344.0,147.5 342.4,147.6 340.6,147.6 338.0,147.7 335.3,147.6 333.7,147.5 332.5,147.1 331.6,146.6 330.8,146.0 329.9,145.6 328.9,145.0 327.9,144.1 327.5,142.5 327.8,140.8 328.7,140.0 329.9,139.4 330.9,139.0 331.8,138.5 332.6,138.0 333.7,137.5 335.3,137.2 338.0,137.2 340.7,137.3 342.4,137.4 343.9,137.6 345.3,137.9 346.3,138.4 346.8,139.2 346.8,140.1 346.5,141.1" fill="rgba(0,0,0,0.050)" stroke="rgba(25,25,25,0.70)" stroke-width="0.45" stroke-linejoin="round"/>
<polygon points="345.2,142.5 345.3,143.7 345.5,144.5 345.5,145.4 345.2,146.1 344.3,146.5 343.0,146.7 341.6,146.6 340.1,146.5 338.0,146.5 335.9,146.5 334.5,146.6 333.2,146.5 332.2,146.2 331.5,145.7 330.9,145.2 330.3,144.6 329.8,143.8 329.6,142.5 329.8,141.2 330.5,140.5 331.4,140.0 332.3,139.7 332.9,139.3 333.5,138.8 334.3,138.2 335.6,137.8 338.0,137.7 340.4,137.9 341.7,138.2 342.7,138.6 343.6,138.9 344.4,139.3 345.0,139.9 345.3,140.5 345.3,141.3" fill="rgba(0,0,0,0.050)" stroke="rgba(25,25,25,0.70)" stroke-width="0.45" stroke-linejoin="round"/>
<polygon points="344.3,142.5 344.2,143.5 344.1,144.2 343.9,144.7 343.5,145.2 342.9,145.6 341.9,145.7 340.8,145.7 339.6,145.6 338.0,145.6 336.3,145.7 335.1,145.8 333.9,145.9 333.0,145.7 332.4,145.3 332.2,144.7 332.0,144.1 331.9,143.5 331.8,142.5 331.9,141.5 332.1,140.9 332.6,140.5 333.2,140.1 333.7,139.8 334.3,139.4 334.9,139.0 336.0,138.7 338.0,138.6 339.9,138.8 340.9,139.2 341.6,139.6 342.1,139.9 342.8,140.1 343.4,140.4 344.0,140.9 344.3,141.5" fill="rgba(0,0,0,0.050)" stroke="rgba(25,25,25,0.70)" stroke-width="0.45" stroke-linejoin="round"/>
<polygon points="343.1,142.5 342.9,143.3 342.5,143.7 342.2,144.1 341.8,144.4 341.4,144.7 340.8,144.8 340.1,144.9 339.3,144.9 338.0,144.9 336.7,145.0 335.8,145.1 334.9,145.1 334.2,144.9 333.8,144.6 333.7,144.1 333.7,143.7 333.8,143.2 333.7,142.5 333.6,141.8 333.5,141.3 333.7,140.9 334.1,140.6 334.6,140.3 335.1,140.1 335.7,139.9 336.6,139.7 338.0,139.7 339.4,139.8 340.1,140.1 340.6,140.4 341.0,140.6 341.5,140.8 342.1,140.9 342.7,141.2 343.1,141.7" fill="rgba(0,0,0,0.050)" stroke="rgba(25,25,25,0.70)" stroke-width="0.45" stroke-linejoin="round"/>
<polygon points="341.4,142.5 341.2,143.0 340.9,143.3 340.6,143.5 340.3,143.7 340.1,143.9 339.9,144.1 339.5,144.2 338.9,144.3 338.0,144.3 337.1,144.3 336.5,144.2 336.0,144.2 335.6,144.1 335.3,143.8 335.2,143.6 335.2,143.2 335.3,142.9 335.2,142.5 335.0,142.0 334.9,141.7 334.9,141.3 335.2,141.1 335.6,141.0 336.1,140.9 336.6,140.8 337.1,140.8 338.0,140.8 338.9,140.8 339.4,140.9 339.8,141.0 340.1,141.2 340.5,141.3 340.8,141.4 341.2,141.6 341.5,141.9" fill="rgba(0,0,0,0.050)" stroke="rgba(25,25,25,0.70)" stroke-width="0.45" stroke-linejoin="round"/>
<polygon points="343.9,139.0 343.6,139.4 343.2,139.8 342.7,140.2 342.3,140.5 341.8,141.0 341.0,141.4 340.0,141.6 338.7,141.7 337.5,141.6 336.4,141.3 335.5,141.1 334.5,141.0 333.5,140.8 332.6,140.6 331.8,140.3 331.3,139.9 331.1,139.4 330.9,139.0 330.8,138.5 331.0,138.1 331.5,137.7 332.3,137.3 333.4,137.1 334.5,137.0 335.5,136.9 336.5,136.8 337.5,136.6 338.7,136.4 339.9,136.4 341.0,136.6 341.9,137.0 342.5,137.4 343.1,137.8 343.5,138.2 343.9,138.6" fill="rgba(0,0,0,0.145)" stroke="rgba(25,25,25,0.95)" stroke-width="0.6" stroke-linejoin="round"/>
<polygon points="342.3,139.0 342.3,139.3 342.1,139.7 341.8,139.9 341.3,140.2 340.7,140.5 340.1,140.7 339.3,140.9 338.4,140.9 337.5,140.9 336.7,140.7 336.0,140.6 335.3,140.5 334.5,140.4 333.7,140.2 332.9,140.0 332.5,139.7 332.4,139.3 332.5,139.0 332.7,138.7 333.0,138.4 333.3,138.1 333.8,137.8 334.5,137.6 335.2,137.5 336.0,137.4 336.7,137.3 337.5,137.1 338.4,137.0 339.4,137.0 340.2,137.2 340.8,137.5 341.1,137.8 341.4,138.1 341.7,138.4 342.0,138.7" fill="rgba(0,0,0,0.145)" stroke="rgba(25,25,25,0.95)" stroke-width="0.6" stroke-linejoin="round"/>
<polygon points="340.8,139.0 340.9,139.2 340.8,139.5 340.5,139.7 340.1,139.8 339.6,140.0 339.1,140.1 338.6,140.2 338.1,140.2 337.5,140.2 337.0,140.2 336.5,140.1 336.0,140.0 335.4,139.9 334.9,139.8 334.4,139.7 334.1,139.5 334.1,139.2 334.3,139.0 334.5,138.8 334.7,138.6 334.9,138.4 335.1,138.2 335.4,138.0 335.9,137.9 336.4,137.8 336.9,137.8 337.5,137.7 338.1,137.7 338.7,137.7 339.2,137.8 339.6,138.0 339.9,138.2 340.0,138.4 340.2,138.6 340.5,138.8" fill="rgba(0,0,0,0.145)" stroke="rgba(25,25,25,0.95)" stroke-width="0.6" stroke-linejoin="round"/>
<polygon points="339.2,139.0 339.3,139.1 339.2,139.2 339.0,139.3 338.8,139.4 338.5,139.5 338.2,139.5 338.0,139.5 337.8,139.6 337.5,139.6 337.2,139.6 336.9,139.6 336.7,139.5 336.4,139.5 336.2,139.4 336.0,139.3 335.9,139.2 335.8,139.1 335.9,139.0 336.1,138.9 336.2,138.8 336.2,138.7 336.3,138.6 336.4,138.5 336.6,138.4 336.9,138.4 337.2,138.4 337.5,138.4 337.8,138.4 338.0,138.4 338.3,138.5 338.5,138.5 338.7,138.6 338.8,138.7 338.9,138.8 339.1,138.9" fill="rgba(0,0,0,0.145)" stroke="rgba(25,25,25,0.95)" stroke-width="0.6" stroke-linejoin="round"/>
<rect x="323.90" y="137.00" width="1.4" height="11.00" fill="#3a3a3a"/>
</g>
<rect x="323.90" y="111.40" width="39.90" height="39.20" fill="none" stroke="#a4a4a4" stroke-width="0.75"/>
<text x="324.60" y="116.80" font-size="5.85" text-anchor="start" fill="#000" stroke="#000" stroke-width="0.1">2.22</text>
<text x="363.20" y="116.80" font-size="5.85" text-anchor="end" fill="#000" stroke="#000" stroke-width="0.1">0.59</text>
<text x="324.60" y="150.10" font-size="5.85" text-anchor="start" fill="#000" stroke="#000" stroke-width="0.1">78.9</text>
<text x="363.20" y="150.10" font-size="5.85" text-anchor="end" fill="#000" stroke="#000" stroke-width="0.1">18.5</text>
<line x1="318.30" y1="114.65" x2="321.90" y2="114.65" stroke="#8c8c8c" stroke-width="0.9"/>
<line x1="318.30" y1="123.94" x2="321.90" y2="123.94" stroke="#8c8c8c" stroke-width="0.9"/>
<line x1="318.90" y1="132.96" x2="321.90" y2="132.96" stroke="#8c8c8c" stroke-width="0.9"/>
<line x1="319.50" y1="142.37" x2="321.90" y2="142.37" stroke="#8c8c8c" stroke-width="0.9"/>
<line x1="321.70" y1="145.50" x2="321.70" y2="147.07" stroke="#999" stroke-width="0.7"/>
<line x1="327.89" y1="153.50" x2="329.49" y2="153.50" stroke="#a0a0a0" stroke-width="0.9"/>
<line x1="331.08" y1="153.50" x2="333.48" y2="153.50" stroke="#a0a0a0" stroke-width="0.9"/>
<line x1="341.06" y1="153.50" x2="344.65" y2="153.50" stroke="#a0a0a0" stroke-width="0.9"/>
<line x1="349.04" y1="153.50" x2="353.43" y2="153.50" stroke="#a0a0a0" stroke-width="0.9"/>
<line x1="357.42" y1="153.50" x2="361.41" y2="153.50" stroke="#a0a0a0" stroke-width="0.9"/>
<clipPath id="cb33"><rect x="375.40" y="111.40" width="40.10" height="39.20"/></clipPath>
<line x1="394.00" y1="111.40" x2="394.00" y2="150.60" stroke="#b4b4b4" stroke-width="0.8"/>
<line x1="375.40" y1="135.90" x2="415.50" y2="135.90" stroke="#ccc" stroke-width="1.1"/>
<g clip-path="url(#cb33)">
<polygon points="399.4,128.0 399.1,129.9 398.5,131.2 397.7,132.2 397.1,133.3 396.5,134.5 395.6,135.6 394.2,136.5 392.2,136.8 389.5,136.4 387.1,135.7 385.6,135.0 384.3,134.5 382.9,134.0 381.6,133.5 380.5,132.6 379.8,131.4 379.5,130.0 379.4,128.0 379.3,126.0 379.4,124.4 379.9,123.1 381.0,122.1 382.5,121.5 384.2,121.4 385.7,121.3 387.3,121.0 389.5,120.4 392.0,119.9 394.1,119.8 395.8,120.2 397.0,121.1 397.8,122.3 398.3,123.4 398.9,124.7 399.3,126.0" fill="rgba(0,0,0,0.040)" stroke="rgba(25,25,25,0.56)" stroke-width="0.45" stroke-linejoin="round"/>
<polygon points="397.7,128.0 397.9,129.7 397.7,130.9 397.2,131.9 396.4,132.8 395.6,133.6 394.6,134.4 393.4,134.9 391.7,135.2 389.5,134.9 387.5,134.4 386.3,133.8 385.2,133.4 384.0,133.1 382.6,132.8 381.4,132.2 380.7,131.2 380.5,129.8 380.7,128.0 381.1,126.3 381.5,125.2 382.0,124.1 382.7,123.3 383.7,122.6 384.9,122.2 386.2,122.0 387.5,121.7 389.5,121.3 391.7,120.9 393.5,120.8 395.0,121.2 395.9,122.1 396.4,123.2 396.6,124.4 396.8,125.4 397.3,126.5" fill="rgba(0,0,0,0.040)" stroke="rgba(25,25,25,0.56)" stroke-width="0.45" stroke-linejoin="round"/>
<polygon points="396.3,128.0 396.8,129.4 396.8,130.6 396.3,131.5 395.4,132.1 394.5,132.6 393.5,132.9 392.4,133.3 391.2,133.5 389.5,133.5 387.8,133.3 386.7,133.0 385.8,132.6 384.8,132.4 383.7,132.1 382.7,131.5 382.0,130.7 382.0,129.5 382.3,128.0 382.9,126.7 383.4,125.8 383.8,125.1 384.1,124.3 384.6,123.5 385.4,122.9 386.5,122.6 387.8,122.4 389.5,122.3 391.3,122.2 392.7,122.3 393.8,122.6 394.6,123.3 395.0,124.2 395.2,125.1 395.4,125.9 395.8,126.7" fill="rgba(0,0,0,0.040)" stroke="rgba(25,25,25,0.56)" stroke-width="0.45" stroke-linejoin="round"/>
<polygon points="395.1,128.0 395.4,129.2 395.3,130.1 394.9,130.8 394.1,131.2 393.2,131.4 392.4,131.6 391.6,131.8 390.8,132.1 389.5,132.3 388.1,132.4 387.1,132.2 386.3,132.0 385.6,131.6 384.9,131.2 384.3,130.7 383.9,130.0 383.8,129.1 384.1,128.0 384.5,127.0 384.9,126.4 385.1,125.7 385.2,125.0 385.5,124.3 386.1,123.7 387.0,123.4 388.1,123.4 389.5,123.5 390.8,123.7 391.8,123.9 392.6,124.1 393.3,124.5 393.8,125.0 394.1,125.6 394.3,126.3 394.7,127.0" fill="rgba(0,0,0,0.040)" stroke="rgba(25,25,25,0.56)" stroke-width="0.45" stroke-linejoin="round"/>
<polygon points="393.6,128.0 393.7,128.8 393.6,129.5 393.3,130.0 392.8,130.3 392.1,130.4 391.5,130.5 391.0,130.7 390.4,131.0 389.5,131.2 388.4,131.4 387.6,131.3 387.0,131.1 386.6,130.7 386.3,130.2 386.0,129.8 385.7,129.3 385.6,128.8 385.6,128.0 385.8,127.3 386.0,126.7 386.2,126.3 386.3,125.8 386.5,125.3 386.9,124.8 387.6,124.6 388.5,124.6 389.5,124.8 390.4,125.1 391.0,125.2 391.6,125.4 392.2,125.5 392.7,125.7 393.1,126.1 393.3,126.6 393.5,127.2" fill="rgba(0,0,0,0.040)" stroke="rgba(25,25,25,0.56)" stroke-width="0.45" stroke-linejoin="round"/>
<polygon points="392.0,128.0 391.9,128.5 391.8,128.8 391.7,129.1 391.5,129.4 391.2,129.5 390.8,129.7 390.5,129.8 390.1,129.9 389.5,130.1 388.8,130.2 388.3,130.1 387.9,129.9 387.7,129.6 387.6,129.3 387.5,129.0 387.3,128.8 387.1,128.5 387.0,128.0 387.0,127.5 387.1,127.1 387.3,126.8 387.4,126.6 387.7,126.3 388.0,126.1 388.4,126.0 388.9,126.0 389.5,126.1 390.1,126.2 390.4,126.3 390.8,126.4 391.2,126.4 391.6,126.5 391.9,126.7 392.1,127.1 392.1,127.5" fill="rgba(0,0,0,0.040)" stroke="rgba(25,25,25,0.56)" stroke-width="0.45" stroke-linejoin="round"/>
<polygon points="391.3,126.5 391.2,127.3 391.2,128.2 391.2,129.1 391.0,130.0 390.7,130.8 390.1,131.2 389.5,131.3 389.0,131.2 388.5,131.0 388.0,131.0 387.5,131.0 387.0,130.8 386.5,130.4 386.2,129.7 385.9,129.0 385.6,128.2 385.4,127.4 385.3,126.5 385.3,125.6 385.6,124.7 386.0,124.1 386.4,123.6 386.8,123.1 387.1,122.5 387.5,121.9 388.0,121.3 388.5,121.0 389.1,121.2 389.6,121.6 390.0,122.1 390.4,122.7 390.8,123.3 391.1,124.0 391.3,124.8 391.3,125.7" fill="rgba(0,0,0,0.119)" stroke="rgba(25,25,25,0.91)" stroke-width="0.6" stroke-linejoin="round"/>
<polygon points="390.4,126.5 390.4,127.0 390.3,127.6 390.2,128.1 390.0,128.6 389.8,129.1 389.5,129.3 389.1,129.4 388.8,129.3 388.5,129.3 388.2,129.3 387.9,129.3 387.5,129.3 387.2,129.1 386.9,128.7 386.8,128.1 386.7,127.6 386.7,127.0 386.6,126.5 386.7,126.0 386.8,125.4 386.9,125.0 387.2,124.6 387.4,124.3 387.6,123.9 387.8,123.5 388.1,123.2 388.5,123.0 388.9,123.1 389.2,123.5 389.4,123.9 389.6,124.3 389.8,124.7 390.0,125.0 390.2,125.4 390.4,126.0" fill="rgba(0,0,0,0.119)" stroke="rgba(25,25,25,0.91)" stroke-width="0.6" stroke-linejoin="round"/>
<polygon points="389.3,126.5 389.3,126.7 389.2,126.9 389.1,127.1 389.1,127.3 389.0,127.5 388.9,127.6 388.7,127.6 388.6,127.7 388.5,127.7 388.4,127.7 388.2,127.7 388.1,127.7 388.0,127.6 387.9,127.4 387.8,127.2 387.8,126.9 387.8,126.7 387.8,126.5 387.8,126.3 387.8,126.1 387.8,125.9 387.9,125.7 388.0,125.5 388.1,125.4 388.2,125.3 388.4,125.2 388.5,125.2 388.6,125.2 388.8,125.3 388.9,125.5 388.9,125.7 389.0,125.8 389.1,125.9 389.2,126.1 389.3,126.3" fill="rgba(0,0,0,0.119)" stroke="rgba(25,25,25,0.91)" stroke-width="0.6" stroke-linejoin="round"/>
<polygon points="398.5,142.5 399.2,144.4 399.2,145.8 398.4,146.9 396.9,147.6 395.0,147.9 393.2,148.1 391.6,148.4 389.8,148.8 387.0,149.2 384.0,149.3 381.9,149.1 380.2,148.6 378.8,148.1 377.4,147.5 376.1,146.7 375.2,145.7 375.0,144.4 375.5,142.5 376.4,140.9 377.3,139.9 377.8,138.9 378.1,137.9 378.6,136.8 379.7,135.9 381.5,135.4 383.8,135.4 387.0,135.6 390.0,135.8 392.0,136.1 393.7,136.4 395.1,137.0 396.1,137.8 396.7,138.8 397.1,139.8 397.7,140.8" fill="rgba(0,0,0,0.050)" stroke="rgba(25,25,25,0.70)" stroke-width="0.45" stroke-linejoin="round"/>
<polygon points="397.3,142.5 397.5,144.1 397.3,145.3 396.6,146.2 395.3,146.8 393.8,147.1 392.3,147.3 390.9,147.5 389.4,148.0 387.0,148.5 384.2,148.8 382.2,148.7 380.7,148.2 379.6,147.5 378.8,146.7 378.1,146.0 377.5,145.1 377.1,144.0 377.2,142.5 377.6,141.0 378.1,140.1 378.6,139.2 379.0,138.3 379.5,137.4 380.5,136.6 382.1,136.2 384.2,136.2 387.0,136.6 389.4,137.0 391.0,137.3 392.5,137.6 393.9,137.8 395.2,138.3 396.1,139.0 396.7,139.9 397.0,140.9" fill="rgba(0,0,0,0.050)" stroke="rgba(25,25,25,0.70)" stroke-width="0.45" stroke-linejoin="round"/>
<polygon points="395.7,142.5 395.4,143.8 395.1,144.7 394.7,145.5 393.9,146.1 392.9,146.5 391.7,146.7 390.5,147.0 389.2,147.4 387.0,147.8 384.5,148.0 382.8,147.9 381.5,147.5 380.7,146.7 380.3,145.9 380.0,145.2 379.5,144.6 378.9,143.8 378.4,142.5 378.4,141.2 378.7,140.2 379.2,139.5 379.9,138.8 380.6,138.2 381.6,137.6 382.9,137.3 384.7,137.3 387.0,137.6 389.0,137.9 390.3,138.2 391.6,138.3 393.0,138.4 394.4,138.7 395.4,139.2 395.9,140.1 395.9,141.1" fill="rgba(0,0,0,0.050)" stroke="rgba(25,25,25,0.70)" stroke-width="0.45" stroke-linejoin="round"/>
<polygon points="394.0,142.5 393.5,143.5 393.2,144.2 393.1,144.9 392.8,145.5 392.2,146.0 391.3,146.3 390.2,146.6 388.9,146.7 387.0,146.9 385.0,147.0 383.6,146.9 382.6,146.5 381.9,145.9 381.6,145.3 381.3,144.7 380.9,144.2 380.2,143.6 379.6,142.5 379.3,141.3 379.5,140.5 380.2,139.9 381.0,139.4 381.9,139.1 382.8,138.7 383.9,138.5 385.1,138.3 387.0,138.4 388.7,138.6 389.9,138.8 391.0,138.9 392.2,139.0 393.3,139.2 394.2,139.7 394.6,140.4 394.4,141.3" fill="rgba(0,0,0,0.050)" stroke="rgba(25,25,25,0.70)" stroke-width="0.45" stroke-linejoin="round"/>
<polygon points="392.4,142.5 392.0,143.3 391.9,143.8 391.8,144.4 391.7,145.0 391.4,145.5 390.7,145.8 389.7,146.0 388.5,146.0 387.0,145.9 385.5,145.8 384.5,145.7 383.6,145.5 383.0,145.2 382.6,144.8 382.3,144.3 381.9,143.9 381.4,143.4 380.9,142.5 380.7,141.5 380.9,140.8 381.5,140.4 382.4,140.1 383.2,139.9 383.9,139.7 384.7,139.5 385.5,139.2 387.0,139.1 388.5,139.1 389.5,139.2 390.4,139.4 391.2,139.7 392.0,139.9 392.5,140.4 392.8,140.9 392.7,141.6" fill="rgba(0,0,0,0.050)" stroke="rgba(25,25,25,0.70)" stroke-width="0.45" stroke-linejoin="round"/>
<polygon points="391.1,142.5 390.9,143.1 390.8,143.5 390.8,144.0 390.7,144.4 390.4,144.8 389.8,145.1 389.0,145.1 388.1,145.0 387.0,144.9 386.0,144.8 385.3,144.7 384.6,144.7 383.9,144.6 383.4,144.3 383.1,144.0 382.9,143.6 382.7,143.2 382.5,142.5 382.4,141.8 382.6,141.3 383.0,141.0 383.6,140.8 384.2,140.6 384.8,140.5 385.3,140.3 385.9,140.0 387.0,139.8 388.2,139.8 389.0,139.9 389.6,140.1 390.1,140.4 390.5,140.7 390.8,141.0 391.1,141.4 391.2,141.8" fill="rgba(0,0,0,0.050)" stroke="rgba(25,25,25,0.70)" stroke-width="0.45" stroke-linejoin="round"/>
<polygon points="389.9,142.5 389.9,142.9 389.8,143.2 389.6,143.5 389.4,143.8 389.2,144.0 388.8,144.1 388.3,144.2 387.7,144.1 387.0,144.0 386.3,144.0 385.9,144.0 385.4,144.0 384.9,143.9 384.5,143.8 384.2,143.6 384.1,143.3 384.1,142.9 384.2,142.5 384.2,142.1 384.3,141.8 384.5,141.5 384.7,141.3 385.1,141.2 385.4,141.1 385.8,140.9 386.2,140.8 387.0,140.6 387.8,140.6 388.4,140.7 388.7,140.9 389.0,141.2 389.1,141.4 389.4,141.6 389.6,141.8 389.8,142.1" fill="rgba(0,0,0,0.050)" stroke="rgba(25,25,25,0.70)" stroke-width="0.45" stroke-linejoin="round"/>
<polygon points="392.4,139.0 392.0,139.5 391.1,140.0 390.1,140.3 389.2,140.6 388.4,141.0 387.6,141.3 386.6,141.6 385.3,141.8 384.0,141.8 382.7,141.8 381.4,141.7 380.1,141.5 378.8,141.3 377.8,140.9 377.3,140.4 377.2,139.9 377.4,139.4 377.4,139.0 377.2,138.6 377.1,138.1 377.2,137.5 377.7,137.0 378.8,136.7 380.1,136.5 381.4,136.4 382.7,136.3 384.0,136.2 385.3,136.2 386.5,136.4 387.6,136.7 388.5,137.0 389.3,137.3 390.3,137.6 391.3,138.0 392.1,138.5" fill="rgba(0,0,0,0.153)" stroke="rgba(25,25,25,0.95)" stroke-width="0.6" stroke-linejoin="round"/>
<polygon points="390.1,139.0 389.8,139.4 389.2,139.7 388.5,140.0 387.8,140.2 387.3,140.4 386.7,140.8 386.0,141.0 385.1,141.2 384.0,141.3 383.0,141.2 382.0,141.0 381.2,140.8 380.4,140.6 379.7,140.3 379.2,140.0 378.9,139.7 378.8,139.3 378.8,139.0 378.7,138.7 378.6,138.3 378.7,137.9 379.2,137.5 380.0,137.2 381.1,137.1 382.1,137.1 383.1,137.1 384.0,137.1 384.9,137.0 385.9,137.1 386.8,137.2 387.6,137.4 388.3,137.6 388.9,137.9 389.5,138.3 389.9,138.6" fill="rgba(0,0,0,0.153)" stroke="rgba(25,25,25,0.95)" stroke-width="0.6" stroke-linejoin="round"/>
<polygon points="387.7,139.0 387.7,139.2 387.4,139.5 387.0,139.7 386.6,139.8 386.3,140.0 385.9,140.2 385.4,140.4 384.7,140.5 384.0,140.6 383.3,140.5 382.7,140.3 382.3,140.1 381.8,140.0 381.3,139.8 380.8,139.7 380.5,139.5 380.3,139.2 380.2,139.0 380.3,138.8 380.4,138.5 380.6,138.3 380.9,138.0 381.4,137.9 382.1,137.8 382.8,137.8 383.4,137.8 384.0,137.8 384.6,137.7 385.3,137.7 386.0,137.7 386.6,137.8 387.1,138.0 387.3,138.3 387.5,138.5 387.7,138.8" fill="rgba(0,0,0,0.153)" stroke="rgba(25,25,25,0.95)" stroke-width="0.6" stroke-linejoin="round"/>
<polygon points="385.7,139.0 385.8,139.1 385.8,139.2 385.6,139.4 385.4,139.5 385.2,139.5 385.0,139.6 384.7,139.7 384.4,139.7 384.0,139.7 383.7,139.7 383.4,139.6 383.2,139.5 382.9,139.5 382.7,139.4 382.4,139.3 382.1,139.3 382.0,139.1 382.0,139.0 382.1,138.9 382.2,138.8 382.4,138.7 382.6,138.6 382.8,138.5 383.1,138.4 383.4,138.4 383.7,138.4 384.0,138.3 384.3,138.3 384.7,138.3 385.0,138.3 385.3,138.4 385.5,138.5 385.6,138.6 385.7,138.8 385.7,138.9" fill="rgba(0,0,0,0.153)" stroke="rgba(25,25,25,0.95)" stroke-width="0.6" stroke-linejoin="round"/>
<rect x="375.40" y="136.00" width="1.4" height="13.00" fill="#3a3a3a"/>
</g>
<rect x="375.40" y="111.40" width="40.10" height="39.20" fill="none" stroke="#a4a4a4" stroke-width="0.75"/>
<text x="376.10" y="116.80" font-size="5.85" text-anchor="start" fill="#000" stroke="#000" stroke-width="0.1">18.7</text>
<text x="414.90" y="116.80" font-size="5.85" text-anchor="end" fill="#000" stroke="#000" stroke-width="0.1">3.3</text>
<text x="376.10" y="150.10" font-size="5.85" text-anchor="start" fill="#000" stroke="#000" stroke-width="0.1">69.3</text>
<text x="414.90" y="150.10" font-size="5.85" text-anchor="end" fill="#000" stroke="#000" stroke-width="0.1">8.71</text>
<line x1="369.80" y1="114.65" x2="373.40" y2="114.65" stroke="#8c8c8c" stroke-width="0.9"/>
<line x1="369.80" y1="123.94" x2="373.40" y2="123.94" stroke="#8c8c8c" stroke-width="0.9"/>
<line x1="370.40" y1="132.96" x2="373.40" y2="132.96" stroke="#8c8c8c" stroke-width="0.9"/>
<line x1="371.00" y1="142.37" x2="373.40" y2="142.37" stroke="#8c8c8c" stroke-width="0.9"/>
<line x1="373.20" y1="145.50" x2="373.20" y2="147.07" stroke="#999" stroke-width="0.7"/>
<line x1="379.41" y1="153.50" x2="381.01" y2="153.50" stroke="#a0a0a0" stroke-width="0.9"/>
<line x1="382.62" y1="153.50" x2="385.02" y2="153.50" stroke="#a0a0a0" stroke-width="0.9"/>
<line x1="392.64" y1="153.50" x2="396.25" y2="153.50" stroke="#a0a0a0" stroke-width="0.9"/>
<line x1="400.66" y1="153.50" x2="405.07" y2="153.50" stroke="#a0a0a0" stroke-width="0.9"/>
<line x1="409.08" y1="153.50" x2="413.09" y2="153.50" stroke="#a0a0a0" stroke-width="0.9"/>
<clipPath id="cb34"><rect x="425.90" y="111.40" width="40.10" height="39.60"/></clipPath>
<line x1="444.40" y1="111.40" x2="444.40" y2="151.00" stroke="#b4b4b4" stroke-width="0.8"/>
<line x1="425.90" y1="136.80" x2="466.00" y2="136.80" stroke="#ccc" stroke-width="1.1"/>
<g clip-path="url(#cb34)">
<polygon points="450.9,128.0 450.7,129.4 450.5,130.8 450.4,132.3 449.9,133.9 449.0,135.3 447.5,136.1 445.7,136.3 444.0,136.1 442.5,135.8 441.1,135.6 439.6,135.5 438.1,135.2 436.7,134.6 435.5,133.5 434.7,132.3 434.0,130.9 433.3,129.5 432.9,128.0 433.0,126.4 433.6,124.9 434.8,123.8 436.1,123.0 437.4,122.3 438.5,121.4 439.6,120.4 440.9,119.4 442.5,118.8 444.2,118.9 445.8,119.5 447.1,120.5 448.2,121.5 449.3,122.6 450.2,123.8 450.9,125.1 451.1,126.6" fill="rgba(0,0,0,0.030)" stroke="rgba(25,25,25,0.42)" stroke-width="0.45" stroke-linejoin="round"/>
<polygon points="449.3,128.0 449.2,129.1 448.9,130.2 448.5,131.3 448.0,132.3 447.2,133.3 446.1,133.9 444.8,134.1 443.6,133.9 442.5,133.7 441.5,133.6 440.3,133.6 439.1,133.6 437.8,133.2 436.9,132.5 436.2,131.4 436.0,130.2 435.9,129.1 435.8,128.0 435.9,126.9 436.2,125.8 436.8,124.9 437.6,124.1 438.5,123.5 439.3,122.8 440.2,122.1 441.3,121.3 442.5,120.9 443.8,121.0 445.0,121.6 445.8,122.5 446.5,123.5 447.2,124.3 447.9,125.0 448.7,125.9 449.2,126.9" fill="rgba(0,0,0,0.030)" stroke="rgba(25,25,25,0.42)" stroke-width="0.45" stroke-linejoin="round"/>
<polygon points="447.4,128.0 447.3,128.8 446.9,129.5 446.4,130.1 445.9,130.7 445.4,131.2 444.7,131.7 444.0,131.9 443.2,132.0 442.5,131.9 441.8,131.9 441.0,131.9 440.2,131.8 439.3,131.6 438.6,131.1 438.3,130.3 438.2,129.5 438.3,128.7 438.4,128.0 438.4,127.3 438.4,126.6 438.6,125.9 439.0,125.2 439.6,124.7 440.2,124.3 440.9,123.9 441.7,123.6 442.5,123.4 443.3,123.5 444.1,123.9 444.7,124.5 445.1,125.1 445.5,125.6 446.1,126.0 446.7,126.6 447.2,127.2" fill="rgba(0,0,0,0.030)" stroke="rgba(25,25,25,0.42)" stroke-width="0.45" stroke-linejoin="round"/>
<polygon points="445.0,128.0 444.9,128.4 444.7,128.8 444.4,129.0 444.1,129.2 443.8,129.5 443.6,129.7 443.3,130.0 442.9,130.1 442.5,130.2 442.1,130.1 441.7,130.0 441.3,129.9 441.0,129.7 440.6,129.5 440.5,129.1 440.4,128.7 440.5,128.3 440.5,128.0 440.5,127.7 440.5,127.3 440.5,126.9 440.6,126.5 440.9,126.2 441.3,126.1 441.7,126.0 442.1,125.9 442.5,125.9 442.9,125.9 443.3,126.0 443.6,126.2 443.8,126.5 444.1,126.7 444.4,127.0 444.7,127.3 444.9,127.6" fill="rgba(0,0,0,0.030)" stroke="rgba(25,25,25,0.42)" stroke-width="0.45" stroke-linejoin="round"/>
<polygon points="451.4,142.0 451.7,143.1 451.7,144.3 451.3,145.4 450.5,146.2 449.6,146.6 448.6,146.9 447.7,147.1 446.9,147.5 446.0,147.8 445.0,147.9 444.1,147.7 443.2,147.2 442.4,146.6 441.7,145.9 441.0,145.2 440.4,144.2 440.2,143.1 440.4,142.0 440.8,141.0 441.4,140.2 441.8,139.4 442.1,138.4 442.5,137.4 443.1,136.5 443.9,135.8 445.0,135.6 446.0,135.8 447.0,136.1 447.9,136.4 448.7,136.8 449.5,137.4 450.1,138.2 450.5,139.2 450.8,140.1 451.0,141.0" fill="rgba(0,0,0,0.025)" stroke="rgba(25,25,25,0.35)" stroke-width="0.45" stroke-linejoin="round"/>
<polygon points="447.4,142.0 447.4,142.3 447.4,142.5 447.3,142.8 447.1,143.0 446.9,143.1 446.6,143.2 446.4,143.2 446.2,143.3 446.0,143.5 445.8,143.5 445.5,143.5 445.3,143.4 445.1,143.2 444.9,143.0 444.8,142.7 444.7,142.5 444.7,142.3 444.6,142.0 444.7,141.8 444.8,141.5 444.9,141.3 445.0,141.1 445.1,140.8 445.2,140.6 445.5,140.4 445.7,140.4 446.0,140.5 446.2,140.6 446.4,140.7 446.6,140.8 446.8,140.9 447.0,141.0 447.2,141.2 447.3,141.5 447.4,141.7" fill="rgba(0,0,0,0.025)" stroke="rgba(25,25,25,0.35)" stroke-width="0.45" stroke-linejoin="round"/>
<polygon points="451.9,143.0 451.5,144.9 450.4,146.0 449.0,146.7 447.6,147.2 446.5,147.8 445.4,148.5 444.0,149.1 442.0,149.5 439.0,149.6 436.0,149.4 433.9,149.3 432.0,149.0 430.3,148.7 428.9,148.0 428.2,147.0 428.2,145.8 428.5,144.6 428.9,143.0 428.8,141.5 428.5,140.3 428.4,139.1 428.9,138.0 430.1,137.2 431.9,136.9 433.9,136.7 436.0,136.6 439.0,136.6 442.0,136.6 444.0,136.9 445.5,137.4 446.6,138.1 447.6,138.7 448.8,139.4 450.1,140.1 451.3,141.2" fill="rgba(0,0,0,0.050)" stroke="rgba(25,25,25,0.70)" stroke-width="0.45" stroke-linejoin="round"/>
<polygon points="449.9,143.0 449.6,144.6 448.7,145.5 447.4,146.1 446.3,146.6 445.4,147.1 444.5,147.8 443.5,148.5 441.8,149.0 439.0,149.2 436.2,149.0 434.5,148.6 433.1,148.1 431.9,147.6 430.8,147.0 430.0,146.3 429.7,145.4 429.6,144.4 429.7,143.0 429.7,141.6 429.5,140.5 429.4,139.5 429.9,138.5 431.0,137.8 432.7,137.6 434.6,137.6 436.6,137.8 439.0,137.8 441.4,137.8 443.3,137.7 444.9,137.9 446.2,138.3 447.2,138.9 448.1,139.6 448.8,140.4 449.5,141.4" fill="rgba(0,0,0,0.050)" stroke="rgba(25,25,25,0.70)" stroke-width="0.45" stroke-linejoin="round"/>
<polygon points="447.6,143.0 447.5,144.3 447.1,145.1 446.3,145.7 445.5,146.2 444.7,146.7 443.9,147.2 442.9,147.8 441.5,148.3 439.0,148.5 436.6,148.2 435.2,147.7 434.2,147.1 433.4,146.6 432.5,146.2 431.6,145.7 430.8,145.1 430.4,144.3 430.3,143.0 430.4,141.7 430.6,140.8 430.9,140.0 431.4,139.3 432.4,138.7 433.8,138.5 435.4,138.6 437.0,138.7 439.0,138.7 441.1,138.6 442.7,138.4 444.4,138.4 445.7,138.7 446.6,139.3 447.0,140.0 447.3,140.9 447.4,141.7" fill="rgba(0,0,0,0.050)" stroke="rgba(25,25,25,0.70)" stroke-width="0.45" stroke-linejoin="round"/>
<polygon points="445.6,143.0 445.7,144.0 445.8,144.8 445.5,145.4 444.9,145.9 444.1,146.3 443.3,146.7 442.3,147.0 441.0,147.3 439.0,147.4 437.0,147.2 435.9,146.8 435.2,146.3 434.5,145.9 433.7,145.6 432.8,145.3 431.9,144.9 431.3,144.1 431.2,143.0 431.5,141.9 432.1,141.2 432.6,140.6 433.2,140.1 433.9,139.7 434.8,139.4 436.0,139.3 437.3,139.3 439.0,139.3 440.8,139.2 442.2,139.0 443.6,139.0 444.7,139.3 445.4,139.8 445.6,140.5 445.6,141.3 445.5,142.0" fill="rgba(0,0,0,0.050)" stroke="rgba(25,25,25,0.70)" stroke-width="0.45" stroke-linejoin="round"/>
<polygon points="444.1,143.0 444.4,143.8 444.6,144.5 444.5,145.1 444.1,145.5 443.3,145.8 442.4,146.0 441.5,146.1 440.5,146.2 439.0,146.2 437.5,146.2 436.6,146.0 435.8,145.7 435.2,145.4 434.6,145.2 433.8,144.9 433.1,144.5 432.7,143.9 432.6,143.0 433.0,142.1 433.6,141.6 434.3,141.2 434.7,140.9 435.2,140.5 435.7,140.2 436.5,139.9 437.5,139.8 439.0,139.7 440.5,139.8 441.6,139.8 442.6,139.9 443.4,140.1 444.0,140.6 444.1,141.1 444.1,141.7 444.0,142.3" fill="rgba(0,0,0,0.050)" stroke="rgba(25,25,25,0.70)" stroke-width="0.45" stroke-linejoin="round"/>
<polygon points="443.0,143.0 443.2,143.6 443.3,144.1 443.3,144.6 442.9,144.9 442.3,145.1 441.5,145.2 440.8,145.2 440.0,145.2 439.0,145.3 437.9,145.3 437.1,145.3 436.4,145.2 435.9,145.0 435.5,144.7 435.1,144.5 434.7,144.1 434.4,143.7 434.4,143.0 434.7,142.4 435.1,142.0 435.6,141.7 435.9,141.5 436.2,141.2 436.5,140.8 437.0,140.5 437.8,140.4 439.0,140.4 440.2,140.5 440.9,140.7 441.5,140.8 442.1,141.0 442.5,141.3 442.8,141.6 442.9,142.0 442.9,142.4" fill="rgba(0,0,0,0.050)" stroke="rgba(25,25,25,0.70)" stroke-width="0.45" stroke-linejoin="round"/>
<polygon points="441.9,143.0 441.9,143.4 441.9,143.7 441.8,144.0 441.5,144.2 441.1,144.4 440.6,144.4 440.1,144.4 439.7,144.4 439.0,144.5 438.3,144.6 437.7,144.6 437.2,144.6 436.8,144.4 436.6,144.2 436.4,144.0 436.3,143.7 436.2,143.4 436.1,143.0 436.2,142.6 436.4,142.3 436.6,142.1 436.8,141.9 437.0,141.7 437.3,141.5 437.6,141.3 438.2,141.2 439.0,141.2 439.8,141.4 440.2,141.5 440.5,141.7 440.9,141.8 441.2,141.9 441.6,142.1 441.8,142.3 441.9,142.6" fill="rgba(0,0,0,0.050)" stroke="rgba(25,25,25,0.70)" stroke-width="0.45" stroke-linejoin="round"/>
<polygon points="442.5,139.5 441.9,140.0 441.4,140.4 441.0,140.9 440.5,141.4 439.8,141.8 438.8,142.1 437.6,142.3 436.3,142.5 435.0,142.6 433.6,142.6 432.2,142.5 431.0,142.3 430.1,141.9 429.5,141.3 429.2,140.8 428.8,140.4 428.2,140.0 427.5,139.5 427.2,138.9 427.3,138.4 428.0,137.9 429.1,137.5 430.2,137.2 431.3,136.9 432.4,136.7 433.7,136.6 435.0,136.6 436.2,136.7 437.4,136.9 438.5,137.1 439.7,137.3 441.0,137.5 442.2,137.8 442.9,138.4 442.9,138.9" fill="rgba(0,0,0,0.153)" stroke="rgba(25,25,25,0.95)" stroke-width="0.6" stroke-linejoin="round"/>
<polygon points="440.5,139.5 440.0,139.9 439.7,140.2 439.4,140.5 439.2,140.9 438.8,141.3 438.1,141.6 437.1,141.8 436.0,141.8 435.0,141.8 434.0,141.7 433.1,141.6 432.2,141.4 431.4,141.2 430.9,140.9 430.5,140.5 430.1,140.2 429.7,139.9 429.2,139.5 428.9,139.1 429.1,138.6 429.7,138.3 430.6,138.0 431.6,137.9 432.4,137.7 433.2,137.6 434.1,137.4 435.0,137.3 436.0,137.3 436.9,137.4 437.8,137.5 438.7,137.8 439.5,138.0 440.2,138.3 440.7,138.7 440.8,139.1" fill="rgba(0,0,0,0.153)" stroke="rgba(25,25,25,0.95)" stroke-width="0.6" stroke-linejoin="round"/>
<polygon points="438.6,139.5 438.4,139.7 438.2,140.0 438.1,140.2 437.9,140.5 437.6,140.7 437.1,141.0 436.4,141.1 435.7,141.0 435.0,141.0 434.4,140.9 433.8,140.8 433.2,140.7 432.6,140.6 432.1,140.5 431.7,140.3 431.5,140.0 431.3,139.8 431.1,139.5 431.1,139.2 431.2,138.9 431.6,138.7 432.1,138.5 432.8,138.4 433.3,138.4 433.9,138.2 434.4,138.1 435.0,138.0 435.7,137.9 436.4,138.0 437.0,138.1 437.5,138.3 437.9,138.5 438.2,138.8 438.5,139.0 438.7,139.2" fill="rgba(0,0,0,0.153)" stroke="rgba(25,25,25,0.95)" stroke-width="0.6" stroke-linejoin="round"/>
<polygon points="436.9,139.5 436.9,139.6 436.8,139.8 436.6,139.9 436.5,140.0 436.3,140.1 436.0,140.2 435.7,140.3 435.3,140.2 435.0,140.2 434.7,140.2 434.4,140.1 434.1,140.1 433.8,140.1 433.5,140.0 433.2,139.9 433.1,139.8 433.1,139.6 433.1,139.5 433.2,139.4 433.2,139.2 433.4,139.1 433.6,139.0 433.9,139.0 434.1,138.9 434.4,138.8 434.7,138.8 435.0,138.7 435.4,138.7 435.7,138.7 436.0,138.8 436.2,138.9 436.3,139.1 436.5,139.2 436.6,139.3 436.8,139.4" fill="rgba(0,0,0,0.153)" stroke="rgba(25,25,25,0.95)" stroke-width="0.6" stroke-linejoin="round"/>
<rect x="425.90" y="136.00" width="1.4" height="12.00" fill="#3a3a3a"/>
</g>
<rect x="425.90" y="111.40" width="40.10" height="39.60" fill="none" stroke="#a4a4a4" stroke-width="0.75"/>
<text x="426.60" y="116.80" font-size="5.85" text-anchor="start" fill="#000" stroke="#000" stroke-width="0.1">19.9</text>
<text x="465.40" y="116.80" font-size="5.85" text-anchor="end" fill="#000" stroke="#000" stroke-width="0.1">4.59</text>
<text x="426.60" y="150.50" font-size="5.85" text-anchor="start" fill="#000" stroke="#000" stroke-width="0.1">70.2</text>
<text x="465.40" y="150.50" font-size="5.85" text-anchor="end" fill="#000" stroke="#000" stroke-width="0.1">5.35</text>
<line x1="420.30" y1="114.69" x2="423.90" y2="114.69" stroke="#8c8c8c" stroke-width="0.9"/>
<line x1="420.30" y1="124.07" x2="423.90" y2="124.07" stroke="#8c8c8c" stroke-width="0.9"/>
<line x1="420.90" y1="133.18" x2="423.90" y2="133.18" stroke="#8c8c8c" stroke-width="0.9"/>
<line x1="421.50" y1="142.68" x2="423.90" y2="142.68" stroke="#8c8c8c" stroke-width="0.9"/>
<line x1="423.70" y1="145.85" x2="423.70" y2="147.44" stroke="#999" stroke-width="0.7"/>
<line x1="429.91" y1="153.90" x2="431.51" y2="153.90" stroke="#a0a0a0" stroke-width="0.9"/>
<line x1="433.12" y1="153.90" x2="435.52" y2="153.90" stroke="#a0a0a0" stroke-width="0.9"/>
<line x1="443.14" y1="153.90" x2="446.75" y2="153.90" stroke="#a0a0a0" stroke-width="0.9"/>
<line x1="451.16" y1="153.90" x2="455.57" y2="153.90" stroke="#a0a0a0" stroke-width="0.9"/>
<line x1="459.58" y1="153.90" x2="463.59" y2="153.90" stroke="#a0a0a0" stroke-width="0.9"/>
<rect x="16.0" y="21" width="2" height="104.8" fill="#000"/>
<polygon points="17,15.2 13.8,21.9 20.2,21.9" fill="#000"/>
<rect x="54" y="164" width="160" height="2" fill="#000"/>
<polygon points="221.3,165 213.7,161.5 213.7,168.5" fill="#000"/>
<text transform="translate(18.0 150.2) rotate(-90)" font-size="8.5" fill="#111" stroke="#111" stroke-width="0.35" textLength="19.2" lengthAdjust="spacingAndGlyphs">IFNγ</text>
<text x="29.80" y="169.30" font-size="9.8" text-anchor="start" fill="#111" textLength="20.10" lengthAdjust="spacingAndGlyphs" stroke="#111" stroke-width="0.4">IL-17</text>
<rect x="260.2" y="20" width="1.9" height="99.4" fill="#000"/>
<polygon points="261.2,14 258,20.7 264.4,20.7" fill="#000"/>
<rect x="307.5" y="165.5" width="153" height="2" fill="#000"/>
<polygon points="467.3,166.5 460.2,163.3 460.2,170" fill="#000"/>
<text transform="translate(264 150.6) rotate(-90)" font-size="9" fill="#111" stroke="#111" stroke-width="0.3" textLength="25.6" lengthAdjust="spacingAndGlyphs">IL-4, 5</text>
<text x="274.40" y="167.90" font-size="9.6" text-anchor="start" fill="#111" textLength="23.70" lengthAdjust="spacingAndGlyphs" stroke="#111" stroke-width="0.3">TNFα</text>
<text x="60.00" y="195.00" font-size="9" text-anchor="start" fill="#111" textLength="18.80" lengthAdjust="spacingAndGlyphs" stroke="#111" stroke-width="0.18">IFNγ</text>
<text x="180.60" y="195.60" font-size="9" text-anchor="start" fill="#111" textLength="20.60" lengthAdjust="spacingAndGlyphs" stroke="#111" stroke-width="0.18">IL-17</text>
<text x="295.60" y="194.40" font-size="9" text-anchor="start" fill="#111" textLength="23.80" lengthAdjust="spacingAndGlyphs" stroke="#111" stroke-width="0.18">TNFα</text>
<text x="416.00" y="195.30" font-size="9" text-anchor="start" fill="#111" textLength="26.30" lengthAdjust="spacingAndGlyphs" stroke="#111" stroke-width="0.18">IL-4, 5</text>
<line x1="20.40" y1="201.00" x2="20.40" y2="262.80" stroke="#444" stroke-width="0.8"/>
<line x1="20.40" y1="262.80" x2="113.00" y2="262.80" stroke="#444" stroke-width="0.8"/>
<line x1="19.10" y1="262.80" x2="20.40" y2="262.80" stroke="#444" stroke-width="0.6"/>
<text x="18.60" y="264.40" font-size="4.6" font-weight="bold" text-anchor="end" fill="#222">0</text>
<line x1="19.10" y1="242.30" x2="20.40" y2="242.30" stroke="#444" stroke-width="0.6"/>
<text x="18.60" y="243.90" font-size="4.6" font-weight="bold" text-anchor="end" fill="#222">2</text>
<line x1="19.10" y1="221.60" x2="20.40" y2="221.60" stroke="#444" stroke-width="0.6"/>
<text x="18.60" y="223.20" font-size="4.6" font-weight="bold" text-anchor="end" fill="#222">4</text>
<line x1="19.10" y1="201.00" x2="20.40" y2="201.00" stroke="#444" stroke-width="0.6"/>
<text x="18.60" y="202.60" font-size="4.6" font-weight="bold" text-anchor="end" fill="#222">6</text>
<rect x="23.00" y="231.80" width="6.40" height="31.00" fill="#ffffff" stroke="#000" stroke-width="0.95"/>
<line x1="26.20" y1="227.30" x2="26.20" y2="231.80" stroke="#000" stroke-width="0.9"/>
<line x1="24.40" y1="227.30" x2="28.00" y2="227.30" stroke="#000" stroke-width="1.1"/>
<rect x="29.40" y="215.00" width="6.60" height="47.80" fill="#6a6a6a" stroke="#000" stroke-width="0.95"/>
<line x1="32.70" y1="211.00" x2="32.70" y2="215.00" stroke="#000" stroke-width="0.9"/>
<line x1="30.90" y1="211.00" x2="34.50" y2="211.00" stroke="#000" stroke-width="1.1"/>
<rect x="36.40" y="258.60" width="5.60" height="4.20" fill="#e6e6e6" stroke="#000" stroke-width="0.95"/>
<rect x="42.00" y="258.80" width="6.60" height="4.00" fill="#0a0a0a" stroke="#000" stroke-width="0.95"/>
<rect x="54.40" y="255.90" width="6.20" height="6.90" fill="#ffffff" stroke="#000" stroke-width="0.95"/>
<line x1="57.50" y1="253.00" x2="57.50" y2="255.90" stroke="#000" stroke-width="0.9"/>
<line x1="55.70" y1="253.00" x2="59.30" y2="253.00" stroke="#000" stroke-width="1.1"/>
<rect x="60.80" y="252.80" width="6.40" height="10.00" fill="#6a6a6a" stroke="#000" stroke-width="0.95"/>
<line x1="64.00" y1="250.60" x2="64.00" y2="252.80" stroke="#000" stroke-width="0.9"/>
<line x1="62.20" y1="250.60" x2="65.80" y2="250.60" stroke="#000" stroke-width="1.1"/>
<rect x="67.40" y="262.00" width="6.20" height="0.80" fill="#e6e6e6" stroke="#000" stroke-width="0.95"/>
<rect x="73.80" y="261.80" width="6.20" height="1.00" fill="#0a0a0a" stroke="#000" stroke-width="0.95"/>
<rect x="86.20" y="249.60" width="6.10" height="13.20" fill="#ffffff" stroke="#000" stroke-width="0.95"/>
<line x1="89.25" y1="248.60" x2="89.25" y2="249.60" stroke="#000" stroke-width="0.9"/>
<line x1="87.45" y1="248.60" x2="91.05" y2="248.60" stroke="#000" stroke-width="1.1"/>
<rect x="92.50" y="253.00" width="6.20" height="9.80" fill="#6a6a6a" stroke="#000" stroke-width="0.95"/>
<line x1="95.60" y1="251.40" x2="95.60" y2="253.00" stroke="#000" stroke-width="0.9"/>
<line x1="93.80" y1="251.40" x2="97.40" y2="251.40" stroke="#000" stroke-width="1.1"/>
<rect x="98.90" y="262.00" width="6.10" height="0.80" fill="#e6e6e6" stroke="#000" stroke-width="0.95"/>
<rect x="105.00" y="261.50" width="6.00" height="1.30" fill="#0a0a0a" stroke="#000" stroke-width="0.95"/>
<path d="M26.30 226.50 V201.30 H44.90 V258.20" fill="none" stroke="#777" stroke-width="0.6"/>
<rect x="32.30" y="199.80" width="6.60" height="3" fill="#fff"/>
<text x="35.60" y="204.50" font-size="8" font-weight="bold" text-anchor="middle" fill="#000">**</text>
<path d="M57.50 252.80 V247.50 H77.20 V261.00" fill="none" stroke="#777" stroke-width="0.6"/>
<rect x="65.40" y="246.00" width="3.90" height="3" fill="#fff"/>
<text x="67.35" y="250.70" font-size="8" font-weight="bold" text-anchor="middle" fill="#000">*</text>
<path d="M88.80 248.00 V243.40 H108.70 V261.00" fill="none" stroke="#777" stroke-width="0.6"/>
<rect x="94.10" y="241.90" width="9.30" height="3" fill="#fff"/>
<text x="98.75" y="246.60" font-size="8" font-weight="bold" text-anchor="middle" fill="#000">***</text>
<text transform="translate(8.20 262.30) rotate(-90)" x="0" y="0" font-size="5" font-weight="bold" fill="#000" textLength="60.80" lengthAdjust="spacingAndGlyphs">Absolute cell number x 10<tspan font-size="3.4" dy="-1.8">5</tspan></text>
<text x="27.80" y="269.60" font-size="5.6" font-weight="bold" text-anchor="start" fill="#111" textLength="16.20" lengthAdjust="spacingAndGlyphs">spleen</text>
<text x="61.30" y="269.60" font-size="5.6" font-weight="bold" text-anchor="start" fill="#111" textLength="11.00" lengthAdjust="spacingAndGlyphs">Liver</text>
<text x="93.00" y="269.60" font-size="5.6" font-weight="bold" text-anchor="start" fill="#111" textLength="10.70" lengthAdjust="spacingAndGlyphs">Lung</text>
<line x1="139.00" y1="200.60" x2="139.00" y2="262.60" stroke="#444" stroke-width="0.8"/>
<line x1="139.00" y1="262.60" x2="232.50" y2="262.60" stroke="#444" stroke-width="0.8"/>
<line x1="137.70" y1="262.60" x2="139.00" y2="262.60" stroke="#444" stroke-width="0.6"/>
<text x="137.20" y="264.20" font-size="4.6" font-weight="bold" text-anchor="end" fill="#222">0.0</text>
<line x1="137.70" y1="242.00" x2="139.00" y2="242.00" stroke="#444" stroke-width="0.6"/>
<text x="137.20" y="243.60" font-size="4.6" font-weight="bold" text-anchor="end" fill="#222">0.1</text>
<line x1="137.70" y1="221.30" x2="139.00" y2="221.30" stroke="#444" stroke-width="0.6"/>
<text x="137.20" y="222.90" font-size="4.6" font-weight="bold" text-anchor="end" fill="#222">0.2</text>
<line x1="137.70" y1="200.60" x2="139.00" y2="200.60" stroke="#444" stroke-width="0.6"/>
<text x="137.20" y="202.20" font-size="4.6" font-weight="bold" text-anchor="end" fill="#222">0.3</text>
<rect x="142.50" y="256.00" width="6.10" height="6.80" fill="#ffffff" stroke="#000" stroke-width="0.95"/>
<line x1="145.55" y1="251.80" x2="145.55" y2="256.00" stroke="#000" stroke-width="0.9"/>
<line x1="143.75" y1="251.80" x2="147.35" y2="251.80" stroke="#000" stroke-width="1.1"/>
<rect x="148.60" y="256.30" width="6.00" height="6.50" fill="#6a6a6a" stroke="#000" stroke-width="0.95"/>
<line x1="151.60" y1="253.40" x2="151.60" y2="256.30" stroke="#000" stroke-width="0.9"/>
<line x1="149.80" y1="253.40" x2="153.40" y2="253.40" stroke="#000" stroke-width="1.1"/>
<rect x="154.80" y="212.60" width="6.00" height="50.20" fill="#e6e6e6" stroke="#000" stroke-width="0.95"/>
<line x1="157.80" y1="205.00" x2="157.80" y2="212.60" stroke="#000" stroke-width="0.9"/>
<line x1="156.00" y1="205.00" x2="159.60" y2="205.00" stroke="#000" stroke-width="1.1"/>
<rect x="161.00" y="247.00" width="6.40" height="15.80" fill="#0a0a0a" stroke="#000" stroke-width="0.95"/>
<line x1="164.20" y1="245.00" x2="164.20" y2="247.00" stroke="#000" stroke-width="0.9"/>
<line x1="162.40" y1="245.00" x2="166.00" y2="245.00" stroke="#000" stroke-width="1.1"/>
<rect x="173.30" y="260.80" width="6.00" height="2.00" fill="#ffffff" stroke="#000" stroke-width="0.95"/>
<rect x="179.30" y="262.20" width="6.00" height="0.60" fill="#6a6a6a" stroke="#000" stroke-width="0.95"/>
<rect x="185.50" y="240.30" width="6.70" height="22.50" fill="#e6e6e6" stroke="#000" stroke-width="0.95"/>
<line x1="188.85" y1="235.60" x2="188.85" y2="240.30" stroke="#000" stroke-width="0.9"/>
<line x1="187.05" y1="235.60" x2="190.65" y2="235.60" stroke="#000" stroke-width="1.1"/>
<rect x="192.40" y="261.60" width="5.20" height="1.20" fill="#0a0a0a" stroke="#000" stroke-width="0.95"/>
<rect x="204.00" y="261.00" width="6.00" height="1.80" fill="#ffffff" stroke="#000" stroke-width="0.95"/>
<rect x="210.00" y="262.00" width="6.00" height="0.80" fill="#6a6a6a" stroke="#000" stroke-width="0.95"/>
<rect x="217.50" y="243.80" width="5.80" height="19.00" fill="#e6e6e6" stroke="#000" stroke-width="0.95"/>
<line x1="220.40" y1="241.30" x2="220.40" y2="243.80" stroke="#000" stroke-width="0.9"/>
<line x1="218.60" y1="241.30" x2="222.20" y2="241.30" stroke="#000" stroke-width="1.1"/>
<rect x="223.50" y="258.80" width="6.10" height="4.00" fill="#0a0a0a" stroke="#000" stroke-width="0.95"/>
<path d="M156.50 204.00 V200.40 H165.30 V246.00" fill="none" stroke="#777" stroke-width="0.6"/>
<rect x="158.10" y="198.90" width="6.60" height="3" fill="#fff"/>
<text x="161.40" y="203.60" font-size="8" font-weight="bold" text-anchor="middle" fill="#000">**</text>
<path d="M188.00 234.50 V232.30 H195.80 V261.00" fill="none" stroke="#777" stroke-width="0.6"/>
<rect x="190.25" y="230.80" width="3.90" height="3" fill="#fff"/>
<text x="192.20" y="235.50" font-size="8" font-weight="bold" text-anchor="middle" fill="#000">*</text>
<path d="M219.20 240.50 V236.00 H227.70 V258.00" fill="none" stroke="#777" stroke-width="0.6"/>
<rect x="218.95" y="234.50" width="9.30" height="3" fill="#fff"/>
<text x="223.60" y="239.20" font-size="8" font-weight="bold" text-anchor="middle" fill="#000">***</text>
<text transform="translate(123.30 262.30) rotate(-90)" x="0" y="0" font-size="5" font-weight="bold" fill="#000" textLength="60.80" lengthAdjust="spacingAndGlyphs">Absolute cell number x 10<tspan font-size="3.4" dy="-1.8">5</tspan></text>
<text x="147.00" y="269.60" font-size="5.6" font-weight="bold" text-anchor="start" fill="#111" textLength="16.00" lengthAdjust="spacingAndGlyphs">Spleen</text>
<text x="180.00" y="269.60" font-size="5.6" font-weight="bold" text-anchor="start" fill="#111" textLength="11.20" lengthAdjust="spacingAndGlyphs">Liver</text>
<text x="211.50" y="269.60" font-size="5.6" font-weight="bold" text-anchor="start" fill="#111" textLength="11.00" lengthAdjust="spacingAndGlyphs">Lung</text>
<line x1="258.80" y1="200.60" x2="258.80" y2="262.60" stroke="#444" stroke-width="0.8"/>
<line x1="258.80" y1="262.60" x2="352.00" y2="262.60" stroke="#444" stroke-width="0.8"/>
<line x1="257.50" y1="262.60" x2="258.80" y2="262.60" stroke="#444" stroke-width="0.6"/>
<text x="257.00" y="264.20" font-size="4.6" font-weight="bold" text-anchor="end" fill="#222">0.0</text>
<line x1="257.50" y1="241.50" x2="258.80" y2="241.50" stroke="#444" stroke-width="0.6"/>
<text x="257.00" y="243.10" font-size="4.6" font-weight="bold" text-anchor="end" fill="#222">0.5</text>
<line x1="257.50" y1="221.00" x2="258.80" y2="221.00" stroke="#444" stroke-width="0.6"/>
<text x="257.00" y="222.60" font-size="4.6" font-weight="bold" text-anchor="end" fill="#222">1.0</text>
<line x1="257.50" y1="200.60" x2="258.80" y2="200.60" stroke="#444" stroke-width="0.6"/>
<text x="257.00" y="202.20" font-size="4.6" font-weight="bold" text-anchor="end" fill="#222">1.5</text>
<rect x="261.50" y="250.20" width="6.10" height="12.60" fill="#ffffff" stroke="#000" stroke-width="0.95"/>
<line x1="264.55" y1="246.30" x2="264.55" y2="250.20" stroke="#000" stroke-width="0.9"/>
<line x1="262.75" y1="246.30" x2="266.35" y2="246.30" stroke="#000" stroke-width="1.1"/>
<rect x="267.80" y="250.90" width="6.00" height="11.90" fill="#6a6a6a" stroke="#000" stroke-width="0.95"/>
<line x1="270.80" y1="246.50" x2="270.80" y2="250.90" stroke="#000" stroke-width="0.9"/>
<line x1="269.00" y1="246.50" x2="272.60" y2="246.50" stroke="#000" stroke-width="1.1"/>
<rect x="274.00" y="247.60" width="6.60" height="15.20" fill="#e6e6e6" stroke="#000" stroke-width="0.95"/>
<line x1="277.30" y1="240.90" x2="277.30" y2="247.60" stroke="#000" stroke-width="0.9"/>
<line x1="275.50" y1="240.90" x2="279.10" y2="240.90" stroke="#000" stroke-width="1.1"/>
<rect x="280.60" y="252.10" width="6.30" height="10.70" fill="#0a0a0a" stroke="#000" stroke-width="0.95"/>
<rect x="292.50" y="212.50" width="6.30" height="50.30" fill="#ffffff" stroke="#000" stroke-width="0.95"/>
<line x1="295.65" y1="208.80" x2="295.65" y2="212.50" stroke="#000" stroke-width="0.9"/>
<line x1="293.85" y1="208.80" x2="297.45" y2="208.80" stroke="#000" stroke-width="1.1"/>
<rect x="298.80" y="239.40" width="6.80" height="23.40" fill="#6a6a6a" stroke="#000" stroke-width="0.95"/>
<line x1="302.20" y1="235.00" x2="302.20" y2="239.40" stroke="#000" stroke-width="0.9"/>
<line x1="300.40" y1="235.00" x2="304.00" y2="235.00" stroke="#000" stroke-width="1.1"/>
<rect x="305.60" y="259.60" width="5.70" height="3.20" fill="#e6e6e6" stroke="#000" stroke-width="0.95"/>
<rect x="311.30" y="257.10" width="6.20" height="5.70" fill="#0a0a0a" stroke="#000" stroke-width="0.95"/>
<rect x="323.50" y="243.10" width="6.30" height="19.70" fill="#ffffff" stroke="#000" stroke-width="0.95"/>
<line x1="326.65" y1="241.30" x2="326.65" y2="243.10" stroke="#000" stroke-width="0.9"/>
<line x1="324.85" y1="241.30" x2="328.45" y2="241.30" stroke="#000" stroke-width="1.1"/>
<rect x="330.20" y="246.00" width="6.30" height="16.80" fill="#6a6a6a" stroke="#000" stroke-width="0.95"/>
<line x1="333.35" y1="243.50" x2="333.35" y2="246.00" stroke="#000" stroke-width="0.9"/>
<line x1="331.55" y1="243.50" x2="335.15" y2="243.50" stroke="#000" stroke-width="1.1"/>
<rect x="336.50" y="259.80" width="5.80" height="3.00" fill="#e6e6e6" stroke="#000" stroke-width="0.95"/>
<rect x="342.30" y="259.00" width="5.80" height="3.80" fill="#0a0a0a" stroke="#000" stroke-width="0.95"/>
<path d="M296.00 208.00 V203.80 H314.80 V256.00" fill="none" stroke="#777" stroke-width="0.6"/>
<rect x="299.85" y="202.30" width="9.30" height="3" fill="#fff"/>
<text x="304.50" y="207.00" font-size="8" font-weight="bold" text-anchor="middle" fill="#000">***</text>
<path d="M327.30 240.50 V234.40 H345.60 V258.00" fill="none" stroke="#777" stroke-width="0.6"/>
<rect x="332.90" y="232.90" width="6.60" height="3" fill="#fff"/>
<text x="336.20" y="237.60" font-size="8" font-weight="bold" text-anchor="middle" fill="#000">**</text>
<text transform="translate(243.30 262.30) rotate(-90)" x="0" y="0" font-size="5" font-weight="bold" fill="#000" textLength="60.80" lengthAdjust="spacingAndGlyphs">Absolute cell number x 10<tspan font-size="3.4" dy="-1.8">5</tspan></text>
<text x="266.30" y="269.60" font-size="5.6" font-weight="bold" text-anchor="start" fill="#111" textLength="16.00" lengthAdjust="spacingAndGlyphs">Spleen</text>
<text x="299.00" y="269.60" font-size="5.6" font-weight="bold" text-anchor="start" fill="#111" textLength="11.60" lengthAdjust="spacingAndGlyphs">Liver</text>
<text x="329.00" y="269.60" font-size="5.6" font-weight="bold" text-anchor="start" fill="#111" textLength="12.00" lengthAdjust="spacingAndGlyphs">Lung</text>
<line x1="377.40" y1="201.00" x2="377.40" y2="263.20" stroke="#444" stroke-width="0.8"/>
<line x1="377.40" y1="263.20" x2="471.30" y2="263.20" stroke="#444" stroke-width="0.8"/>
<line x1="376.10" y1="263.20" x2="377.40" y2="263.20" stroke="#444" stroke-width="0.6"/>
<text x="375.60" y="264.80" font-size="4.6" font-weight="bold" text-anchor="end" fill="#222">0.0</text>
<line x1="376.10" y1="242.70" x2="377.40" y2="242.70" stroke="#444" stroke-width="0.6"/>
<text x="375.60" y="244.30" font-size="4.6" font-weight="bold" text-anchor="end" fill="#222">0.5</text>
<line x1="376.10" y1="221.90" x2="377.40" y2="221.90" stroke="#444" stroke-width="0.6"/>
<text x="375.60" y="223.50" font-size="4.6" font-weight="bold" text-anchor="end" fill="#222">1.0</text>
<line x1="376.10" y1="201.00" x2="377.40" y2="201.00" stroke="#444" stroke-width="0.6"/>
<text x="375.60" y="202.60" font-size="4.6" font-weight="bold" text-anchor="end" fill="#222">1.5</text>
<rect x="380.60" y="251.30" width="6.30" height="11.50" fill="#ffffff" stroke="#000" stroke-width="0.95"/>
<line x1="383.75" y1="247.10" x2="383.75" y2="251.30" stroke="#000" stroke-width="0.9"/>
<line x1="381.95" y1="247.10" x2="385.55" y2="247.10" stroke="#000" stroke-width="1.1"/>
<rect x="386.90" y="250.30" width="6.60" height="12.50" fill="#6a6a6a" stroke="#000" stroke-width="0.95"/>
<line x1="390.20" y1="244.30" x2="390.20" y2="250.30" stroke="#000" stroke-width="0.9"/>
<line x1="388.40" y1="244.30" x2="392.00" y2="244.30" stroke="#000" stroke-width="1.1"/>
<rect x="393.80" y="227.80" width="6.00" height="35.00" fill="#e6e6e6" stroke="#000" stroke-width="0.95"/>
<line x1="396.80" y1="210.00" x2="396.80" y2="227.80" stroke="#000" stroke-width="0.9"/>
<line x1="395.00" y1="210.00" x2="398.60" y2="210.00" stroke="#000" stroke-width="1.1"/>
<rect x="399.80" y="229.80" width="5.80" height="33.00" fill="#0a0a0a" stroke="#000" stroke-width="0.95"/>
<line x1="402.70" y1="226.30" x2="402.70" y2="229.80" stroke="#000" stroke-width="0.9"/>
<line x1="400.90" y1="226.30" x2="404.50" y2="226.30" stroke="#000" stroke-width="1.1"/>
<rect x="411.30" y="259.60" width="6.80" height="3.20" fill="#ffffff" stroke="#000" stroke-width="0.95"/>
<rect x="418.10" y="259.30" width="6.30" height="3.50" fill="#6a6a6a" stroke="#000" stroke-width="0.95"/>
<rect x="424.40" y="254.40" width="6.20" height="8.40" fill="#e6e6e6" stroke="#000" stroke-width="0.95"/>
<line x1="427.50" y1="251.30" x2="427.50" y2="254.40" stroke="#000" stroke-width="0.9"/>
<line x1="425.70" y1="251.30" x2="429.30" y2="251.30" stroke="#000" stroke-width="1.1"/>
<rect x="430.60" y="246.90" width="6.30" height="15.90" fill="#0a0a0a" stroke="#000" stroke-width="0.95"/>
<rect x="442.50" y="261.30" width="6.30" height="1.50" fill="#ffffff" stroke="#000" stroke-width="0.95"/>
<rect x="448.80" y="261.30" width="6.20" height="1.50" fill="#6a6a6a" stroke="#000" stroke-width="0.95"/>
<rect x="455.60" y="255.90" width="5.70" height="6.90" fill="#e6e6e6" stroke="#000" stroke-width="0.95"/>
<line x1="458.45" y1="254.00" x2="458.45" y2="255.90" stroke="#000" stroke-width="0.9"/>
<line x1="456.65" y1="254.00" x2="460.25" y2="254.00" stroke="#000" stroke-width="1.1"/>
<rect x="461.30" y="255.30" width="6.20" height="7.50" fill="#0a0a0a" stroke="#000" stroke-width="0.95"/>
<line x1="464.40" y1="253.80" x2="464.40" y2="255.30" stroke="#000" stroke-width="0.9"/>
<line x1="462.60" y1="253.80" x2="466.20" y2="253.80" stroke="#000" stroke-width="1.1"/>
<path d="M384.00 246.00 V204.40 H403.50 V225.00" fill="none" stroke="#777" stroke-width="0.6"/>
<rect x="391.85" y="202.90" width="3.90" height="3" fill="#fff"/>
<text x="393.80" y="207.60" font-size="8" font-weight="bold" text-anchor="middle" fill="#000">*</text>
<path d="M415.00 258.50 V238.10 H434.00 V245.50" fill="none" stroke="#777" stroke-width="0.6"/>
<rect x="420.25" y="236.60" width="9.30" height="3" fill="#fff"/>
<text x="424.90" y="241.30" font-size="8" font-weight="bold" text-anchor="middle" fill="#000">***</text>
<path d="M445.60 260.00 V246.50 H465.60 V253.00" fill="none" stroke="#777" stroke-width="0.6"/>
<rect x="453.05" y="245.00" width="3.90" height="3" fill="#fff"/>
<text x="455.00" y="249.70" font-size="8" font-weight="bold" text-anchor="middle" fill="#000">*</text>
<text transform="translate(362.00 262.30) rotate(-90)" x="0" y="0" font-size="5" font-weight="bold" fill="#000" textLength="60.80" lengthAdjust="spacingAndGlyphs">Absolute cell number x 10<tspan font-size="3.4" dy="-1.8">5</tspan></text>
<text x="385.60" y="269.60" font-size="5.6" font-weight="bold" text-anchor="start" fill="#111" textLength="15.70" lengthAdjust="spacingAndGlyphs">Spleen</text>
<text x="418.00" y="269.60" font-size="5.6" font-weight="bold" text-anchor="start" fill="#111" textLength="11.00" lengthAdjust="spacingAndGlyphs">Liver</text>
<text x="449.40" y="269.60" font-size="5.6" font-weight="bold" text-anchor="start" fill="#111" textLength="11.20" lengthAdjust="spacingAndGlyphs">Lung</text>
<rect x="469.4" y="200.00" width="7.2" height="3.9" rx="0.5" fill="#ffffff" stroke="#000" stroke-width="0.9"/>
<text x="480.00" y="203.90" font-size="5.6" fill="#222" textLength="8.80" lengthAdjust="spacingAndGlyphs" stroke="#222" stroke-width="0.1"><tspan>WT</tspan></text>
<rect x="469.4" y="207.30" width="7.2" height="3.9" rx="0.5" fill="#6a6a6a" stroke="#000" stroke-width="0.9"/>
<text x="480.00" y="211.20" font-size="5.6" fill="#222" textLength="20.00" lengthAdjust="spacingAndGlyphs" stroke="#222" stroke-width="0.1"><tspan>RORγt</tspan><tspan font-size="3.08" dy="-2.13">-/-</tspan></text>
<rect x="469.4" y="214.60" width="7.2" height="3.9" rx="0.5" fill="#e6e6e6" stroke="#000" stroke-width="0.9"/>
<text x="480.00" y="218.50" font-size="5.6" fill="#222" textLength="16.00" lengthAdjust="spacingAndGlyphs" stroke="#222" stroke-width="0.1"><tspan>T-bet</tspan><tspan font-size="3.08" dy="-2.13">-/-</tspan></text>
<rect x="469.4" y="221.90" width="7.2" height="4.6" rx="0.5" fill="#0a0a0a" stroke="#000" stroke-width="0.9"/>
<text x="480.00" y="225.80" font-size="5.6" fill="#222" textLength="37.00" lengthAdjust="spacingAndGlyphs" stroke="#222" stroke-width="0.1"><tspan>RORγt</tspan><tspan font-size="3.08" dy="-2.13">-/-</tspan><tspan dy="2.13">/T-bet</tspan><tspan font-size="3.08" dy="-2.13">-/-</tspan></text>
</g>
</svg>
</div></body></html>
